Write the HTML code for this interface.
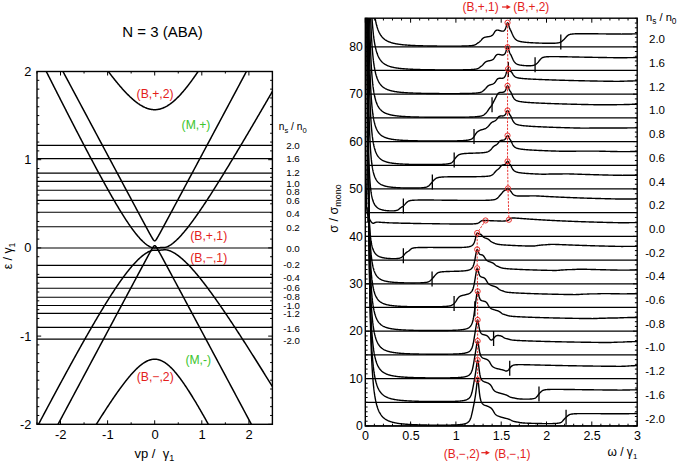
<!DOCTYPE html><html><head><meta charset="utf-8"><style>html,body{margin:0;padding:0;background:#fff;}svg{display:block;}text{font-family:"Liberation Sans", sans-serif;}</style></head><body>
<svg width="679" height="463" viewBox="0 0 679 463">
<rect width="679" height="463" fill="#fff"/>
<defs><clipPath id="cl"><rect x="37" y="71.5" width="235.4" height="352.8"/></clipPath>
<clipPath id="cr"><rect x="365.3" y="18.2" width="271.9" height="407.8"/></clipPath></defs>
<text x="162.5" y="37.2" font-size="15" text-anchor="middle">N = 3 (ABA)</text>
<line x1="37" y1="145.4" x2="272.4" y2="145.4" stroke="#000" stroke-width="1.15"/>
<line x1="37" y1="158.6" x2="272.4" y2="158.6" stroke="#000" stroke-width="1.15"/>
<line x1="37" y1="173.1" x2="272.4" y2="173.1" stroke="#000" stroke-width="1.15"/>
<line x1="37" y1="181.4" x2="272.4" y2="181.4" stroke="#000" stroke-width="1.15"/>
<line x1="37" y1="190.2" x2="272.4" y2="190.2" stroke="#000" stroke-width="1.15"/>
<line x1="37" y1="200.3" x2="272.4" y2="200.3" stroke="#000" stroke-width="1.15"/>
<line x1="37" y1="212.2" x2="272.4" y2="212.2" stroke="#000" stroke-width="1.15"/>
<line x1="37" y1="226.7" x2="272.4" y2="226.7" stroke="#000" stroke-width="1.15"/>
<line x1="37" y1="248" x2="272.4" y2="248" stroke="#000" stroke-width="1.15"/>
<line x1="37" y1="265.4" x2="272.4" y2="265.4" stroke="#000" stroke-width="1.15"/>
<line x1="37" y1="277.4" x2="272.4" y2="277.4" stroke="#000" stroke-width="1.15"/>
<line x1="37" y1="288.2" x2="272.4" y2="288.2" stroke="#000" stroke-width="1.15"/>
<line x1="37" y1="297.2" x2="272.4" y2="297.2" stroke="#000" stroke-width="1.15"/>
<line x1="37" y1="305.5" x2="272.4" y2="305.5" stroke="#000" stroke-width="1.15"/>
<line x1="37" y1="313.4" x2="272.4" y2="313.4" stroke="#000" stroke-width="1.15"/>
<line x1="37" y1="327.4" x2="272.4" y2="327.4" stroke="#000" stroke-width="1.15"/>
<line x1="37" y1="339.1" x2="272.4" y2="339.1" stroke="#000" stroke-width="1.15"/>
<g clip-path="url(#cl)" fill="none" stroke="#000" stroke-width="1.5" stroke-linejoin="round">
<polyline points="27.53,540.56 28,539.75 28.47,538.93 28.94,538.11 29.41,537.29 29.88,536.48 30.36,535.66 30.83,534.84 31.3,534.03 31.77,533.21 32.24,532.39 32.71,531.58 33.18,530.76 33.65,529.95 34.12,529.13 34.59,528.31 35.07,527.5 35.54,526.68 36.01,525.87 36.48,525.05 36.95,524.24 37.42,523.43 37.89,522.61 38.36,521.8 38.83,520.98 39.3,520.17 39.78,519.36 40.25,518.54 40.72,517.73 41.19,516.92 41.66,516.1 42.13,515.29 42.6,514.48 43.07,513.67 43.54,512.86 44.01,512.04 44.49,511.23 44.96,510.42 45.43,509.61 45.9,508.8 46.37,507.99 46.84,507.18 47.31,506.37 47.78,505.56 48.25,504.75 48.72,503.94 49.2,503.13 49.67,502.32 50.14,501.52 50.61,500.71 51.08,499.9 51.55,499.09 52.02,498.29 52.49,497.48 52.96,496.67 53.43,495.86 53.91,495.06 54.38,494.25 54.85,493.45 55.32,492.64 55.79,491.84 56.26,491.03 56.73,490.23 57.2,489.42 57.67,488.62 58.14,487.82 58.62,487.01 59.09,486.21 59.56,485.41 60.03,484.6 60.5,483.8 60.97,483 61.44,482.2 61.91,481.4 62.38,480.6 62.85,479.8 63.33,479 63.8,478.2 64.27,477.4 64.74,476.6 65.21,475.8 65.68,475.01 66.15,474.21 66.62,473.41 67.09,472.62 67.56,471.82 68.04,471.02 68.51,470.23 68.98,469.43 69.45,468.64 69.92,467.85 70.39,467.05 70.86,466.26 71.33,465.47 71.8,464.67 72.27,463.88 72.75,463.09 73.22,462.3 73.69,461.51 74.16,460.72 74.63,459.93 75.1,459.14 75.57,458.36 76.04,457.57 76.51,456.78 76.98,456 77.46,455.21 77.93,454.43 78.4,453.64 78.87,452.86 79.34,452.07 79.81,451.29 80.28,450.51 80.75,449.73 81.22,448.95 81.69,448.17 82.17,447.39 82.64,446.61 83.11,445.83 83.58,445.05 84.05,444.28 84.52,443.5 84.99,442.73 85.46,441.95 85.93,441.18 86.4,440.4 86.88,439.63 87.35,438.86 87.82,438.09 88.29,437.32 88.76,436.55 89.23,435.79 89.7,435.02 90.17,434.25 90.64,433.49 91.11,432.72 91.59,431.96 92.06,431.2 92.53,430.44 93,429.68 93.47,428.92 93.94,428.16 94.41,427.4 94.88,426.65 95.35,425.89 95.82,425.14 96.3,424.39 96.77,423.63 97.24,422.88 97.71,422.13 98.18,421.39 98.65,420.64 99.12,419.9 99.59,419.15 100.06,418.41 100.53,417.67 101.01,416.93 101.48,416.19 101.95,415.45 102.42,414.72 102.89,413.98 103.36,413.25 103.83,412.52 104.3,411.79 104.77,411.06 105.24,410.34 105.72,409.61 106.19,408.89 106.66,408.17 107.13,407.45 107.6,406.73 108.07,406.02 108.54,405.31 109.01,404.6 109.48,403.89 109.95,403.18 110.43,402.47 110.9,401.77 111.37,401.07 111.84,400.37 112.31,399.68 112.78,398.98 113.25,398.29 113.72,397.6 114.19,396.92 114.66,396.23 115.14,395.55 115.61,394.88 116.08,394.2 116.55,393.53 117.02,392.86 117.49,392.19 117.96,391.53 118.43,390.87 118.9,390.21 119.37,389.56 119.85,388.91 120.32,388.26 120.79,387.62 121.26,386.98 121.73,386.34 122.2,385.71 122.67,385.08 123.14,384.45 123.61,383.83 124.08,383.22 124.56,382.6 125.03,382 125.5,381.39 125.97,380.79 126.44,380.2 126.91,379.61 127.38,379.03 127.85,378.45 128.32,377.87 128.79,377.3 129.27,376.74 129.74,376.18 130.21,375.63 130.68,375.09 131.15,374.55 131.62,374.01 132.09,373.48 132.56,372.96 133.03,372.45 133.5,371.94 133.98,371.44 134.45,370.95 134.92,370.46 135.39,369.98 135.86,369.51 136.33,369.05 136.8,368.59 137.27,368.15 137.74,367.71 138.21,367.28 138.69,366.86 139.16,366.44 139.63,366.04 140.1,365.65 140.57,365.26 141.04,364.89 141.51,364.53 141.98,364.17 142.45,363.83 142.92,363.5 143.4,363.17 143.87,362.86 144.34,362.56 144.81,362.27 145.28,362 145.75,361.73 146.22,361.48 146.69,361.24 147.16,361.01 147.63,360.8 148.11,360.6 148.58,360.41 149.05,360.23 149.52,360.07 149.99,359.92 150.46,359.78 150.93,359.66 151.4,359.55 151.87,359.46 152.34,359.38 152.82,359.31 153.29,359.26 153.76,359.23 154.23,359.2 154.7,359.2 155.17,359.2 155.64,359.23 156.11,359.26 156.58,359.31 157.05,359.38 157.53,359.46 158,359.56 158.47,359.67 158.94,359.79 159.41,359.93 159.88,360.09 160.35,360.26 160.82,360.44 161.29,360.64 161.76,360.85 162.24,361.08 162.71,361.32 163.18,361.57 163.65,361.84 164.12,362.12 164.59,362.42 165.06,362.72 165.53,363.05 166,363.38 166.47,363.73 166.95,364.09 167.42,364.46 167.89,364.84 168.36,365.24 168.83,365.64 169.3,366.06 169.77,366.49 170.24,366.94 170.71,367.39 171.19,367.85 171.66,368.33 172.13,368.81 172.6,369.3 173.07,369.81 173.54,370.32 174.01,370.84 174.48,371.38 174.95,371.92 175.42,372.47 175.89,373.03 176.37,373.6 176.84,374.17 177.31,374.76 177.78,375.35 178.25,375.95 178.72,376.56 179.19,377.17 179.66,377.79 180.13,378.42 180.6,379.06 181.08,379.7 181.55,380.35 182.02,381 182.49,381.67 182.96,382.33 183.43,383.01 183.9,383.69 184.37,384.37 184.84,385.06 185.31,385.76 185.79,386.46 186.26,387.17 186.73,387.88 187.2,388.59 187.67,389.32 188.14,390.04 188.61,390.77 189.08,391.51 189.55,392.25 190.02,392.99 190.5,393.74 190.97,394.49 191.44,395.24 191.91,396 192.38,396.76 192.85,397.53 193.32,398.3 193.79,399.07 194.26,399.85 194.73,400.63 195.21,401.41 195.68,402.2 196.15,402.99 196.62,403.78 197.09,404.58 197.56,405.38 198.03,406.18 198.5,406.98 198.97,407.79 199.44,408.6 199.92,409.41 200.39,410.22 200.86,411.04 201.33,411.86 201.8,412.68 202.27,413.51 202.74,414.33 203.21,415.16 203.68,415.99 204.15,416.82 204.63,417.66 205.1,418.49 205.57,419.33 206.04,420.17 206.51,421.02 206.98,421.86 207.45,422.71 207.92,423.55 208.39,424.4 208.86,425.25 209.34,426.11 209.81,426.96 210.28,427.82 210.75,428.68 211.22,429.53 211.69,430.4 212.16,431.26 212.63,432.12 213.1,432.99 213.57,433.85 214.05,434.72 214.52,435.59 214.99,436.46 215.46,437.33 215.93,438.2 216.4,439.08 216.87,439.95 217.34,440.83 217.81,441.71 218.28,442.59 218.76,443.47 219.23,444.35 219.7,445.23 220.17,446.11 220.64,447 221.11,447.88 221.58,448.77 222.05,449.65 222.52,450.54 223,451.43 223.47,452.32 223.94,453.21 224.41,454.1 224.88,455 225.35,455.89 225.82,456.78 226.29,457.68 226.76,458.57 227.23,459.47 227.7,460.37 228.18,461.27 228.65,462.17 229.12,463.07 229.59,463.97 230.06,464.87 230.53,465.77 231,466.67 231.47,467.58 231.94,468.48 232.42,469.39 232.89,470.29 233.36,471.2 233.83,472.1 234.3,473.01 234.77,473.92 235.24,474.83 235.71,475.74 236.18,476.65 236.65,477.56 237.12,478.47 237.6,479.38 238.07,480.29 238.54,481.2 239.01,482.12 239.48,483.03 239.95,483.95 240.42,484.86 240.89,485.78 241.36,486.69 241.83,487.61 242.31,488.52 242.78,489.44 243.25,490.36 243.72,491.28 244.19,492.19 244.66,493.11 245.13,494.03 245.6,494.95 246.07,495.87 246.55,496.79 247.02,497.72 247.49,498.64 247.96,499.56 248.43,500.48 248.9,501.4 249.37,502.33 249.84,503.25 250.31,504.17 250.78,505.1 251.25,506.02 251.73,506.95 252.2,507.87 252.67,508.8 253.14,509.73 253.61,510.65 254.08,511.58 254.55,512.51 255.02,513.43 255.49,514.36 255.97,515.29 256.44,516.22 256.91,517.15 257.38,518.07 257.85,519 258.32,519.93 258.79,520.86 259.26,521.79 259.73,522.72 260.2,523.65 260.68,524.59 261.15,525.52 261.62,526.45 262.09,527.38 262.56,528.31 263.03,529.24 263.5,530.18 263.97,531.11 264.44,532.04 264.91,532.98 265.38,533.91 265.86,534.84 266.33,535.78 266.8,536.71 267.27,537.65 267.74,538.58 268.21,539.52 268.68,540.45 269.15,541.39 269.62,542.32 270.1,543.26 270.57,544.2 271.04,545.13 271.51,546.07 271.98,547.01 272.45,547.94 272.92,548.88 273.39,549.82 273.86,550.76 274.33,551.69 274.8,552.63 275.28,553.57 275.75,554.51 276.22,555.45 276.69,556.39 277.16,557.32 277.63,558.26 278.1,559.2 278.57,560.14 279.04,561.08 279.51,562.02 279.99,562.96 280.46,563.9 280.93,564.84 281.4,565.78 281.87,566.73"/>
<polyline points="27.53,445.1 28,444.21 28.47,443.31 28.94,442.42 29.41,441.53 29.88,440.63 30.36,439.74 30.83,438.85 31.3,437.95 31.77,437.06 32.24,436.17 32.71,435.28 33.18,434.38 33.65,433.49 34.12,432.6 34.59,431.71 35.07,430.82 35.54,429.93 36.01,429.04 36.48,428.15 36.95,427.26 37.42,426.37 37.89,425.48 38.36,424.59 38.83,423.71 39.3,422.82 39.78,421.93 40.25,421.04 40.72,420.16 41.19,419.27 41.66,418.38 42.13,417.5 42.6,416.61 43.07,415.73 43.54,414.84 44.01,413.96 44.49,413.07 44.96,412.19 45.43,411.3 45.9,410.42 46.37,409.54 46.84,408.65 47.31,407.77 47.78,406.89 48.25,406.01 48.72,405.13 49.2,404.25 49.67,403.37 50.14,402.49 50.61,401.61 51.08,400.73 51.55,399.85 52.02,398.97 52.49,398.09 52.96,397.21 53.43,396.34 53.91,395.46 54.38,394.58 54.85,393.71 55.32,392.83 55.79,391.96 56.26,391.08 56.73,390.21 57.2,389.34 57.67,388.46 58.14,387.59 58.62,386.72 59.09,385.85 59.56,384.97 60.03,384.1 60.5,383.23 60.97,382.36 61.44,381.5 61.91,380.63 62.38,379.76 62.85,378.89 63.33,378.02 63.8,377.16 64.27,376.29 64.74,375.43 65.21,374.56 65.68,373.7 66.15,372.83 66.62,371.97 67.09,371.11 67.56,370.25 68.04,369.39 68.51,368.53 68.98,367.67 69.45,366.81 69.92,365.95 70.39,365.09 70.86,364.23 71.33,363.38 71.8,362.52 72.27,361.67 72.75,360.81 73.22,359.96 73.69,359.11 74.16,358.26 74.63,357.4 75.1,356.55 75.57,355.7 76.04,354.86 76.51,354.01 76.98,353.16 77.46,352.31 77.93,351.47 78.4,350.62 78.87,349.78 79.34,348.94 79.81,348.09 80.28,347.25 80.75,346.41 81.22,345.57 81.69,344.74 82.17,343.9 82.64,343.06 83.11,342.23 83.58,341.39 84.05,340.56 84.52,339.73 84.99,338.89 85.46,338.06 85.93,337.23 86.4,336.41 86.88,335.58 87.35,334.75 87.82,333.93 88.29,333.11 88.76,332.28 89.23,331.46 89.7,330.64 90.17,329.82 90.64,329.01 91.11,328.19 91.59,327.38 92.06,326.56 92.53,325.75 93,324.94 93.47,324.13 93.94,323.32 94.41,322.52 94.88,321.71 95.35,320.91 95.82,320.11 96.3,319.31 96.77,318.51 97.24,317.71 97.71,316.91 98.18,316.12 98.65,315.33 99.12,314.54 99.59,313.75 100.06,312.96 100.53,312.18 101.01,311.39 101.48,310.61 101.95,309.83 102.42,309.05 102.89,308.28 103.36,307.51 103.83,306.73 104.3,305.96 104.77,305.2 105.24,304.43 105.72,303.67 106.19,302.91 106.66,302.15 107.13,301.39 107.6,300.64 108.07,299.89 108.54,299.14 109.01,298.39 109.48,297.65 109.95,296.9 110.43,296.17 110.9,295.43 111.37,294.7 111.84,293.96 112.31,293.24 112.78,292.51 113.25,291.79 113.72,291.07 114.19,290.35 114.66,289.64 115.14,288.93 115.61,288.22 116.08,287.52 116.55,286.82 117.02,286.12 117.49,285.43 117.96,284.74 118.43,284.05 118.9,283.37 119.37,282.69 119.85,282.02 120.32,281.34 120.79,280.68 121.26,280.01 121.73,279.35 122.2,278.7 122.67,278.05 123.14,277.4 123.61,276.76 124.08,276.12 124.56,275.49 125.03,274.86 125.5,274.24 125.97,273.62 126.44,273 126.91,272.4 127.38,271.79 127.85,271.19 128.32,270.6 128.79,270.01 129.27,269.43 129.74,268.85 130.21,268.28 130.68,267.72 131.15,267.16 131.62,266.6 132.09,266.06 132.56,265.52 133.03,264.98 133.5,264.45 133.98,263.93 134.45,263.42 134.92,262.91 135.39,262.41 135.86,261.92 136.33,261.43 136.8,260.95 137.27,260.48 137.74,260.01 138.21,259.56 138.69,259.11 139.16,258.67 139.63,258.23 140.1,257.81 140.57,257.39 141.04,256.99 141.51,256.59 141.98,256.2 142.45,255.82 142.92,255.44 143.4,255.08 143.87,254.73 144.34,254.39 144.81,254.05 145.28,253.73 145.75,253.41 146.22,253.11 146.69,252.82 147.16,252.54 147.63,252.27 148.11,252.01 148.58,251.77 149.05,251.54 149.52,251.32 149.99,251.12 150.46,250.94 150.93,250.77 151.4,250.62 151.87,250.49 152.34,250.38 152.82,250.3 153.29,250.23 153.76,250.19 154.23,250.17 154.7,250.16 155.17,250.17 155.64,250.18 156.11,250.2 156.58,250.21 157.05,250.23 157.53,250.24 158,250.25 158.47,250.24 158.94,250.23 159.41,250.22 159.88,250.19 160.35,250.16 160.82,250.12 161.29,250.08 161.76,250.03 162.24,249.98 162.71,249.93 163.18,249.88 163.65,249.83 164.12,249.8 164.59,249.77 165.06,249.77 165.53,249.78 166,249.81 166.47,249.87 166.95,249.94 167.42,250.04 167.89,250.15 168.36,250.28 168.83,250.43 169.3,250.59 169.77,250.76 170.24,250.95 170.71,251.15 171.19,251.37 171.66,251.59 172.13,251.82 172.6,252.07 173.07,252.32 173.54,252.59 174.01,252.86 174.48,253.14 174.95,253.43 175.42,253.73 175.89,254.04 176.37,254.36 176.84,254.69 177.31,255.02 177.78,255.36 178.25,255.71 178.72,256.07 179.19,256.43 179.66,256.8 180.13,257.18 180.6,257.57 181.08,257.96 181.55,258.36 182.02,258.76 182.49,259.18 182.96,259.59 183.43,260.02 183.9,260.45 184.37,260.89 184.84,261.33 185.31,261.78 185.79,262.23 186.26,262.69 186.73,263.16 187.2,263.63 187.67,264.1 188.14,264.59 188.61,265.07 189.08,265.56 189.55,266.06 190.02,266.56 190.5,267.07 190.97,267.58 191.44,268.09 191.91,268.61 192.38,269.14 192.85,269.67 193.32,270.2 193.79,270.73 194.26,271.28 194.73,271.82 195.21,272.37 195.68,272.92 196.15,273.48 196.62,274.04 197.09,274.6 197.56,275.17 198.03,275.74 198.5,276.31 198.97,276.89 199.44,277.47 199.92,278.05 200.39,278.64 200.86,279.23 201.33,279.82 201.8,280.42 202.27,281.02 202.74,281.62 203.21,282.23 203.68,282.83 204.15,283.45 204.63,284.06 205.1,284.67 205.57,285.29 206.04,285.91 206.51,286.54 206.98,287.16 207.45,287.79 207.92,288.42 208.39,289.06 208.86,289.69 209.34,290.33 209.81,290.97 210.28,291.61 210.75,292.25 211.22,292.9 211.69,293.55 212.16,294.2 212.63,294.85 213.1,295.51 213.57,296.16 214.05,296.82 214.52,297.48 214.99,298.14 215.46,298.8 215.93,299.47 216.4,300.14 216.87,300.81 217.34,301.48 217.81,302.15 218.28,302.82 218.76,303.5 219.23,304.17 219.7,304.85 220.17,305.53 220.64,306.21 221.11,306.89 221.58,307.58 222.05,308.26 222.52,308.95 223,309.64 223.47,310.33 223.94,311.02 224.41,311.71 224.88,312.41 225.35,313.1 225.82,313.8 226.29,314.49 226.76,315.19 227.23,315.89 227.7,316.59 228.18,317.3 228.65,318 229.12,318.7 229.59,319.41 230.06,320.11 230.53,320.82 231,321.53 231.47,322.24 231.94,322.95 232.42,323.66 232.89,324.37 233.36,325.09 233.83,325.8 234.3,326.52 234.77,327.23 235.24,327.95 235.71,328.67 236.18,329.39 236.65,330.11 237.12,330.83 237.6,331.55 238.07,332.27 238.54,333 239.01,333.72 239.48,334.45 239.95,335.17 240.42,335.9 240.89,336.62 241.36,337.35 241.83,338.08 242.31,338.81 242.78,339.54 243.25,340.27 243.72,341 244.19,341.74 244.66,342.47 245.13,343.2 245.6,343.94 246.07,344.67 246.55,345.41 247.02,346.14 247.49,346.88 247.96,347.62 248.43,348.36 248.9,349.1 249.37,349.83 249.84,350.57 250.31,351.32 250.78,352.06 251.25,352.8 251.73,353.54 252.2,354.28 252.67,355.03 253.14,355.77 253.61,356.51 254.08,357.26 254.55,358.01 255.02,358.75 255.49,359.5 255.97,360.24 256.44,360.99 256.91,361.74 257.38,362.49 257.85,363.24 258.32,363.99 258.79,364.74 259.26,365.49 259.73,366.24 260.2,366.99 260.68,367.74 261.15,368.49 261.62,369.25 262.09,370 262.56,370.75 263.03,371.51 263.5,372.26 263.97,373.02 264.44,373.77 264.91,374.53 265.38,375.28 265.86,376.04 266.33,376.79 266.8,377.55 267.27,378.31 267.74,379.07 268.21,379.83 268.68,380.58 269.15,381.34 269.62,382.1 270.1,382.86 270.57,383.62 271.04,384.38 271.51,385.14 271.98,385.9 272.45,386.66 272.92,387.43 273.39,388.19 273.86,388.95 274.33,389.71 274.8,390.48 275.28,391.24 275.75,392 276.22,392.77 276.69,393.53 277.16,394.29 277.63,395.06 278.1,395.82 278.57,396.59 279.04,397.36 279.51,398.12 279.99,398.89 280.46,399.65 280.93,400.42 281.4,401.19 281.87,401.95"/>
<polyline points="27.53,34.08 28,35.02 28.47,35.96 28.94,36.9 29.41,37.85 29.88,38.79 30.36,39.73 30.83,40.67 31.3,41.61 31.77,42.55 32.24,43.49 32.71,44.43 33.18,45.37 33.65,46.31 34.12,47.25 34.59,48.19 35.07,49.13 35.54,50.07 36.01,51.01 36.48,51.95 36.95,52.89 37.42,53.83 37.89,54.77 38.36,55.7 38.83,56.64 39.3,57.58 39.78,58.52 40.25,59.46 40.72,60.39 41.19,61.33 41.66,62.27 42.13,63.2 42.6,64.14 43.07,65.08 43.54,66.01 44.01,66.95 44.49,67.88 44.96,68.82 45.43,69.75 45.9,70.69 46.37,71.62 46.84,72.56 47.31,73.49 47.78,74.43 48.25,75.36 48.72,76.29 49.2,77.23 49.67,78.16 50.14,79.09 50.61,80.03 51.08,80.96 51.55,81.89 52.02,82.82 52.49,83.75 52.96,84.68 53.43,85.62 53.91,86.55 54.38,87.48 54.85,88.41 55.32,89.34 55.79,90.27 56.26,91.19 56.73,92.12 57.2,93.05 57.67,93.98 58.14,94.91 58.62,95.83 59.09,96.76 59.56,97.69 60.03,98.62 60.5,99.54 60.97,100.47 61.44,101.39 61.91,102.32 62.38,103.24 62.85,104.17 63.33,105.09 63.8,106.01 64.27,106.94 64.74,107.86 65.21,108.78 65.68,109.71 66.15,110.63 66.62,111.55 67.09,112.47 67.56,113.39 68.04,114.31 68.51,115.23 68.98,116.15 69.45,117.07 69.92,117.99 70.39,118.9 70.86,119.82 71.33,120.74 71.8,121.65 72.27,122.57 72.75,123.48 73.22,124.4 73.69,125.31 74.16,126.23 74.63,127.14 75.1,128.05 75.57,128.97 76.04,129.88 76.51,130.79 76.98,131.7 77.46,132.61 77.93,133.52 78.4,134.43 78.87,135.34 79.34,136.24 79.81,137.15 80.28,138.06 80.75,138.96 81.22,139.87 81.69,140.77 82.17,141.68 82.64,142.58 83.11,143.48 83.58,144.38 84.05,145.28 84.52,146.18 84.99,147.08 85.46,147.98 85.93,148.88 86.4,149.78 86.88,150.67 87.35,151.57 87.82,152.46 88.29,153.36 88.76,154.25 89.23,155.14 89.7,156.03 90.17,156.92 90.64,157.81 91.11,158.7 91.59,159.59 92.06,160.47 92.53,161.36 93,162.24 93.47,163.13 93.94,164.01 94.41,164.89 94.88,165.77 95.35,166.65 95.82,167.53 96.3,168.41 96.77,169.28 97.24,170.16 97.71,171.03 98.18,171.9 98.65,172.77 99.12,173.64 99.59,174.51 100.06,175.38 100.53,176.24 101.01,177.11 101.48,177.97 101.95,178.83 102.42,179.69 102.89,180.55 103.36,181.4 103.83,182.26 104.3,183.11 104.77,183.96 105.24,184.81 105.72,185.66 106.19,186.51 106.66,187.35 107.13,188.2 107.6,189.04 108.07,189.88 108.54,190.71 109.01,191.55 109.48,192.38 109.95,193.21 110.43,194.04 110.9,194.87 111.37,195.69 111.84,196.52 112.31,197.34 112.78,198.16 113.25,198.97 113.72,199.78 114.19,200.59 114.66,201.4 115.14,202.21 115.61,203.01 116.08,203.81 116.55,204.6 117.02,205.4 117.49,206.19 117.96,206.98 118.43,207.76 118.9,208.54 119.37,209.32 119.85,210.09 120.32,210.87 120.79,211.63 121.26,212.4 121.73,213.16 122.2,213.91 122.67,214.67 123.14,215.42 123.61,216.16 124.08,216.9 124.56,217.64 125.03,218.37 125.5,219.09 125.97,219.82 126.44,220.54 126.91,221.25 127.38,221.96 127.85,222.66 128.32,223.36 128.79,224.05 129.27,224.74 129.74,225.42 130.21,226.09 130.68,226.76 131.15,227.43 131.62,228.08 132.09,228.73 132.56,229.38 133.03,230.02 133.5,230.65 133.98,231.27 134.45,231.89 134.92,232.5 135.39,233.1 135.86,233.69 136.33,234.28 136.8,234.85 137.27,235.42 137.74,235.98 138.21,236.54 138.69,237.08 139.16,237.61 139.63,238.14 140.1,238.65 140.57,239.16 141.04,239.65 141.51,240.14 141.98,240.61 142.45,241.07 142.92,241.53 143.4,241.97 143.87,242.39 144.34,242.81 144.81,243.22 145.28,243.61 145.75,243.99 146.22,244.35 146.69,244.71 147.16,245.05 147.63,245.37 148.11,245.68 148.58,245.97 149.05,246.25 149.52,246.51 149.99,246.75 150.46,246.97 150.93,247.17 151.4,247.35 151.87,247.5 152.34,247.63 152.82,247.74 153.29,247.81 153.76,247.86 154.23,247.89 154.7,247.9 155.17,247.89 155.64,247.87 156.11,247.85 156.58,247.82 157.05,247.78 157.53,247.75 158,247.72 158.47,247.69 158.94,247.67 159.41,247.64 159.88,247.63 160.35,247.61 160.82,247.6 161.29,247.6 161.76,247.59 162.24,247.58 162.71,247.57 163.18,247.55 163.65,247.53 164.12,247.49 164.59,247.44 165.06,247.37 165.53,247.27 166,247.15 166.47,247.01 166.95,246.85 167.42,246.66 167.89,246.45 168.36,246.22 168.83,245.98 169.3,245.71 169.77,245.44 170.24,245.14 170.71,244.84 171.19,244.51 171.66,244.18 172.13,243.83 172.6,243.48 173.07,243.11 173.54,242.73 174.01,242.34 174.48,241.94 174.95,241.53 175.42,241.11 175.89,240.68 176.37,240.24 176.84,239.8 177.31,239.34 177.78,238.88 178.25,238.41 178.72,237.93 179.19,237.44 179.66,236.94 180.13,236.44 180.6,235.93 181.08,235.42 181.55,234.9 182.02,234.37 182.49,233.83 182.96,233.29 183.43,232.74 183.9,232.19 184.37,231.63 184.84,231.07 185.31,230.49 185.79,229.92 186.26,229.34 186.73,228.75 187.2,228.16 187.67,227.57 188.14,226.97 188.61,226.36 189.08,225.75 189.55,225.14 190.02,224.52 190.5,223.9 190.97,223.27 191.44,222.64 191.91,222.01 192.38,221.37 192.85,220.73 193.32,220.08 193.79,219.43 194.26,218.78 194.73,218.13 195.21,217.47 195.68,216.81 196.15,216.14 196.62,215.47 197.09,214.8 197.56,214.13 198.03,213.45 198.5,212.77 198.97,212.09 199.44,211.41 199.92,210.72 200.39,210.03 200.86,209.34 201.33,208.64 201.8,207.95 202.27,207.25 202.74,206.55 203.21,205.84 203.68,205.14 204.15,204.43 204.63,203.72 205.1,203.01 205.57,202.29 206.04,201.58 206.51,200.86 206.98,200.14 207.45,199.42 207.92,198.7 208.39,197.97 208.86,197.24 209.34,196.52 209.81,195.79 210.28,195.05 210.75,194.32 211.22,193.59 211.69,192.85 212.16,192.11 212.63,191.37 213.1,190.63 213.57,189.89 214.05,189.15 214.52,188.4 214.99,187.66 215.46,186.91 215.93,186.16 216.4,185.41 216.87,184.66 217.34,183.91 217.81,183.16 218.28,182.4 218.76,181.65 219.23,180.89 219.7,180.13 220.17,179.38 220.64,178.62 221.11,177.85 221.58,177.09 222.05,176.33 222.52,175.57 223,174.8 223.47,174.04 223.94,173.27 224.41,172.5 224.88,171.74 225.35,170.97 225.82,170.2 226.29,169.43 226.76,168.65 227.23,167.88 227.7,167.11 228.18,166.33 228.65,165.56 229.12,164.78 229.59,164.01 230.06,163.23 230.53,162.45 231,161.68 231.47,160.9 231.94,160.12 232.42,159.34 232.89,158.55 233.36,157.77 233.83,156.99 234.3,156.21 234.77,155.42 235.24,154.64 235.71,153.86 236.18,153.07 236.65,152.28 237.12,151.5 237.6,150.71 238.07,149.92 238.54,149.13 239.01,148.35 239.48,147.56 239.95,146.77 240.42,145.98 240.89,145.19 241.36,144.39 241.83,143.6 242.31,142.81 242.78,142.02 243.25,141.22 243.72,140.43 244.19,139.64 244.66,138.84 245.13,138.05 245.6,137.25 246.07,136.46 246.55,135.66 247.02,134.86 247.49,134.07 247.96,133.27 248.43,132.47 248.9,131.67 249.37,130.87 249.84,130.07 250.31,129.27 250.78,128.47 251.25,127.67 251.73,126.87 252.2,126.07 252.67,125.27 253.14,124.47 253.61,123.67 254.08,122.87 254.55,122.06 255.02,121.26 255.49,120.46 255.97,119.65 256.44,118.85 256.91,118.04 257.38,117.24 257.85,116.43 258.32,115.63 258.79,114.82 259.26,114.02 259.73,113.21 260.2,112.41 260.68,111.6 261.15,110.79 261.62,109.98 262.09,109.18 262.56,108.37 263.03,107.56 263.5,106.75 263.97,105.94 264.44,105.14 264.91,104.33 265.38,103.52 265.86,102.71 266.33,101.9 266.8,101.09 267.27,100.28 267.74,99.47 268.21,98.66 268.68,97.85 269.15,97.03 269.62,96.22 270.1,95.41 270.57,94.6 271.04,93.79 271.51,92.98 271.98,92.16 272.45,91.35 272.92,90.54 273.39,89.72 273.86,88.91 274.33,88.1 274.8,87.28 275.28,86.47 275.75,85.66 276.22,84.84 276.69,84.03 277.16,83.21 277.63,82.4 278.1,81.58 278.57,80.77 279.04,79.95 279.51,79.14 279.99,78.32 280.46,77.5 280.93,76.69 281.4,75.87 281.87,75.06"/>
<polyline points="27.53,-52.79 28,-52.02 28.47,-51.25 28.94,-50.48 29.41,-49.72 29.88,-48.95 30.36,-48.18 30.83,-47.41 31.3,-46.64 31.77,-45.87 32.24,-45.1 32.71,-44.34 33.18,-43.57 33.65,-42.8 34.12,-42.04 34.59,-41.27 35.07,-40.5 35.54,-39.74 36.01,-38.97 36.48,-38.21 36.95,-37.44 37.42,-36.68 37.89,-35.91 38.36,-35.15 38.83,-34.38 39.3,-33.62 39.78,-32.86 40.25,-32.09 40.72,-31.33 41.19,-30.57 41.66,-29.81 42.13,-29.04 42.6,-28.28 43.07,-27.52 43.54,-26.76 44.01,-26 44.49,-25.24 44.96,-24.48 45.43,-23.72 45.9,-22.96 46.37,-22.2 46.84,-21.44 47.31,-20.69 47.78,-19.93 48.25,-19.17 48.72,-18.41 49.2,-17.66 49.67,-16.9 50.14,-16.15 50.61,-15.39 51.08,-14.64 51.55,-13.88 52.02,-13.13 52.49,-12.37 52.96,-11.62 53.43,-10.87 53.91,-10.11 54.38,-9.36 54.85,-8.61 55.32,-7.86 55.79,-7.11 56.26,-6.36 56.73,-5.61 57.2,-4.86 57.67,-4.11 58.14,-3.36 58.62,-2.62 59.09,-1.87 59.56,-1.12 60.03,-0.37 60.5,0.37 60.97,1.12 61.44,1.86 61.91,2.61 62.38,3.35 62.85,4.09 63.33,4.83 63.8,5.58 64.27,6.32 64.74,7.06 65.21,7.8 65.68,8.54 66.15,9.28 66.62,10.02 67.09,10.75 67.56,11.49 68.04,12.23 68.51,12.96 68.98,13.7 69.45,14.43 69.92,15.17 70.39,15.9 70.86,16.64 71.33,17.37 71.8,18.1 72.27,18.83 72.75,19.56 73.22,20.29 73.69,21.02 74.16,21.74 74.63,22.47 75.1,23.2 75.57,23.92 76.04,24.65 76.51,25.37 76.98,26.09 77.46,26.82 77.93,27.54 78.4,28.26 78.87,28.98 79.34,29.7 79.81,30.41 80.28,31.13 80.75,31.85 81.22,32.56 81.69,33.28 82.17,33.99 82.64,34.7 83.11,35.41 83.58,36.12 84.05,36.83 84.52,37.54 84.99,38.25 85.46,38.95 85.93,39.66 86.4,40.36 86.88,41.06 87.35,41.77 87.82,42.47 88.29,43.16 88.76,43.86 89.23,44.56 89.7,45.25 90.17,45.95 90.64,46.64 91.11,47.33 91.59,48.02 92.06,48.71 92.53,49.4 93,50.09 93.47,50.77 93.94,51.46 94.41,52.14 94.88,52.82 95.35,53.5 95.82,54.18 96.3,54.85 96.77,55.53 97.24,56.2 97.71,56.87 98.18,57.54 98.65,58.21 99.12,58.87 99.59,59.54 100.06,60.2 100.53,60.86 101.01,61.52 101.48,62.18 101.95,62.83 102.42,63.49 102.89,64.14 103.36,64.79 103.83,65.44 104.3,66.08 104.77,66.72 105.24,67.37 105.72,68 106.19,68.64 106.66,69.28 107.13,69.91 107.6,70.54 108.07,71.17 108.54,71.79 109.01,72.41 109.48,73.03 109.95,73.65 110.43,74.27 110.9,74.88 111.37,75.49 111.84,76.09 112.31,76.7 112.78,77.3 113.25,77.9 113.72,78.49 114.19,79.08 114.66,79.67 115.14,80.26 115.61,80.84 116.08,81.42 116.55,82 117.02,82.57 117.49,83.14 117.96,83.71 118.43,84.27 118.9,84.83 119.37,85.38 119.85,85.93 120.32,86.48 120.79,87.02 121.26,87.56 121.73,88.1 122.2,88.63 122.67,89.16 123.14,89.68 123.61,90.2 124.08,90.71 124.56,91.22 125.03,91.73 125.5,92.22 125.97,92.72 126.44,93.21 126.91,93.7 127.38,94.18 127.85,94.65 128.32,95.12 128.79,95.58 129.27,96.04 129.74,96.5 130.21,96.94 130.68,97.38 131.15,97.82 131.62,98.25 132.09,98.67 132.56,99.09 133.03,99.5 133.5,99.91 133.98,100.31 134.45,100.7 134.92,101.08 135.39,101.46 135.86,101.83 136.33,102.2 136.8,102.55 137.27,102.9 137.74,103.24 138.21,103.58 138.69,103.91 139.16,104.22 139.63,104.54 140.1,104.84 140.57,105.13 141.04,105.42 141.51,105.7 141.98,105.97 142.45,106.23 142.92,106.48 143.4,106.73 143.87,106.96 144.34,107.19 144.81,107.41 145.28,107.61 145.75,107.81 146.22,108 146.69,108.18 147.16,108.35 147.63,108.51 148.11,108.66 148.58,108.8 149.05,108.93 149.52,109.05 149.99,109.16 150.46,109.26 150.93,109.35 151.4,109.43 151.87,109.5 152.34,109.56 152.82,109.61 153.29,109.64 153.76,109.67 154.23,109.69 154.7,109.69 155.17,109.69 155.64,109.67 156.11,109.64 156.58,109.61 157.05,109.56 157.53,109.5 158,109.43 158.47,109.35 158.94,109.26 159.41,109.15 159.88,109.04 160.35,108.92 160.82,108.78 161.29,108.64 161.76,108.48 162.24,108.31 162.71,108.14 163.18,107.95 163.65,107.75 164.12,107.54 164.59,107.32 165.06,107.09 165.53,106.85 166,106.6 166.47,106.34 166.95,106.08 167.42,105.8 167.89,105.51 168.36,105.21 168.83,104.9 169.3,104.58 169.77,104.25 170.24,103.92 170.71,103.57 171.19,103.22 171.66,102.85 172.13,102.48 172.6,102.1 173.07,101.71 173.54,101.31 174.01,100.91 174.48,100.49 174.95,100.07 175.42,99.64 175.89,99.2 176.37,98.75 176.84,98.29 177.31,97.83 177.78,97.36 178.25,96.89 178.72,96.4 179.19,95.91 179.66,95.41 180.13,94.9 180.6,94.39 181.08,93.87 181.55,93.35 182.02,92.81 182.49,92.28 182.96,91.73 183.43,91.18 183.9,90.62 184.37,90.06 184.84,89.49 185.31,88.92 185.79,88.34 186.26,87.75 186.73,87.16 187.2,86.56 187.67,85.96 188.14,85.36 188.61,84.74 189.08,84.13 189.55,83.51 190.02,82.88 190.5,82.25 190.97,81.61 191.44,80.97 191.91,80.33 192.38,79.68 192.85,79.03 193.32,78.37 193.79,77.71 194.26,77.04 194.73,76.37 195.21,75.7 195.68,75.02 196.15,74.34 196.62,73.65 197.09,72.97 197.56,72.27 198.03,71.58 198.5,70.88 198.97,70.18 199.44,69.47 199.92,68.76 200.39,68.05 200.86,67.34 201.33,66.62 201.8,65.9 202.27,65.17 202.74,64.45 203.21,63.72 203.68,62.99 204.15,62.25 204.63,61.51 205.1,60.77 205.57,60.03 206.04,59.28 206.51,58.54 206.98,57.79 207.45,57.03 207.92,56.28 208.39,55.52 208.86,54.76 209.34,54 209.81,53.23 210.28,52.47 210.75,51.7 211.22,50.93 211.69,50.15 212.16,49.38 212.63,48.6 213.1,47.82 213.57,47.04 214.05,46.26 214.52,45.48 214.99,44.69 215.46,43.9 215.93,43.11 216.4,42.32 216.87,41.53 217.34,40.73 217.81,39.94 218.28,39.14 218.76,38.34 219.23,37.54 219.7,36.74 220.17,35.93 220.64,35.13 221.11,34.32 221.58,33.51 222.05,32.7 222.52,31.89 223,31.08 223.47,30.26 223.94,29.45 224.41,28.63 224.88,27.81 225.35,26.99 225.82,26.17 226.29,25.35 226.76,24.53 227.23,23.7 227.7,22.88 228.18,22.05 228.65,21.22 229.12,20.4 229.59,19.57 230.06,18.74 230.53,17.9 231,17.07 231.47,16.24 231.94,15.4 232.42,14.57 232.89,13.73 233.36,12.89 233.83,12.05 234.3,11.21 234.77,10.37 235.24,9.53 235.71,8.69 236.18,7.84 236.65,7 237.12,6.15 237.6,5.31 238.07,4.46 238.54,3.61 239.01,2.77 239.48,1.92 239.95,1.07 240.42,0.22 240.89,-0.64 241.36,-1.49 241.83,-2.34 242.31,-3.2 242.78,-4.05 243.25,-4.91 243.72,-5.76 244.19,-6.62 244.66,-7.48 245.13,-8.33 245.6,-9.19 246.07,-10.05 246.55,-10.91 247.02,-11.77 247.49,-12.63 247.96,-13.5 248.43,-14.36 248.9,-15.22 249.37,-16.08 249.84,-16.95 250.31,-17.81 250.78,-18.68 251.25,-19.55 251.73,-20.41 252.2,-21.28 252.67,-22.15 253.14,-23.02 253.61,-23.88 254.08,-24.75 254.55,-25.62 255.02,-26.49 255.49,-27.36 255.97,-28.24 256.44,-29.11 256.91,-29.98 257.38,-30.85 257.85,-31.73 258.32,-32.6 258.79,-33.47 259.26,-34.35 259.73,-35.22 260.2,-36.1 260.68,-36.98 261.15,-37.85 261.62,-38.73 262.09,-39.61 262.56,-40.49 263.03,-41.36 263.5,-42.24 263.97,-43.12 264.44,-44 264.91,-44.88 265.38,-45.76 265.86,-46.64 266.33,-47.52 266.8,-48.4 267.27,-49.29 267.74,-50.17 268.21,-51.05 268.68,-51.93 269.15,-52.82 269.62,-53.7 270.1,-54.58 270.57,-55.47 271.04,-56.35 271.51,-57.24 271.98,-58.12 272.45,-59.01 272.92,-59.89 273.39,-60.78 273.86,-61.67 274.33,-62.55 274.8,-63.44 275.28,-64.33 275.75,-65.22 276.22,-66.11 276.69,-66.99 277.16,-67.88 277.63,-68.77 278.1,-69.66 278.57,-70.55 279.04,-71.44 279.51,-72.33 279.99,-73.22 280.46,-74.11 280.93,-75 281.4,-75.89 281.87,-76.79"/>
<polyline points="27.53,481.42 28,480.53 28.47,479.65 28.94,478.77 29.41,477.89 29.88,477.01 30.36,476.12 30.83,475.24 31.3,474.36 31.77,473.48 32.24,472.6 32.71,471.71 33.18,470.83 33.65,469.95 34.12,469.07 34.59,468.19 35.07,467.3 35.54,466.42 36.01,465.54 36.48,464.66 36.95,463.78 37.42,462.89 37.89,462.01 38.36,461.13 38.83,460.25 39.3,459.37 39.78,458.48 40.25,457.6 40.72,456.72 41.19,455.84 41.66,454.96 42.13,454.08 42.6,453.19 43.07,452.31 43.54,451.43 44.01,450.55 44.49,449.67 44.96,448.78 45.43,447.9 45.9,447.02 46.37,446.14 46.84,445.26 47.31,444.37 47.78,443.49 48.25,442.61 48.72,441.73 49.2,440.85 49.67,439.96 50.14,439.08 50.61,438.2 51.08,437.32 51.55,436.44 52.02,435.55 52.49,434.67 52.96,433.79 53.43,432.91 53.91,432.03 54.38,431.14 54.85,430.26 55.32,429.38 55.79,428.5 56.26,427.62 56.73,426.74 57.2,425.85 57.67,424.97 58.14,424.09 58.62,423.21 59.09,422.33 59.56,421.44 60.03,420.56 60.5,419.68 60.97,418.8 61.44,417.92 61.91,417.03 62.38,416.15 62.85,415.27 63.33,414.39 63.8,413.51 64.27,412.62 64.74,411.74 65.21,410.86 65.68,409.98 66.15,409.1 66.62,408.21 67.09,407.33 67.56,406.45 68.04,405.57 68.51,404.69 68.98,403.81 69.45,402.92 69.92,402.04 70.39,401.16 70.86,400.28 71.33,399.4 71.8,398.51 72.27,397.63 72.75,396.75 73.22,395.87 73.69,394.99 74.16,394.1 74.63,393.22 75.1,392.34 75.57,391.46 76.04,390.58 76.51,389.7 76.98,388.81 77.46,387.93 77.93,387.05 78.4,386.17 78.87,385.29 79.34,384.4 79.81,383.52 80.28,382.64 80.75,381.76 81.22,380.88 81.69,379.99 82.17,379.11 82.64,378.23 83.11,377.35 83.58,376.47 84.05,375.59 84.52,374.7 84.99,373.82 85.46,372.94 85.93,372.06 86.4,371.18 86.88,370.29 87.35,369.41 87.82,368.53 88.29,367.65 88.76,366.77 89.23,365.88 89.7,365 90.17,364.12 90.64,363.24 91.11,362.36 91.59,361.48 92.06,360.59 92.53,359.71 93,358.83 93.47,357.95 93.94,357.07 94.41,356.18 94.88,355.3 95.35,354.42 95.82,353.54 96.3,352.66 96.77,351.78 97.24,350.89 97.71,350.01 98.18,349.13 98.65,348.25 99.12,347.37 99.59,346.49 100.06,345.6 100.53,344.72 101.01,343.84 101.48,342.96 101.95,342.08 102.42,341.19 102.89,340.31 103.36,339.43 103.83,338.55 104.3,337.67 104.77,336.79 105.24,335.9 105.72,335.02 106.19,334.14 106.66,333.26 107.13,332.38 107.6,331.5 108.07,330.61 108.54,329.73 109.01,328.85 109.48,327.97 109.95,327.09 110.43,326.21 110.9,325.32 111.37,324.44 111.84,323.56 112.31,322.68 112.78,321.8 113.25,320.92 113.72,320.03 114.19,319.15 114.66,318.27 115.14,317.39 115.61,316.51 116.08,315.63 116.55,314.75 117.02,313.86 117.49,312.98 117.96,312.1 118.43,311.22 118.9,310.34 119.37,309.46 119.85,308.58 120.32,307.69 120.79,306.81 121.26,305.93 121.73,305.05 122.2,304.17 122.67,303.29 123.14,302.41 123.61,301.52 124.08,300.64 124.56,299.76 125.03,298.88 125.5,298 125.97,297.12 126.44,296.24 126.91,295.36 127.38,294.47 127.85,293.59 128.32,292.71 128.79,291.83 129.27,290.95 129.74,290.07 130.21,289.19 130.68,288.31 131.15,287.43 131.62,286.55 132.09,285.67 132.56,284.79 133.03,283.91 133.5,283.02 133.98,282.14 134.45,281.26 134.92,280.38 135.39,279.5 135.86,278.62 136.33,277.74 136.8,276.86 137.27,275.98 137.74,275.1 138.21,274.23 138.69,273.35 139.16,272.47 139.63,271.59 140.1,270.71 140.57,269.83 141.04,268.95 141.51,268.07 141.98,267.2 142.45,266.32 142.92,265.44 143.4,264.56 143.87,263.69 144.34,262.81 144.81,261.94 145.28,261.06 145.75,260.19 146.22,259.32 146.69,258.44 147.16,257.57 147.63,256.71 148.11,255.84 148.58,254.97 149.05,254.11 149.52,253.25 149.99,252.4 150.46,251.55 150.93,250.71 151.4,249.88 151.87,249.06 152.34,248.27 152.82,247.52 153.29,246.82 153.76,246.22 154.23,245.8 154.7,245.64 155.17,245.8 155.64,246.22 156.11,246.82 156.58,247.52 157.05,248.27 157.53,249.06 158,249.88 158.47,250.71 158.94,251.55 159.41,252.4 159.88,253.25 160.35,254.11 160.82,254.97 161.29,255.84 161.76,256.71 162.24,257.57 162.71,258.44 163.18,259.32 163.65,260.19 164.12,261.06 164.59,261.94 165.06,262.81 165.53,263.69 166,264.56 166.47,265.44 166.95,266.32 167.42,267.2 167.89,268.07 168.36,268.95 168.83,269.83 169.3,270.71 169.77,271.59 170.24,272.47 170.71,273.35 171.19,274.23 171.66,275.1 172.13,275.98 172.6,276.86 173.07,277.74 173.54,278.62 174.01,279.5 174.48,280.38 174.95,281.26 175.42,282.14 175.89,283.02 176.37,283.91 176.84,284.79 177.31,285.67 177.78,286.55 178.25,287.43 178.72,288.31 179.19,289.19 179.66,290.07 180.13,290.95 180.6,291.83 181.08,292.71 181.55,293.59 182.02,294.47 182.49,295.36 182.96,296.24 183.43,297.12 183.9,298 184.37,298.88 184.84,299.76 185.31,300.64 185.79,301.52 186.26,302.41 186.73,303.29 187.2,304.17 187.67,305.05 188.14,305.93 188.61,306.81 189.08,307.69 189.55,308.58 190.02,309.46 190.5,310.34 190.97,311.22 191.44,312.1 191.91,312.98 192.38,313.86 192.85,314.75 193.32,315.63 193.79,316.51 194.26,317.39 194.73,318.27 195.21,319.15 195.68,320.03 196.15,320.92 196.62,321.8 197.09,322.68 197.56,323.56 198.03,324.44 198.5,325.32 198.97,326.21 199.44,327.09 199.92,327.97 200.39,328.85 200.86,329.73 201.33,330.61 201.8,331.5 202.27,332.38 202.74,333.26 203.21,334.14 203.68,335.02 204.15,335.9 204.63,336.79 205.1,337.67 205.57,338.55 206.04,339.43 206.51,340.31 206.98,341.19 207.45,342.08 207.92,342.96 208.39,343.84 208.86,344.72 209.34,345.6 209.81,346.49 210.28,347.37 210.75,348.25 211.22,349.13 211.69,350.01 212.16,350.89 212.63,351.78 213.1,352.66 213.57,353.54 214.05,354.42 214.52,355.3 214.99,356.18 215.46,357.07 215.93,357.95 216.4,358.83 216.87,359.71 217.34,360.59 217.81,361.48 218.28,362.36 218.76,363.24 219.23,364.12 219.7,365 220.17,365.88 220.64,366.77 221.11,367.65 221.58,368.53 222.05,369.41 222.52,370.29 223,371.18 223.47,372.06 223.94,372.94 224.41,373.82 224.88,374.7 225.35,375.59 225.82,376.47 226.29,377.35 226.76,378.23 227.23,379.11 227.7,379.99 228.18,380.88 228.65,381.76 229.12,382.64 229.59,383.52 230.06,384.4 230.53,385.29 231,386.17 231.47,387.05 231.94,387.93 232.42,388.81 232.89,389.7 233.36,390.58 233.83,391.46 234.3,392.34 234.77,393.22 235.24,394.1 235.71,394.99 236.18,395.87 236.65,396.75 237.12,397.63 237.6,398.51 238.07,399.4 238.54,400.28 239.01,401.16 239.48,402.04 239.95,402.92 240.42,403.81 240.89,404.69 241.36,405.57 241.83,406.45 242.31,407.33 242.78,408.21 243.25,409.1 243.72,409.98 244.19,410.86 244.66,411.74 245.13,412.62 245.6,413.51 246.07,414.39 246.55,415.27 247.02,416.15 247.49,417.03 247.96,417.92 248.43,418.8 248.9,419.68 249.37,420.56 249.84,421.44 250.31,422.33 250.78,423.21 251.25,424.09 251.73,424.97 252.2,425.85 252.67,426.74 253.14,427.62 253.61,428.5 254.08,429.38 254.55,430.26 255.02,431.14 255.49,432.03 255.97,432.91 256.44,433.79 256.91,434.67 257.38,435.55 257.85,436.44 258.32,437.32 258.79,438.2 259.26,439.08 259.73,439.96 260.2,440.85 260.68,441.73 261.15,442.61 261.62,443.49 262.09,444.37 262.56,445.26 263.03,446.14 263.5,447.02 263.97,447.9 264.44,448.78 264.91,449.67 265.38,450.55 265.86,451.43 266.33,452.31 266.8,453.19 267.27,454.08 267.74,454.96 268.21,455.84 268.68,456.72 269.15,457.6 269.62,458.48 270.1,459.37 270.57,460.25 271.04,461.13 271.51,462.01 271.98,462.89 272.45,463.78 272.92,464.66 273.39,465.54 273.86,466.42 274.33,467.3 274.8,468.19 275.28,469.07 275.75,469.95 276.22,470.83 276.69,471.71 277.16,472.6 277.63,473.48 278.1,474.36 278.57,475.24 279.04,476.12 279.51,477.01 279.99,477.89 280.46,478.77 280.93,479.65 281.4,480.53 281.87,481.42"/>
<polyline points="27.53,5.11 28,5.99 28.47,6.88 28.94,7.76 29.41,8.64 29.88,9.52 30.36,10.4 30.83,11.29 31.3,12.17 31.77,13.05 32.24,13.93 32.71,14.81 33.18,15.7 33.65,16.58 34.12,17.46 34.59,18.34 35.07,19.22 35.54,20.11 36.01,20.99 36.48,21.87 36.95,22.75 37.42,23.63 37.89,24.51 38.36,25.4 38.83,26.28 39.3,27.16 39.78,28.04 40.25,28.92 40.72,29.81 41.19,30.69 41.66,31.57 42.13,32.45 42.6,33.33 43.07,34.22 43.54,35.1 44.01,35.98 44.49,36.86 44.96,37.74 45.43,38.63 45.9,39.51 46.37,40.39 46.84,41.27 47.31,42.15 47.78,43.04 48.25,43.92 48.72,44.8 49.2,45.68 49.67,46.56 50.14,47.45 50.61,48.33 51.08,49.21 51.55,50.09 52.02,50.97 52.49,51.86 52.96,52.74 53.43,53.62 53.91,54.5 54.38,55.38 54.85,56.26 55.32,57.15 55.79,58.03 56.26,58.91 56.73,59.79 57.2,60.67 57.67,61.56 58.14,62.44 58.62,63.32 59.09,64.2 59.56,65.08 60.03,65.97 60.5,66.85 60.97,67.73 61.44,68.61 61.91,69.49 62.38,70.38 62.85,71.26 63.33,72.14 63.8,73.02 64.27,73.9 64.74,74.79 65.21,75.67 65.68,76.55 66.15,77.43 66.62,78.31 67.09,79.19 67.56,80.08 68.04,80.96 68.51,81.84 68.98,82.72 69.45,83.6 69.92,84.49 70.39,85.37 70.86,86.25 71.33,87.13 71.8,88.01 72.27,88.9 72.75,89.78 73.22,90.66 73.69,91.54 74.16,92.42 74.63,93.31 75.1,94.19 75.57,95.07 76.04,95.95 76.51,96.83 76.98,97.71 77.46,98.6 77.93,99.48 78.4,100.36 78.87,101.24 79.34,102.12 79.81,103.01 80.28,103.89 80.75,104.77 81.22,105.65 81.69,106.53 82.17,107.42 82.64,108.3 83.11,109.18 83.58,110.06 84.05,110.94 84.52,111.82 84.99,112.71 85.46,113.59 85.93,114.47 86.4,115.35 86.88,116.23 87.35,117.12 87.82,118 88.29,118.88 88.76,119.76 89.23,120.64 89.7,121.52 90.17,122.41 90.64,123.29 91.11,124.17 91.59,125.05 92.06,125.93 92.53,126.82 93,127.7 93.47,128.58 93.94,129.46 94.41,130.34 94.88,131.22 95.35,132.11 95.82,132.99 96.3,133.87 96.77,134.75 97.24,135.63 97.71,136.52 98.18,137.4 98.65,138.28 99.12,139.16 99.59,140.04 100.06,140.92 100.53,141.81 101.01,142.69 101.48,143.57 101.95,144.45 102.42,145.33 102.89,146.21 103.36,147.1 103.83,147.98 104.3,148.86 104.77,149.74 105.24,150.62 105.72,151.51 106.19,152.39 106.66,153.27 107.13,154.15 107.6,155.03 108.07,155.91 108.54,156.8 109.01,157.68 109.48,158.56 109.95,159.44 110.43,160.32 110.9,161.2 111.37,162.09 111.84,162.97 112.31,163.85 112.78,164.73 113.25,165.61 113.72,166.49 114.19,167.37 114.66,168.26 115.14,169.14 115.61,170.02 116.08,170.9 116.55,171.78 117.02,172.66 117.49,173.55 117.96,174.43 118.43,175.31 118.9,176.19 119.37,177.07 119.85,177.95 120.32,178.83 120.79,179.72 121.26,180.6 121.73,181.48 122.2,182.36 122.67,183.24 123.14,184.12 123.61,185 124.08,185.88 124.56,186.77 125.03,187.65 125.5,188.53 125.97,189.41 126.44,190.29 126.91,191.17 127.38,192.05 127.85,192.93 128.32,193.81 128.79,194.7 129.27,195.58 129.74,196.46 130.21,197.34 130.68,198.22 131.15,199.1 131.62,199.98 132.09,200.86 132.56,201.74 133.03,202.62 133.5,203.5 133.98,204.38 134.45,205.26 134.92,206.14 135.39,207.02 135.86,207.9 136.33,208.78 136.8,209.66 137.27,210.54 137.74,211.42 138.21,212.3 138.69,213.18 139.16,214.06 139.63,214.94 140.1,215.82 140.57,216.7 141.04,217.58 141.51,218.45 141.98,219.33 142.45,220.21 142.92,221.09 143.4,221.96 143.87,222.84 144.34,223.72 144.81,224.59 145.28,225.46 145.75,226.34 146.22,227.21 146.69,228.08 147.16,228.95 147.63,229.82 148.11,230.69 148.58,231.55 149.05,232.42 149.52,233.28 149.99,234.13 150.46,234.98 150.93,235.82 151.4,236.65 151.87,237.46 152.34,238.26 152.82,239.01 153.29,239.71 153.76,240.31 154.23,240.73 154.7,240.89 155.17,240.73 155.64,240.31 156.11,239.71 156.58,239.01 157.05,238.26 157.53,237.46 158,236.65 158.47,235.82 158.94,234.98 159.41,234.13 159.88,233.28 160.35,232.42 160.82,231.55 161.29,230.69 161.76,229.82 162.24,228.95 162.71,228.08 163.18,227.21 163.65,226.34 164.12,225.46 164.59,224.59 165.06,223.72 165.53,222.84 166,221.96 166.47,221.09 166.95,220.21 167.42,219.33 167.89,218.45 168.36,217.58 168.83,216.7 169.3,215.82 169.77,214.94 170.24,214.06 170.71,213.18 171.19,212.3 171.66,211.42 172.13,210.54 172.6,209.66 173.07,208.78 173.54,207.9 174.01,207.02 174.48,206.14 174.95,205.26 175.42,204.38 175.89,203.5 176.37,202.62 176.84,201.74 177.31,200.86 177.78,199.98 178.25,199.1 178.72,198.22 179.19,197.34 179.66,196.46 180.13,195.58 180.6,194.7 181.08,193.81 181.55,192.93 182.02,192.05 182.49,191.17 182.96,190.29 183.43,189.41 183.9,188.53 184.37,187.65 184.84,186.77 185.31,185.88 185.79,185 186.26,184.12 186.73,183.24 187.2,182.36 187.67,181.48 188.14,180.6 188.61,179.72 189.08,178.83 189.55,177.95 190.02,177.07 190.5,176.19 190.97,175.31 191.44,174.43 191.91,173.55 192.38,172.66 192.85,171.78 193.32,170.9 193.79,170.02 194.26,169.14 194.73,168.26 195.21,167.37 195.68,166.49 196.15,165.61 196.62,164.73 197.09,163.85 197.56,162.97 198.03,162.09 198.5,161.2 198.97,160.32 199.44,159.44 199.92,158.56 200.39,157.68 200.86,156.8 201.33,155.91 201.8,155.03 202.27,154.15 202.74,153.27 203.21,152.39 203.68,151.51 204.15,150.62 204.63,149.74 205.1,148.86 205.57,147.98 206.04,147.1 206.51,146.21 206.98,145.33 207.45,144.45 207.92,143.57 208.39,142.69 208.86,141.81 209.34,140.92 209.81,140.04 210.28,139.16 210.75,138.28 211.22,137.4 211.69,136.52 212.16,135.63 212.63,134.75 213.1,133.87 213.57,132.99 214.05,132.11 214.52,131.22 214.99,130.34 215.46,129.46 215.93,128.58 216.4,127.7 216.87,126.82 217.34,125.93 217.81,125.05 218.28,124.17 218.76,123.29 219.23,122.41 219.7,121.52 220.17,120.64 220.64,119.76 221.11,118.88 221.58,118 222.05,117.12 222.52,116.23 223,115.35 223.47,114.47 223.94,113.59 224.41,112.71 224.88,111.82 225.35,110.94 225.82,110.06 226.29,109.18 226.76,108.3 227.23,107.42 227.7,106.53 228.18,105.65 228.65,104.77 229.12,103.89 229.59,103.01 230.06,102.12 230.53,101.24 231,100.36 231.47,99.48 231.94,98.6 232.42,97.71 232.89,96.83 233.36,95.95 233.83,95.07 234.3,94.19 234.77,93.31 235.24,92.42 235.71,91.54 236.18,90.66 236.65,89.78 237.12,88.9 237.6,88.01 238.07,87.13 238.54,86.25 239.01,85.37 239.48,84.49 239.95,83.6 240.42,82.72 240.89,81.84 241.36,80.96 241.83,80.08 242.31,79.19 242.78,78.31 243.25,77.43 243.72,76.55 244.19,75.67 244.66,74.79 245.13,73.9 245.6,73.02 246.07,72.14 246.55,71.26 247.02,70.38 247.49,69.49 247.96,68.61 248.43,67.73 248.9,66.85 249.37,65.97 249.84,65.08 250.31,64.2 250.78,63.32 251.25,62.44 251.73,61.56 252.2,60.67 252.67,59.79 253.14,58.91 253.61,58.03 254.08,57.15 254.55,56.26 255.02,55.38 255.49,54.5 255.97,53.62 256.44,52.74 256.91,51.86 257.38,50.97 257.85,50.09 258.32,49.21 258.79,48.33 259.26,47.45 259.73,46.56 260.2,45.68 260.68,44.8 261.15,43.92 261.62,43.04 262.09,42.15 262.56,41.27 263.03,40.39 263.5,39.51 263.97,38.63 264.44,37.74 264.91,36.86 265.38,35.98 265.86,35.1 266.33,34.22 266.8,33.33 267.27,32.45 267.74,31.57 268.21,30.69 268.68,29.81 269.15,28.92 269.62,28.04 270.1,27.16 270.57,26.28 271.04,25.4 271.51,24.51 271.98,23.63 272.45,22.75 272.92,21.87 273.39,20.99 273.86,20.11 274.33,19.22 274.8,18.34 275.28,17.46 275.75,16.58 276.22,15.7 276.69,14.81 277.16,13.93 277.63,13.05 278.1,12.17 278.57,11.29 279.04,10.4 279.51,9.52 279.99,8.64 280.46,7.76 280.93,6.88 281.4,5.99 281.87,5.11"/>
</g>
<rect x="37" y="71.5" width="235.4" height="352.8" fill="none" stroke="#000" stroke-width="1.4"/>
<path d="M37 424.3h4.2M272.4 424.3h-4.2M37 415.48h2.3M272.4 415.48h-2.3M37 406.66h2.3M272.4 406.66h-2.3M37 397.84h2.3M272.4 397.84h-2.3M37 389.02h2.3M272.4 389.02h-2.3M37 380.2h2.3M272.4 380.2h-2.3M37 371.38h2.3M272.4 371.38h-2.3M37 362.56h2.3M272.4 362.56h-2.3M37 353.74h2.3M272.4 353.74h-2.3M37 344.92h2.3M272.4 344.92h-2.3M37 336.1h4.2M272.4 336.1h-4.2M37 327.28h2.3M272.4 327.28h-2.3M37 318.46h2.3M272.4 318.46h-2.3M37 309.64h2.3M272.4 309.64h-2.3M37 300.82h2.3M272.4 300.82h-2.3M37 292h2.3M272.4 292h-2.3M37 283.18h2.3M272.4 283.18h-2.3M37 274.36h2.3M272.4 274.36h-2.3M37 265.54h2.3M272.4 265.54h-2.3M37 256.72h2.3M272.4 256.72h-2.3M37 247.9h4.2M272.4 247.9h-4.2M37 239.08h2.3M272.4 239.08h-2.3M37 230.26h2.3M272.4 230.26h-2.3M37 221.44h2.3M272.4 221.44h-2.3M37 212.62h2.3M272.4 212.62h-2.3M37 203.8h2.3M272.4 203.8h-2.3M37 194.98h2.3M272.4 194.98h-2.3M37 186.16h2.3M272.4 186.16h-2.3M37 177.34h2.3M272.4 177.34h-2.3M37 168.52h2.3M272.4 168.52h-2.3M37 159.7h4.2M272.4 159.7h-4.2M37 150.88h2.3M272.4 150.88h-2.3M37 142.06h2.3M272.4 142.06h-2.3M37 133.24h2.3M272.4 133.24h-2.3M37 124.42h2.3M272.4 124.42h-2.3M37 115.6h2.3M272.4 115.6h-2.3M37 106.78h2.3M272.4 106.78h-2.3M37 97.96h2.3M272.4 97.96h-2.3M37 89.14h2.3M272.4 89.14h-2.3M37 80.32h2.3M272.4 80.32h-2.3M37 71.5h4.2M272.4 71.5h-4.2M36.95 424.3v-2M36.95 71.5v2M60.5 424.3v-4M60.5 71.5v4M84.05 424.3v-2M84.05 71.5v2M107.6 424.3v-4M107.6 71.5v4M131.15 424.3v-2M131.15 71.5v2M154.7 424.3v-4M154.7 71.5v4M178.25 424.3v-2M178.25 71.5v2M201.8 424.3v-4M201.8 71.5v4M225.35 424.3v-2M225.35 71.5v2M248.9 424.3v-4M248.9 71.5v4M272.45 424.3v-2M272.45 71.5v2" stroke="#000" stroke-width="1" fill="none"/>
<text x="31.3" y="75.9" font-size="12.8" text-anchor="end">2</text>
<text x="31.3" y="164.1" font-size="12.8" text-anchor="end">1</text>
<text x="31.3" y="252.3" font-size="12.8" text-anchor="end">0</text>
<text x="31.3" y="340.5" font-size="12.8" text-anchor="end">-1</text>
<text x="31.3" y="428.7" font-size="12.8" text-anchor="end">-2</text>
<text x="60.8" y="439.4" font-size="13" text-anchor="middle">-2</text>
<text x="107.9" y="439.4" font-size="13" text-anchor="middle">-1</text>
<text x="155" y="439.4" font-size="13" text-anchor="middle">0</text>
<text x="202.1" y="439.4" font-size="13" text-anchor="middle">1</text>
<text x="249.2" y="439.4" font-size="13" text-anchor="middle">2</text>
<text x="134.5" y="457.5" font-size="13" xml:space="preserve">vp /  &#947;<tspan font-size="9" dy="3">1</tspan></text>
<text transform="translate(12.2,256) rotate(-90)" font-size="12.3" text-anchor="middle">&#949; / &#947;<tspan font-size="8.6" dy="3">1</tspan></text>
<text x="278.8" y="129.8" font-size="10.2">n<tspan font-size="7.6" dy="3">s</tspan><tspan dy="-3"> / n</tspan><tspan font-size="7.6" dy="3">0</tspan></text>
<text x="299.8" y="148.95" font-size="9.6" text-anchor="end" textLength="13.6" lengthAdjust="spacingAndGlyphs">2.0</text>
<text x="299.8" y="161.65" font-size="9.6" text-anchor="end" textLength="13.6" lengthAdjust="spacingAndGlyphs">1.6</text>
<text x="299.8" y="175.95" font-size="9.6" text-anchor="end" textLength="13.6" lengthAdjust="spacingAndGlyphs">1.2</text>
<text x="299.8" y="186.55" font-size="9.6" text-anchor="end" textLength="13.6" lengthAdjust="spacingAndGlyphs">1.0</text>
<text x="299.8" y="194.95" font-size="9.6" text-anchor="end" textLength="13.6" lengthAdjust="spacingAndGlyphs">0.8</text>
<text x="299.8" y="204.05" font-size="9.6" text-anchor="end" textLength="13.6" lengthAdjust="spacingAndGlyphs">0.6</text>
<text x="299.8" y="217.05" font-size="9.6" text-anchor="end" textLength="13.6" lengthAdjust="spacingAndGlyphs">0.4</text>
<text x="299.8" y="230.85" font-size="9.6" text-anchor="end" textLength="13.6" lengthAdjust="spacingAndGlyphs">0.2</text>
<text x="299.8" y="251.95" font-size="9.6" text-anchor="end" textLength="13.6" lengthAdjust="spacingAndGlyphs">0.0</text>
<text x="299.8" y="268.45" font-size="9.6" text-anchor="end" textLength="16.6" lengthAdjust="spacingAndGlyphs">-0.2</text>
<text x="299.8" y="280.75" font-size="9.6" text-anchor="end" textLength="16.6" lengthAdjust="spacingAndGlyphs">-0.4</text>
<text x="299.8" y="290.95" font-size="9.6" text-anchor="end" textLength="16.6" lengthAdjust="spacingAndGlyphs">-0.6</text>
<text x="299.8" y="300.25" font-size="9.6" text-anchor="end" textLength="16.6" lengthAdjust="spacingAndGlyphs">-0.8</text>
<text x="299.8" y="309.25" font-size="9.6" text-anchor="end" textLength="16.6" lengthAdjust="spacingAndGlyphs">-1.0</text>
<text x="299.8" y="317.45" font-size="9.6" text-anchor="end" textLength="16.6" lengthAdjust="spacingAndGlyphs">-1.2</text>
<text x="299.8" y="331.55" font-size="9.6" text-anchor="end" textLength="16.6" lengthAdjust="spacingAndGlyphs">-1.6</text>
<text x="299.8" y="343.75" font-size="9.6" text-anchor="end" textLength="16.6" lengthAdjust="spacingAndGlyphs">-2.0</text>
<g font-size="12.2" fill="#e3201b">
<text x="136.6" y="97.6">(B,+,2)</text>
<text x="190.3" y="239.6">(B,+,1)</text>
<text x="190.3" y="261.6">(B,&#8722;,1)</text>
<text x="136.8" y="380.8">(B,&#8722;,2)</text>
</g><g font-size="12.2" fill="#3dc52e">
<text x="181.6" y="129.4">(M,+)</text>
<text x="185.4" y="364">(M,-)</text>
</g>
<line x1="365.3" y1="425.97" x2="637.2" y2="425.97" stroke="#000" stroke-width="1.25"/>
<line x1="365.3" y1="402.27" x2="637.2" y2="402.27" stroke="#000" stroke-width="1.25"/>
<line x1="365.3" y1="378.57" x2="637.2" y2="378.57" stroke="#000" stroke-width="1.25"/>
<line x1="365.3" y1="354.87" x2="637.2" y2="354.87" stroke="#000" stroke-width="1.25"/>
<line x1="365.3" y1="331.17" x2="637.2" y2="331.17" stroke="#000" stroke-width="1.25"/>
<line x1="365.3" y1="307.47" x2="637.2" y2="307.47" stroke="#000" stroke-width="1.25"/>
<line x1="365.3" y1="283.77" x2="637.2" y2="283.77" stroke="#000" stroke-width="1.25"/>
<line x1="365.3" y1="260.07" x2="637.2" y2="260.07" stroke="#000" stroke-width="1.25"/>
<line x1="365.3" y1="236.37" x2="637.2" y2="236.37" stroke="#000" stroke-width="1.25"/>
<line x1="365.3" y1="212.67" x2="637.2" y2="212.67" stroke="#000" stroke-width="1.25"/>
<line x1="365.3" y1="188.97" x2="637.2" y2="188.97" stroke="#000" stroke-width="1.25"/>
<line x1="365.3" y1="165.27" x2="637.2" y2="165.27" stroke="#000" stroke-width="1.25"/>
<line x1="365.3" y1="141.57" x2="637.2" y2="141.57" stroke="#000" stroke-width="1.25"/>
<line x1="365.3" y1="117.87" x2="637.2" y2="117.87" stroke="#000" stroke-width="1.25"/>
<line x1="365.3" y1="94.17" x2="637.2" y2="94.17" stroke="#000" stroke-width="1.25"/>
<line x1="365.3" y1="70.47" x2="637.2" y2="70.47" stroke="#000" stroke-width="1.25"/>
<line x1="365.3" y1="46.77" x2="637.2" y2="46.77" stroke="#000" stroke-width="1.25"/>
<g clip-path="url(#cr)" fill="none" stroke="#000" stroke-width="1.4" stroke-linejoin="round">
<polyline points="365.3,-48.03 365.35,-48.03 365.39,-48.03 365.44,-48.03 365.48,-48.03 365.53,-48.03 365.57,-48.03 365.62,-48.03 365.66,-48.03 365.71,-48.03 365.75,-48.03 365.8,-48.03 365.84,-48.03 365.89,-48.03 365.93,-48.03 365.98,-48.03 366.02,-48.03 366.07,-48.03 366.12,-48.03 366.16,-48.03 366.21,-48.03 366.25,-48.03 366.3,-48.03 366.34,-48.03 366.39,-48.03 366.43,-48.03 366.48,-48.03 366.52,-48.03 366.57,-48.03 366.61,-48.03 366.66,-48.03 366.7,-48.03 366.75,-48.03 366.79,-48.03 366.84,-48.03 366.89,-48.03 366.93,-48.03 366.98,-48.03 367.02,-48.03 367.07,-48.03 367.11,-48.03 367.16,-48.03 367.2,-48.03 367.25,-48.03 367.29,-48.03 367.34,-48.03 367.38,-48.03 367.43,-48.03 367.47,-48.03 367.52,-48.03 367.56,-48.03 367.61,-48.03 367.66,-46.75 367.7,-29.69 367.75,-13.53 367.79,1.8 367.84,16.35 367.88,30.17 367.93,43.31 367.97,55.81 368.02,67.71 368.06,79.05 368.11,89.87 368.15,100.19 368.2,110.05 368.24,119.47 368.29,128.48 368.34,137.1 368.38,145.35 368.43,153.26 368.47,160.84 368.52,168.11 368.56,175.09 368.61,181.79 368.65,188.22 368.7,194.41 368.74,200.36 368.79,206.08 368.83,211.59 368.88,216.9 368.92,222.01 368.97,226.94 369.01,231.69 369.06,236.28 369.11,240.7 369.15,244.97 369.2,249.1 369.24,253.09 369.29,256.95 369.33,260.67 369.38,264.28 369.42,267.77 369.47,271.15 369.51,274.42 369.56,277.59 369.6,280.66 369.65,283.64 369.69,286.53 369.74,289.33 369.78,292.05 369.83,294.69 369.88,297.25 369.92,299.73 369.97,302.15 370.01,304.49 370.06,306.78 370.1,308.99 370.15,311.15 370.19,313.25 370.24,315.29 370.28,317.27 370.33,319.21 370.37,321.09 370.42,322.92 370.46,324.7 370.51,326.44 370.55,328.14 370.6,329.79 370.65,331.4 370.69,332.97 370.74,334.5 370.78,336 370.83,337.46 370.87,338.88 370.92,340.27 370.96,341.62 371.01,342.95 371.05,344.24 371.1,345.5 371.14,346.74 371.19,347.94 371.23,349.12 371.28,350.28 371.32,351.4 371.37,352.5 371.42,353.58 371.46,354.64 371.51,355.67 371.55,356.68 371.6,357.66 371.64,358.63 371.69,359.58 371.73,360.5 371.78,361.41 371.82,362.3 371.87,363.17 371.91,364.02 371.96,364.85 372,365.67 372.05,366.48 372.1,367.26 372.14,368.03 372.19,368.79 372.23,369.53 372.28,370.26 372.32,370.97 372.37,371.67 372.41,372.35 372.46,373.03 372.5,373.69 372.55,374.33 372.59,374.97 372.64,375.6 372.68,376.21 372.73,376.81 372.77,377.4 372.82,377.98 372.87,378.55 372.91,379.11 372.96,379.66 373,380.2 373.05,380.73 373.09,381.26 373.14,381.77 373.18,382.27 373.23,382.77 373.27,383.26 373.32,383.73 373.36,384.21 373.41,384.67 373.45,385.12 373.5,385.57 373.54,386.01 373.59,386.45 373.64,386.87 373.68,387.29 373.73,387.7 373.77,388.11 373.82,388.51 373.86,388.9 373.91,389.29 373.95,389.67 374,390.05 374.04,390.42 374.09,390.78 374.13,391.14 374.18,391.49 374.22,391.84 374.27,392.18 374.31,392.52 374.36,392.85 374.81,395.92 375.27,398.58 375.72,400.9 376.17,402.93 376.62,404.73 377.08,406.32 377.53,407.74 377.98,409.02 378.44,410.16 378.89,411.19 379.34,412.12 379.8,412.97 380.25,413.74 380.7,414.44 381.16,415.09 381.61,415.68 382.06,416.22 382.51,416.72 382.97,417.19 383.42,417.62 383.87,418.01 384.33,418.38 384.78,418.73 385.23,419.05 385.69,419.35 386.14,419.63 386.59,419.89 387.04,420.14 387.5,420.37 387.95,420.59 388.4,420.79 388.86,420.99 389.31,421.17 389.76,421.34 390.22,421.51 390.67,421.66 391.12,421.81 391.57,421.94 392.03,422.08 392.48,422.2 392.93,422.32 393.39,422.43 393.84,422.54 394.29,422.64 394.75,422.74 395.2,422.84 395.65,422.93 396.1,423.01 396.56,423.09 397.01,423.17 397.46,423.25 397.92,423.32 398.37,423.39 398.82,423.45 399.27,423.52 399.73,423.58 400.18,423.63 400.63,423.69 401.09,423.74 401.54,423.8 401.99,423.85 402.45,423.89 402.9,423.94 403.35,423.99 403.81,424.03 404.26,424.07 404.71,424.11 405.16,424.15 405.62,424.19 406.07,424.22 406.52,424.26 406.98,424.29 407.43,424.32 407.88,424.35 408.34,424.38 408.79,424.41 409.24,424.44 409.69,424.47 410.15,424.5 410.6,424.52 411.05,424.55 411.51,424.57 411.96,424.59 412.41,424.62 412.87,424.64 413.32,424.66 413.77,424.68 414.22,424.7 414.68,424.72 415.13,424.74 415.58,424.76 416.04,424.77 416.49,424.79 416.94,424.81 417.4,424.82 417.85,424.84 418.3,424.85 418.75,424.87 419.21,424.88 419.66,424.9 420.11,424.91 420.57,424.92 421.02,424.94 421.47,424.95 421.93,424.96 422.38,424.97 422.83,424.98 423.28,424.99 423.74,425 424.19,425.01 424.64,425.02 425.1,425.03 425.55,425.04 426,425.05 426.46,425.06 426.91,425.07 427.36,425.08 427.81,425.08 428.27,425.09 428.72,425.1 429.17,425.1 429.63,425.11 430.08,425.12 430.53,425.12 430.99,425.13 431.44,425.13 431.89,425.14 432.34,425.14 432.8,425.15 433.25,425.15 433.7,425.16 434.16,425.16 434.61,425.17 435.06,425.17 435.51,425.17 435.97,425.17 436.42,425.18 436.87,425.18 437.33,425.18 437.78,425.18 438.23,425.18 438.69,425.19 439.14,425.19 439.59,425.19 440.05,425.19 440.5,425.19 440.95,425.19 441.4,425.19 441.86,425.19 442.31,425.19 442.76,425.18 443.22,425.18 443.67,425.18 444.12,425.18 444.57,425.18 445.03,425.17 445.48,425.17 445.93,425.16 446.39,425.16 446.84,425.15 447.29,425.15 447.75,425.14 448.2,425.14 448.65,425.13 449.11,425.12 449.56,425.11 450.01,425.11 450.46,425.1 450.92,425.09 451.37,425.07 451.82,425.06 452.28,425.05 452.73,425.04 453.18,425.02 453.63,425.01 454.09,424.99 454.54,424.97 454.99,424.95 455.45,424.93 455.9,424.91 456.35,424.89 456.81,424.86 457.26,424.83 457.71,424.8 458.17,424.77 458.62,424.74 459.07,424.7 459.52,424.66 459.98,424.62 460.43,424.57 460.88,424.52 461.34,424.46 461.79,424.4 462.24,424.33 462.69,424.25 463.15,424.17 463.6,424.08 464.05,423.98 464.51,423.87 464.96,423.74 465.41,423.59 465.87,423.43 466.32,423.24 466.77,423.03 467.23,422.78 467.68,422.49 468.13,422.15 468.58,421.73 469.04,421.24 469.49,420.62 469.94,419.86 470.4,418.9 470.85,417.69 471.3,416.18 471.75,414.4 472.21,412.4 472.66,410.29 473.11,408.15 473.57,405.95 474.02,403.67 474.47,401.26 474.93,398.7 475.38,395.9 475.83,392.72 476.29,388.99 476.74,384.94 477.19,381.44 477.64,379.78 478.1,380.86 478.55,384.38 479,388.9 479.46,393.08 479.91,396.37 480.36,398.78 480.81,400.52 481.27,401.77 481.72,402.68 482.17,403.36 482.63,403.88 483.08,404.28 483.53,404.6 483.99,404.87 484.44,405.09 484.89,405.28 485.35,405.46 485.8,405.62 486.25,405.78 486.7,405.94 487.16,406.1 487.61,406.27 488.06,406.45 488.52,406.64 488.97,406.84 489.42,407.07 489.88,407.32 490.33,407.6 490.78,407.91 491.23,408.28 491.69,408.7 492.14,409.21 492.59,409.81 493.05,410.52 493.5,411.33 493.95,412.16 494.4,412.93 494.86,413.6 495.31,414.15 495.76,414.6 496.22,414.97 496.67,415.27 497.12,415.54 497.58,415.77 498.03,415.98 498.48,416.17 498.94,416.35 499.39,416.52 499.84,416.67 500.29,416.82 500.75,416.96 501.2,417.09 501.65,417.23 502.11,417.35 502.56,417.48 503.01,417.6 503.47,417.72 503.92,417.84 504.37,417.96 504.82,418.08 505.28,418.2 505.73,418.32 506.18,418.44 506.64,418.56 507.09,418.68 507.54,418.8 508,418.94 508.45,419.07 508.9,419.22 509.35,419.38 509.81,419.56 510.26,419.77 510.71,420 511.17,420.25 511.62,420.51 512.07,420.75 512.53,420.96 512.98,421.14 513.43,421.29 513.88,421.41 514.34,421.52 514.79,421.62 515.24,421.71 515.7,421.79 516.15,421.87 516.6,421.94 517.06,422.02 517.51,422.1 517.96,422.18 518.41,422.27 518.87,422.36 519.32,422.45 519.77,422.55 520.23,422.63 520.68,422.7 521.13,422.76 521.59,422.81 522.04,422.86 522.49,422.9 522.94,422.93 523.4,422.97 523.85,423 524.3,423.02 524.76,423.05 525.21,423.08 525.66,423.1 526.12,423.12 526.57,423.14 527.02,423.16 527.47,423.18 527.93,423.2 528.38,423.22 528.83,423.24 529.29,423.26 529.74,423.27 530.19,423.29 530.64,423.3 531.1,423.32 531.55,423.33 532,423.35 532.46,423.36 532.91,423.37 533.36,423.39 533.82,423.4 534.27,423.41 534.72,423.42 535.17,423.44 535.63,423.45 536.08,423.46 536.53,423.47 536.99,423.48 537.44,423.49 537.89,423.5 538.35,423.51 538.8,423.52 539.25,423.53 539.71,423.54 540.16,423.54 540.61,423.55 541.06,423.56 541.52,423.56 541.97,423.57 542.42,423.58 542.88,423.58 543.33,423.59 543.78,423.59 544.24,423.6 544.69,423.6 545.14,423.61 545.59,423.61 546.05,423.61 546.5,423.62 546.95,423.62 547.41,423.62 547.86,423.62 548.31,423.62 548.76,423.62 549.22,423.62 549.67,423.61 550.12,423.61 550.58,423.61 551.03,423.6 551.48,423.59 551.94,423.58 552.39,423.58 552.84,423.56 553.3,423.55 553.75,423.54 554.2,423.52 554.65,423.5 555.11,423.47 555.56,423.45 556.01,423.42 556.47,423.38 556.92,423.34 557.37,423.29 557.83,423.24 558.28,423.17 558.73,423.1 559.18,423 559.64,422.89 560.09,422.75 560.54,422.58 561,422.36 561.45,422.08 561.9,421.73 562.36,421.3 562.81,420.8 563.26,420.27 563.71,419.73 564.17,419.22 564.62,418.75 565.07,418.29 565.53,417.86 565.98,417.42 566.43,417 566.88,416.57 567.34,416.15 567.79,415.74 568.24,415.38 568.7,415.06 569.15,414.81 569.6,414.6 570.06,414.44 570.51,414.31 570.96,414.2 571.41,414.11 571.87,414.04 572.32,413.98 572.77,413.93 573.23,413.89 573.68,413.85 574.13,413.82 574.59,413.78 575.04,413.76 575.49,413.73 575.95,413.71 576.4,413.7 576.85,413.68 577.3,413.67 577.76,413.65 578.21,413.64 578.66,413.63 579.12,413.63 579.57,413.62 580.02,413.62 580.48,413.61 580.93,413.61 581.38,413.6 581.83,413.6 582.29,413.6 582.74,413.6 583.19,413.59 583.65,413.59 584.1,413.59 584.55,413.59 585,413.59 585.46,413.59 585.91,413.59 586.36,413.59 586.82,413.59 587.27,413.59 587.72,413.59 588.18,413.59 588.63,413.59 589.08,413.6 589.53,413.6 589.99,413.6 590.44,413.6 590.89,413.6 591.35,413.61 591.8,413.61 592.25,413.62 592.71,413.62 593.16,413.62 593.61,413.62 594.07,413.63 594.52,413.63 594.97,413.63 595.42,413.64 595.88,413.64 596.33,413.64 596.78,413.65 597.24,413.65 597.69,413.65 598.14,413.66 598.6,413.66 599.05,413.67 599.5,413.67 599.95,413.67 600.41,413.67 600.86,413.68 601.31,413.68 601.77,413.69 602.22,413.69 602.67,413.69 603.12,413.7 603.58,413.7 604.03,413.7 604.48,413.71 604.94,413.71 605.39,413.72 605.84,413.72 606.3,413.73 606.75,413.73 607.2,413.73 607.65,413.73 608.11,413.74 608.56,413.75 609.01,413.75 609.47,413.75 609.92,413.76 610.37,413.76 610.83,413.76 611.28,413.77 611.73,413.77 612.18,413.78 612.64,413.78 613.09,413.79 613.54,413.8 614,413.8 614.45,413.8 614.9,413.8 615.36,413.8 615.81,413.8 616.26,413.8 616.72,413.81 617.17,413.81 617.62,413.81 618.07,413.81 618.53,413.81 618.98,413.81 619.43,413.81 619.89,413.81 620.34,413.81 620.79,413.82 621.25,413.82 621.7,413.81 622.15,413.81 622.6,413.8 623.06,413.8 623.51,413.79 623.96,413.78 624.42,413.77 624.87,413.76 625.32,413.75 625.77,413.75 626.23,413.74 626.68,413.74 627.13,413.73 627.59,413.72 628.04,413.7 628.49,413.69 628.95,413.68 629.4,413.67 629.85,413.66 630.31,413.65 630.76,413.64 631.21,413.64 631.66,413.63 632.12,413.62 632.57,413.61 633.02,413.6 633.48,413.59 633.93,413.58 634.38,413.57 634.84,413.56 635.29,413.56 635.74,413.55 636.19,413.54 636.65,413.53 637.1,413.52"/>
<polyline points="365.3,-48.03 365.35,-48.03 365.39,-48.03 365.44,-48.03 365.48,-48.03 365.53,-48.03 365.57,-48.03 365.62,-48.03 365.66,-48.03 365.71,-48.03 365.75,-48.03 365.8,-48.03 365.84,-48.03 365.89,-48.03 365.93,-48.03 365.98,-48.03 366.02,-48.03 366.07,-48.03 366.12,-48.03 366.16,-48.03 366.21,-48.03 366.25,-48.03 366.3,-48.03 366.34,-48.03 366.39,-48.03 366.43,-48.03 366.48,-48.03 366.52,-48.03 366.57,-48.03 366.61,-48.03 366.66,-48.03 366.7,-48.03 366.75,-48.03 366.79,-48.03 366.84,-48.03 366.89,-48.03 366.93,-48.03 366.98,-48.03 367.02,-48.03 367.07,-48.03 367.11,-48.03 367.16,-48.03 367.2,-48.03 367.25,-48.03 367.29,-48.03 367.34,-48.03 367.38,-48.03 367.43,-48.03 367.47,-48.03 367.52,-45.5 367.56,-28.45 367.61,-12.35 367.66,2.88 367.7,17.29 367.75,30.95 367.79,43.9 367.84,56.19 367.88,67.86 367.93,78.96 367.97,89.52 368.02,99.58 368.06,109.16 368.11,118.3 368.15,127.02 368.2,135.35 368.24,143.31 368.29,150.92 368.34,158.2 368.38,165.18 368.43,171.86 368.47,178.26 368.52,184.4 368.56,190.3 368.61,195.96 368.65,201.39 368.7,206.62 368.74,211.65 368.79,216.48 368.83,221.14 368.88,225.62 368.92,229.94 368.97,234.1 369.01,238.12 369.06,241.99 369.11,245.73 369.15,249.34 369.2,252.83 369.24,256.2 369.29,259.46 369.33,262.61 369.38,265.65 369.42,268.6 369.47,271.46 369.51,274.22 369.56,276.9 369.6,279.5 369.65,282.01 369.69,284.45 369.74,286.82 369.78,289.11 369.83,291.34 369.88,293.5 369.92,295.6 369.97,297.65 370.01,299.63 370.06,301.55 370.1,303.43 370.15,305.25 370.19,307.02 370.24,308.75 370.28,310.42 370.33,312.06 370.37,313.65 370.42,315.19 370.46,316.7 370.51,318.17 370.55,319.6 370.6,321 370.65,322.36 370.69,323.69 370.74,324.98 370.78,326.24 370.83,327.48 370.87,328.68 370.92,329.85 370.96,331 371.01,332.12 371.05,333.21 371.1,334.28 371.14,335.32 371.19,336.34 371.23,337.33 371.28,338.31 371.32,339.26 371.37,340.19 371.42,341.1 371.46,341.99 371.51,342.86 371.55,343.71 371.6,344.55 371.64,345.36 371.69,346.16 371.73,346.95 371.78,347.71 371.82,348.46 371.87,349.2 371.91,349.92 371.96,350.62 372,351.31 372.05,351.99 372.1,352.66 372.14,353.31 372.19,353.95 372.23,354.57 372.28,355.19 372.32,355.79 372.37,356.38 372.41,356.96 372.46,357.53 372.5,358.09 372.55,358.63 372.59,359.17 372.64,359.7 372.68,360.22 372.73,360.72 372.77,361.22 372.82,361.71 372.87,362.2 372.91,362.67 372.96,363.13 373,363.59 373.05,364.04 373.09,364.48 373.14,364.91 373.18,365.34 373.23,365.76 373.27,366.17 373.32,366.57 373.36,366.97 373.41,367.36 373.45,367.75 373.5,368.13 373.54,368.5 373.59,368.86 373.64,369.22 373.68,369.58 373.73,369.93 373.77,370.27 373.82,370.61 373.86,370.94 373.91,371.27 373.95,371.59 374,371.91 374.04,372.22 374.09,372.53 374.13,372.83 374.18,373.13 374.22,373.42 374.27,373.71 374.31,374 374.36,374.28 374.81,376.87 375.27,379.11 375.72,381.07 376.17,382.79 376.62,384.31 377.08,385.66 377.53,386.86 377.98,387.93 378.44,388.9 378.89,389.77 379.34,390.56 379.8,391.27 380.25,391.92 380.7,392.52 381.16,393.06 381.61,393.56 382.06,394.02 382.51,394.44 382.97,394.83 383.42,395.2 383.87,395.53 384.33,395.85 384.78,396.14 385.23,396.41 385.69,396.66 386.14,396.9 386.59,397.12 387.04,397.33 387.5,397.52 387.95,397.71 388.4,397.88 388.86,398.04 389.31,398.2 389.76,398.34 390.22,398.48 390.67,398.61 391.12,398.74 391.57,398.85 392.03,398.96 392.48,399.07 392.93,399.17 393.39,399.27 393.84,399.36 394.29,399.44 394.75,399.53 395.2,399.61 395.65,399.68 396.1,399.75 396.56,399.82 397.01,399.89 397.46,399.95 397.92,400.01 398.37,400.07 398.82,400.12 399.27,400.18 399.73,400.23 400.18,400.28 400.63,400.33 401.09,400.37 401.54,400.42 401.99,400.46 402.45,400.5 402.9,400.54 403.35,400.57 403.81,400.61 404.26,400.65 404.71,400.68 405.16,400.71 405.62,400.74 406.07,400.77 406.52,400.8 406.98,400.83 407.43,400.86 407.88,400.88 408.34,400.91 408.79,400.93 409.24,400.96 409.69,400.98 410.15,401 410.6,401.02 411.05,401.05 411.51,401.07 411.96,401.09 412.41,401.1 412.87,401.12 413.32,401.14 413.77,401.16 414.22,401.17 414.68,401.19 415.13,401.21 415.58,401.22 416.04,401.24 416.49,401.25 416.94,401.26 417.4,401.28 417.85,401.29 418.3,401.3 418.75,401.32 419.21,401.33 419.66,401.34 420.11,401.35 420.57,401.36 421.02,401.37 421.47,401.38 421.93,401.39 422.38,401.4 422.83,401.41 423.28,401.42 423.74,401.43 424.19,401.43 424.64,401.44 425.1,401.45 425.55,401.46 426,401.46 426.46,401.47 426.91,401.48 427.36,401.48 427.81,401.49 428.27,401.5 428.72,401.5 429.17,401.51 429.63,401.51 430.08,401.52 430.53,401.52 430.99,401.53 431.44,401.53 431.89,401.54 432.34,401.54 432.8,401.54 433.25,401.55 433.7,401.55 434.16,401.55 434.61,401.56 435.06,401.56 435.51,401.56 435.97,401.56 436.42,401.56 436.87,401.57 437.33,401.57 437.78,401.57 438.23,401.57 438.69,401.57 439.14,401.57 439.59,401.57 440.05,401.57 440.5,401.57 440.95,401.57 441.4,401.57 441.86,401.57 442.31,401.56 442.76,401.56 443.22,401.56 443.67,401.56 444.12,401.56 444.57,401.55 445.03,401.55 445.48,401.55 445.93,401.54 446.39,401.54 446.84,401.53 447.29,401.53 447.75,401.52 448.2,401.51 448.65,401.51 449.11,401.5 449.56,401.49 450.01,401.48 450.46,401.47 450.92,401.46 451.37,401.45 451.82,401.44 452.28,401.43 452.73,401.42 453.18,401.41 453.63,401.39 454.09,401.38 454.54,401.36 454.99,401.34 455.45,401.32 455.9,401.3 456.35,401.28 456.81,401.26 457.26,401.23 457.71,401.21 458.17,401.18 458.62,401.15 459.07,401.11 459.52,401.08 459.98,401.04 460.43,400.99 460.88,400.95 461.34,400.9 461.79,400.84 462.24,400.78 462.69,400.72 463.15,400.65 463.6,400.57 464.05,400.48 464.51,400.38 464.96,400.27 465.41,400.15 465.87,400.01 466.32,399.86 466.77,399.68 467.23,399.47 467.68,399.24 468.13,398.96 468.58,398.64 469.04,398.25 469.49,397.78 469.94,397.21 470.4,396.51 470.85,395.62 471.3,394.5 471.75,393.08 472.21,391.31 472.66,389.21 473.11,386.87 473.57,384.41 474.02,381.9 474.47,379.37 474.93,376.78 475.38,374.09 475.83,371.13 476.29,367.76 476.74,364.2 477.19,361.27 477.64,360.05 478.1,361.21 478.55,364.38 479,368.3 479.46,371.87 479.91,374.64 480.36,376.65 480.81,378.08 481.27,379.11 481.72,379.85 482.17,380.41 482.63,380.83 483.08,381.15 483.53,381.41 483.99,381.63 484.44,381.82 484.89,381.98 485.35,382.14 485.8,382.3 486.25,382.45 486.7,382.62 487.16,382.79 487.61,382.97 488.06,383.18 488.52,383.42 488.97,383.68 489.42,383.99 489.88,384.35 490.33,384.78 490.78,385.3 491.23,385.94 491.69,386.69 492.14,387.52 492.59,388.36 493.05,389.13 493.5,389.78 493.95,390.31 494.4,390.74 494.86,391.1 495.31,391.4 495.76,391.65 496.22,391.88 496.67,392.08 497.12,392.26 497.58,392.43 498.03,392.59 498.48,392.74 498.94,392.89 499.39,393.03 499.84,393.16 500.29,393.29 500.75,393.42 501.2,393.54 501.65,393.67 502.11,393.79 502.56,393.92 503.01,394.04 503.47,394.16 503.92,394.29 504.37,394.42 504.82,394.56 505.28,394.7 505.73,394.85 506.18,395.01 506.64,395.19 507.09,395.39 507.54,395.62 508,395.88 508.45,396.16 508.9,396.44 509.35,396.7 509.81,396.92 510.26,397.11 510.71,397.26 511.17,397.4 511.62,397.51 512.07,397.61 512.53,397.71 512.98,397.8 513.43,397.88 513.88,397.97 514.34,398.05 514.79,398.15 515.24,398.25 515.7,398.35 516.15,398.46 516.6,398.55 517.06,398.64 517.51,398.71 517.96,398.77 518.41,398.82 518.87,398.86 519.32,398.9 519.77,398.93 520.23,398.96 520.68,398.99 521.13,399.01 521.59,399.03 522.04,399.05 522.49,399.07 522.94,399.08 523.4,399.09 523.85,399.1 524.3,399.11 524.76,399.12 525.21,399.13 525.66,399.13 526.12,399.13 526.57,399.13 527.02,399.13 527.47,399.13 527.93,399.12 528.38,399.11 528.83,399.1 529.29,399.09 529.74,399.07 530.19,399.04 530.64,399.02 531.1,398.98 531.55,398.94 532,398.89 532.46,398.83 532.91,398.76 533.36,398.68 533.82,398.58 534.27,398.45 534.72,398.29 535.17,398.09 535.63,397.83 536.08,397.51 536.53,397.09 536.99,396.59 537.44,396 537.89,395.38 538.35,394.77 538.8,394.19 539.25,393.65 539.71,393.14 540.16,392.65 540.61,392.18 541.06,391.73 541.52,391.32 541.97,390.96 542.42,390.66 542.88,390.43 543.33,390.24 543.78,390.09 544.24,389.97 544.69,389.87 545.14,389.79 545.59,389.73 546.05,389.67 546.5,389.62 546.95,389.58 547.41,389.55 547.86,389.52 548.31,389.5 548.76,389.48 549.22,389.46 549.67,389.44 550.12,389.43 550.58,389.42 551.03,389.41 551.48,389.4 551.94,389.39 552.39,389.39 552.84,389.38 553.3,389.38 553.75,389.37 554.2,389.37 554.65,389.37 555.11,389.37 555.56,389.37 556.01,389.37 556.47,389.37 556.92,389.37 557.37,389.37 557.83,389.37 558.28,389.38 558.73,389.38 559.18,389.39 559.64,389.39 560.09,389.39 560.54,389.4 561,389.4 561.45,389.4 561.9,389.41 562.36,389.41 562.81,389.42 563.26,389.42 563.71,389.43 564.17,389.43 564.62,389.44 565.07,389.44 565.53,389.45 565.98,389.45 566.43,389.46 566.88,389.46 567.34,389.47 567.79,389.48 568.24,389.48 568.7,389.49 569.15,389.5 569.6,389.5 570.06,389.51 570.51,389.51 570.96,389.52 571.41,389.52 571.87,389.53 572.32,389.54 572.77,389.55 573.23,389.56 573.68,389.56 574.13,389.57 574.59,389.57 575.04,389.58 575.49,389.58 575.95,389.59 576.4,389.59 576.85,389.6 577.3,389.6 577.76,389.61 578.21,389.61 578.66,389.62 579.12,389.63 579.57,389.64 580.02,389.64 580.48,389.65 580.93,389.66 581.38,389.66 581.83,389.67 582.29,389.68 582.74,389.68 583.19,389.69 583.65,389.69 584.1,389.7 584.55,389.7 585,389.71 585.46,389.72 585.91,389.72 586.36,389.73 586.82,389.74 587.27,389.74 587.72,389.74 588.18,389.75 588.63,389.75 589.08,389.76 589.53,389.77 589.99,389.77 590.44,389.78 590.89,389.78 591.35,389.79 591.8,389.8 592.25,389.8 592.71,389.81 593.16,389.82 593.61,389.82 594.07,389.83 594.52,389.83 594.97,389.84 595.42,389.85 595.88,389.85 596.33,389.86 596.78,389.86 597.24,389.87 597.69,389.87 598.14,389.88 598.6,389.89 599.05,389.89 599.5,389.9 599.95,389.9 600.41,389.9 600.86,389.91 601.31,389.91 601.77,389.92 602.22,389.92 602.67,389.93 603.12,389.93 603.58,389.94 604.03,389.94 604.48,389.95 604.94,389.95 605.39,389.96 605.84,389.97 606.3,389.97 606.75,389.97 607.2,389.98 607.65,389.98 608.11,389.99 608.56,389.99 609.01,390 609.47,390.01 609.92,390.01 610.37,390.01 610.83,390.02 611.28,390.02 611.73,390.03 612.18,390.03 612.64,390.04 613.09,390.05 613.54,390.05 614,390.06 614.45,390.06 614.9,390.06 615.36,390.06 615.81,390.06 616.26,390.06 616.72,390.07 617.17,390.07 617.62,390.08 618.07,390.08 618.53,390.08 618.98,390.08 619.43,390.08 619.89,390.08 620.34,390.08 620.79,390.08 621.25,390.08 621.7,390.08 622.15,390.08 622.6,390.07 623.06,390.06 623.51,390.05 623.96,390.05 624.42,390.04 624.87,390.03 625.32,390.02 625.77,390.02 626.23,390.01 626.68,390.01 627.13,390 627.59,389.99 628.04,389.97 628.49,389.96 628.95,389.95 629.4,389.94 629.85,389.93 630.31,389.92 630.76,389.92 631.21,389.91 631.66,389.9 632.12,389.89 632.57,389.88 633.02,389.87 633.48,389.87 633.93,389.86 634.38,389.85 634.84,389.84 635.29,389.83 635.74,389.82 636.19,389.81 636.65,389.8 637.1,389.79"/>
<polyline points="365.3,-48.03 365.35,-48.03 365.39,-48.03 365.44,-48.03 365.48,-48.03 365.53,-48.03 365.57,-48.03 365.62,-48.03 365.66,-48.03 365.71,-48.03 365.75,-48.03 365.8,-48.03 365.84,-48.03 365.89,-48.03 365.93,-48.03 365.98,-48.03 366.02,-48.03 366.07,-48.03 366.12,-48.03 366.16,-48.03 366.21,-48.03 366.25,-48.03 366.3,-48.03 366.34,-48.03 366.39,-48.03 366.43,-48.03 366.48,-48.03 366.52,-48.03 366.57,-48.03 366.61,-48.03 366.66,-48.03 366.7,-48.03 366.75,-48.03 366.79,-48.03 366.84,-48.03 366.89,-48.03 366.93,-48.03 366.98,-48.03 367.02,-48.03 367.07,-48.03 367.11,-48.03 367.16,-48.03 367.2,-48.03 367.25,-48.03 367.29,-48.03 367.34,-48.03 367.38,-48.03 367.43,-44.08 367.47,-27.38 367.52,-11.64 367.56,3.21 367.61,17.25 367.66,30.52 367.7,43.08 367.75,54.98 367.79,66.26 367.84,76.97 367.88,87.15 367.93,96.82 367.97,106.02 368.02,114.79 368.06,123.14 368.11,131.1 368.15,138.7 368.2,145.96 368.24,152.89 368.29,159.53 368.34,165.87 368.38,171.95 368.43,177.77 368.47,183.35 368.52,188.7 368.56,193.84 368.61,198.77 368.65,203.51 368.7,208.06 368.74,212.44 368.79,216.66 368.83,220.71 368.88,224.62 368.92,228.38 368.97,232.01 369.01,235.51 369.06,238.89 369.11,242.15 369.15,245.29 369.2,248.33 369.24,251.27 369.29,254.11 369.33,256.85 369.38,259.51 369.42,262.08 369.47,264.56 369.51,266.97 369.56,269.31 369.6,271.57 369.65,273.76 369.69,275.89 369.74,277.95 369.78,279.95 369.83,281.89 369.88,283.78 369.92,285.61 369.97,287.38 370.01,289.11 370.06,290.79 370.1,292.42 370.15,294.01 370.19,295.55 370.24,297.06 370.28,298.52 370.33,299.94 370.37,301.33 370.42,302.68 370.46,303.99 370.51,305.27 370.55,306.52 370.6,307.74 370.65,308.92 370.69,310.08 370.74,311.2 370.78,312.3 370.83,313.38 370.87,314.43 370.92,315.45 370.96,316.45 371.01,317.42 371.05,318.37 371.1,319.3 371.14,320.21 371.19,321.1 371.23,321.97 371.28,322.82 371.32,323.65 371.37,324.46 371.42,325.25 371.46,326.03 371.51,326.79 371.55,327.53 371.6,328.26 371.64,328.97 371.69,329.66 371.73,330.34 371.78,331.01 371.82,331.67 371.87,332.31 371.91,332.93 371.96,333.55 372,334.15 372.05,334.74 372.1,335.32 372.14,335.89 372.19,336.45 372.23,336.99 372.28,337.53 372.32,338.05 372.37,338.57 372.41,339.07 372.46,339.57 372.5,340.05 372.55,340.53 372.59,341 372.64,341.46 372.68,341.91 372.73,342.35 372.77,342.79 372.82,343.21 372.87,343.63 372.91,344.05 372.96,344.45 373,344.85 373.05,345.24 373.09,345.62 373.14,346 373.18,346.37 373.23,346.74 373.27,347.1 373.32,347.45 373.36,347.8 373.41,348.14 373.45,348.47 373.5,348.8 373.54,349.13 373.59,349.45 373.64,349.76 373.68,350.07 373.73,350.37 373.77,350.67 373.82,350.97 373.86,351.26 373.91,351.54 373.95,351.82 374,352.1 374.04,352.37 374.09,352.64 374.13,352.9 374.18,353.16 374.22,353.42 374.27,353.67 374.31,353.92 374.36,354.16 374.81,356.42 375.27,358.37 375.72,360.08 376.17,361.58 376.62,362.9 377.08,364.08 377.53,365.12 377.98,366.06 378.44,366.9 378.89,367.66 379.34,368.35 379.8,368.97 380.25,369.54 380.7,370.05 381.16,370.53 381.61,370.96 382.06,371.36 382.51,371.73 382.97,372.07 383.42,372.39 383.87,372.68 384.33,372.96 384.78,373.21 385.23,373.44 385.69,373.67 386.14,373.87 386.59,374.07 387.04,374.25 387.5,374.42 387.95,374.58 388.4,374.73 388.86,374.87 389.31,375 389.76,375.13 390.22,375.25 390.67,375.36 391.12,375.47 391.57,375.57 392.03,375.67 392.48,375.76 392.93,375.85 393.39,375.93 393.84,376.01 394.29,376.09 394.75,376.16 395.2,376.23 395.65,376.29 396.1,376.36 396.56,376.42 397.01,376.47 397.46,376.53 397.92,376.58 398.37,376.63 398.82,376.68 399.27,376.73 399.73,376.77 400.18,376.81 400.63,376.86 401.09,376.89 401.54,376.93 401.99,376.97 402.45,377 402.9,377.04 403.35,377.07 403.81,377.1 404.26,377.13 404.71,377.16 405.16,377.19 405.62,377.22 406.07,377.24 406.52,377.27 406.98,377.29 407.43,377.32 407.88,377.34 408.34,377.36 408.79,377.38 409.24,377.4 409.69,377.42 410.15,377.44 410.6,377.46 411.05,377.48 411.51,377.5 411.96,377.51 412.41,377.53 412.87,377.55 413.32,377.56 413.77,377.58 414.22,377.59 414.68,377.6 415.13,377.62 415.58,377.63 416.04,377.64 416.49,377.65 416.94,377.67 417.4,377.68 417.85,377.69 418.3,377.7 418.75,377.71 419.21,377.72 419.66,377.73 420.11,377.74 420.57,377.75 421.02,377.76 421.47,377.77 421.93,377.77 422.38,377.78 422.83,377.79 423.28,377.8 423.74,377.8 424.19,377.81 424.64,377.82 425.1,377.82 425.55,377.83 426,377.84 426.46,377.84 426.91,377.85 427.36,377.85 427.81,377.86 428.27,377.86 428.72,377.87 429.17,377.87 429.63,377.88 430.08,377.88 430.53,377.88 430.99,377.89 431.44,377.89 431.89,377.89 432.34,377.9 432.8,377.9 433.25,377.9 433.7,377.9 434.16,377.91 434.61,377.91 435.06,377.91 435.51,377.91 435.97,377.91 436.42,377.91 436.87,377.92 437.33,377.92 437.78,377.92 438.23,377.92 438.69,377.92 439.14,377.92 439.59,377.92 440.05,377.92 440.5,377.92 440.95,377.91 441.4,377.91 441.86,377.91 442.31,377.91 442.76,377.91 443.22,377.91 443.67,377.9 444.12,377.9 444.57,377.9 445.03,377.89 445.48,377.89 445.93,377.89 446.39,377.88 446.84,377.88 447.29,377.87 447.75,377.86 448.2,377.86 448.65,377.85 449.11,377.85 449.56,377.84 450.01,377.83 450.46,377.82 450.92,377.81 451.37,377.8 451.82,377.79 452.28,377.78 452.73,377.77 453.18,377.76 453.63,377.74 454.09,377.73 454.54,377.71 454.99,377.7 455.45,377.68 455.9,377.66 456.35,377.64 456.81,377.62 457.26,377.6 457.71,377.58 458.17,377.55 458.62,377.52 459.07,377.49 459.52,377.46 459.98,377.43 460.43,377.39 460.88,377.35 461.34,377.3 461.79,377.26 462.24,377.2 462.69,377.15 463.15,377.08 463.6,377.02 464.05,376.94 464.51,376.86 464.96,376.77 465.41,376.66 465.87,376.55 466.32,376.42 466.77,376.27 467.23,376.1 467.68,375.91 468.13,375.69 468.58,375.43 469.04,375.13 469.49,374.77 469.94,374.33 470.4,373.81 470.85,373.16 471.3,372.34 471.75,371.31 472.21,369.99 472.66,368.32 473.11,366.23 473.57,363.77 474.02,361.07 474.47,358.3 474.93,355.56 475.38,352.85 475.83,350.05 476.29,347.03 476.74,343.99 477.19,341.69 477.64,341.01 478.1,342.33 478.55,345.14 479,348.37 479.46,351.19 479.91,353.32 480.36,354.83 480.81,355.88 481.27,356.63 481.72,357.17 482.17,357.56 482.63,357.86 483.08,358.1 483.53,358.29 483.99,358.45 484.44,358.6 484.89,358.75 485.35,358.9 485.8,359.06 486.25,359.23 486.7,359.43 487.16,359.66 487.61,359.92 488.06,360.25 488.52,360.64 488.97,361.13 489.42,361.74 489.88,362.47 490.33,363.29 490.78,364.14 491.23,364.92 491.69,365.58 492.14,366.13 492.59,366.56 493.05,366.92 493.5,367.21 493.95,367.46 494.4,367.68 494.86,367.87 495.31,368.04 495.76,368.19 496.22,368.33 496.67,368.47 497.12,368.59 497.58,368.71 498.03,368.83 498.48,368.94 498.94,369.05 499.39,369.16 499.84,369.26 500.29,369.36 500.75,369.46 501.2,369.57 501.65,369.67 502.11,369.77 502.56,369.89 503.01,370.01 503.47,370.14 503.92,370.29 504.37,370.47 504.82,370.66 505.28,370.84 505.73,370.98 506.18,371.05 506.64,371.03 507.09,370.9 507.54,370.67 508,370.32 508.45,369.88 508.9,369.35 509.35,368.75 509.81,368.14 510.26,367.55 510.71,367.02 511.17,366.54 511.62,366.13 512.07,365.8 512.53,365.54 512.98,365.33 513.43,365.18 513.88,365.06 514.34,364.97 514.79,364.9 515.24,364.84 515.7,364.79 516.15,364.76 516.6,364.73 517.06,364.7 517.51,364.69 517.96,364.67 518.41,364.66 518.87,364.66 519.32,364.65 519.77,364.65 520.23,364.64 520.68,364.64 521.13,364.64 521.59,364.65 522.04,364.65 522.49,364.66 522.94,364.67 523.4,364.67 523.85,364.68 524.3,364.69 524.76,364.7 525.21,364.7 525.66,364.71 526.12,364.72 526.57,364.73 527.02,364.74 527.47,364.75 527.93,364.76 528.38,364.77 528.83,364.78 529.29,364.79 529.74,364.8 530.19,364.82 530.64,364.83 531.1,364.84 531.55,364.85 532,364.86 532.46,364.87 532.91,364.89 533.36,364.9 533.82,364.91 534.27,364.92 534.72,364.93 535.17,364.94 535.63,364.95 536.08,364.97 536.53,364.98 536.99,364.99 537.44,365 537.89,365.01 538.35,365.02 538.8,365.03 539.25,365.05 539.71,365.06 540.16,365.07 540.61,365.08 541.06,365.09 541.52,365.1 541.97,365.11 542.42,365.12 542.88,365.13 543.33,365.14 543.78,365.15 544.24,365.16 544.69,365.17 545.14,365.19 545.59,365.2 546.05,365.21 546.5,365.22 546.95,365.23 547.41,365.24 547.86,365.25 548.31,365.27 548.76,365.28 549.22,365.29 549.67,365.3 550.12,365.31 550.58,365.32 551.03,365.33 551.48,365.34 551.94,365.35 552.39,365.36 552.84,365.37 553.3,365.38 553.75,365.39 554.2,365.4 554.65,365.41 555.11,365.42 555.56,365.43 556.01,365.44 556.47,365.45 556.92,365.45 557.37,365.46 557.83,365.47 558.28,365.48 558.73,365.49 559.18,365.5 559.64,365.51 560.09,365.52 560.54,365.53 561,365.54 561.45,365.55 561.9,365.56 562.36,365.57 562.81,365.58 563.26,365.58 563.71,365.59 564.17,365.6 564.62,365.61 565.07,365.62 565.53,365.63 565.98,365.63 566.43,365.64 566.88,365.65 567.34,365.66 567.79,365.67 568.24,365.68 568.7,365.69 569.15,365.7 569.6,365.71 570.06,365.72 570.51,365.72 570.96,365.73 571.41,365.74 571.87,365.75 572.32,365.75 572.77,365.76 573.23,365.77 573.68,365.78 574.13,365.79 574.59,365.8 575.04,365.8 575.49,365.81 575.95,365.81 576.4,365.82 576.85,365.83 577.3,365.84 577.76,365.84 578.21,365.85 578.66,365.86 579.12,365.87 579.57,365.88 580.02,365.88 580.48,365.89 580.93,365.9 581.38,365.91 581.83,365.91 582.29,365.92 582.74,365.93 583.19,365.93 583.65,365.94 584.1,365.95 584.55,365.95 585,365.96 585.46,365.97 585.91,365.97 586.36,365.98 586.82,365.99 587.27,365.99 587.72,366 588.18,366 588.63,366.01 589.08,366.02 589.53,366.03 589.99,366.03 590.44,366.03 590.89,366.04 591.35,366.05 591.8,366.06 592.25,366.06 592.71,366.07 593.16,366.08 593.61,366.08 594.07,366.09 594.52,366.09 594.97,366.1 595.42,366.11 595.88,366.11 596.33,366.12 596.78,366.12 597.24,366.13 597.69,366.14 598.14,366.14 598.6,366.15 599.05,366.16 599.5,366.16 599.95,366.16 600.41,366.17 600.86,366.17 601.31,366.18 601.77,366.18 602.22,366.19 602.67,366.2 603.12,366.2 603.58,366.2 604.03,366.21 604.48,366.21 604.94,366.22 605.39,366.23 605.84,366.23 606.3,366.24 606.75,366.24 607.2,366.24 607.65,366.25 608.11,366.25 608.56,366.26 609.01,366.27 609.47,366.27 609.92,366.28 610.37,366.28 610.83,366.28 611.28,366.29 611.73,366.29 612.18,366.3 612.64,366.3 613.09,366.31 613.54,366.32 614,366.32 614.45,366.32 614.9,366.32 615.36,366.32 615.81,366.32 616.26,366.33 616.72,366.33 617.17,366.33 617.62,366.33 618.07,366.33 618.53,366.33 618.98,366.33 619.43,366.33 619.89,366.33 620.34,366.33 620.79,366.33 621.25,366.33 621.7,366.32 622.15,366.31 622.6,366.3 623.06,366.29 623.51,366.27 623.96,366.26 624.42,366.24 624.87,366.22 625.32,366.19 625.77,366.17 626.23,366.15 626.68,366.12 627.13,366.1 627.59,366.07 628.04,366.03 628.49,366 628.95,365.96 629.4,365.92 629.85,365.88 630.31,365.85 630.76,365.83 631.21,365.8 631.66,365.78 632.12,365.76 632.57,365.75 633.02,365.73 633.48,365.72 633.93,365.7 634.38,365.69 634.84,365.67 635.29,365.66 635.74,365.65 636.19,365.63 636.65,365.62 637.1,365.61"/>
<polyline points="365.3,-48.03 365.35,-48.03 365.39,-48.03 365.44,-48.03 365.48,-48.03 365.53,-48.03 365.57,-48.03 365.62,-48.03 365.66,-48.03 365.71,-48.03 365.75,-48.03 365.8,-48.03 365.84,-48.03 365.89,-48.03 365.93,-48.03 365.98,-48.03 366.02,-48.03 366.07,-48.03 366.12,-48.03 366.16,-48.03 366.21,-48.03 366.25,-48.03 366.3,-48.03 366.34,-48.03 366.39,-48.03 366.43,-48.03 366.48,-48.03 366.52,-48.03 366.57,-48.03 366.61,-48.03 366.66,-48.03 366.7,-48.03 366.75,-48.03 366.79,-48.03 366.84,-48.03 366.89,-48.03 366.93,-48.03 366.98,-48.03 367.02,-48.03 367.07,-48.03 367.11,-48.03 367.16,-48.03 367.2,-48.03 367.25,-48.03 367.29,-48.03 367.34,-48.03 367.38,-41.74 367.43,-25.77 367.47,-10.73 367.52,3.44 367.56,16.82 367.61,29.46 367.66,41.41 367.7,52.72 367.75,63.44 367.79,73.6 367.84,83.25 367.88,92.41 367.93,101.12 367.97,109.41 368.02,117.3 368.06,124.82 368.11,131.99 368.15,138.84 368.2,145.37 368.24,151.62 368.29,157.59 368.34,163.31 368.38,168.78 368.43,174.02 368.47,179.05 368.52,183.87 368.56,188.49 368.61,192.94 368.65,197.2 368.7,201.3 368.74,205.25 368.79,209.04 368.83,212.7 368.88,216.22 368.92,219.6 368.97,222.87 369.01,226.02 369.06,229.06 369.11,232 369.15,234.83 369.2,237.57 369.24,240.21 369.29,242.77 369.33,245.24 369.38,247.63 369.42,249.95 369.47,252.19 369.51,254.36 369.56,256.46 369.6,258.49 369.65,260.47 369.69,262.38 369.74,264.24 369.78,266.04 369.83,267.79 369.88,269.49 369.92,271.14 369.97,272.74 370.01,274.29 370.06,275.81 370.1,277.28 370.15,278.71 370.19,280.1 370.24,281.45 370.28,282.77 370.33,284.05 370.37,285.3 370.42,286.51 370.46,287.69 370.51,288.85 370.55,289.97 370.6,291.07 370.65,292.13 370.69,293.17 370.74,294.19 370.78,295.18 370.83,296.15 370.87,297.09 370.92,298.01 370.96,298.91 371.01,299.79 371.05,300.65 371.1,301.48 371.14,302.3 371.19,303.1 371.23,303.88 371.28,304.65 371.32,305.39 371.37,306.13 371.42,306.84 371.46,307.54 371.51,308.22 371.55,308.89 371.6,309.55 371.64,310.19 371.69,310.81 371.73,311.43 371.78,312.03 371.82,312.62 371.87,313.19 371.91,313.76 371.96,314.31 372,314.86 372.05,315.39 372.1,315.91 372.14,316.42 372.19,316.92 372.23,317.41 372.28,317.89 372.32,318.37 372.37,318.83 372.41,319.29 372.46,319.73 372.5,320.17 372.55,320.6 372.59,321.02 372.64,321.43 372.68,321.84 372.73,322.24 372.77,322.63 372.82,323.02 372.87,323.39 372.91,323.77 372.96,324.13 373,324.49 373.05,324.84 373.09,325.19 373.14,325.53 373.18,325.86 373.23,326.19 373.27,326.51 373.32,326.83 373.36,327.14 373.41,327.45 373.45,327.75 373.5,328.05 373.54,328.34 373.59,328.63 373.64,328.91 373.68,329.19 373.73,329.46 373.77,329.73 373.82,330 373.86,330.26 373.91,330.52 373.95,330.77 374,331.02 374.04,331.26 374.09,331.5 374.13,331.74 374.18,331.97 374.22,332.2 374.27,332.43 374.31,332.66 374.36,332.88 374.81,334.91 375.27,336.67 375.72,338.21 376.17,339.56 376.62,340.75 377.08,341.81 377.53,342.75 377.98,343.59 378.44,344.35 378.89,345.03 379.34,345.65 379.8,346.21 380.25,346.72 380.7,347.19 381.16,347.61 381.61,348.01 382.06,348.37 382.51,348.7 382.97,349.01 383.42,349.29 383.87,349.55 384.33,349.8 384.78,350.03 385.23,350.24 385.69,350.44 386.14,350.62 386.59,350.8 387.04,350.96 387.5,351.11 387.95,351.26 388.4,351.39 388.86,351.52 389.31,351.64 389.76,351.76 390.22,351.87 390.67,351.97 391.12,352.06 391.57,352.16 392.03,352.24 392.48,352.33 392.93,352.4 393.39,352.48 393.84,352.55 394.29,352.62 394.75,352.68 395.2,352.74 395.65,352.8 396.1,352.86 396.56,352.91 397.01,352.96 397.46,353.01 397.92,353.06 398.37,353.11 398.82,353.15 399.27,353.19 399.73,353.23 400.18,353.27 400.63,353.31 401.09,353.34 401.54,353.38 401.99,353.41 402.45,353.44 402.9,353.47 403.35,353.5 403.81,353.53 404.26,353.56 404.71,353.58 405.16,353.61 405.62,353.63 406.07,353.65 406.52,353.68 406.98,353.7 407.43,353.72 407.88,353.74 408.34,353.76 408.79,353.78 409.24,353.8 409.69,353.81 410.15,353.83 410.6,353.85 411.05,353.86 411.51,353.88 411.96,353.89 412.41,353.91 412.87,353.92 413.32,353.94 413.77,353.95 414.22,353.96 414.68,353.98 415.13,353.99 415.58,354 416.04,354.01 416.49,354.02 416.94,354.03 417.4,354.04 417.85,354.05 418.3,354.06 418.75,354.07 419.21,354.08 419.66,354.09 420.11,354.09 420.57,354.1 421.02,354.11 421.47,354.12 421.93,354.12 422.38,354.13 422.83,354.14 423.28,354.14 423.74,354.15 424.19,354.16 424.64,354.16 425.1,354.17 425.55,354.17 426,354.18 426.46,354.18 426.91,354.19 427.36,354.19 427.81,354.2 428.27,354.2 428.72,354.2 429.17,354.21 429.63,354.21 430.08,354.21 430.53,354.22 430.99,354.22 431.44,354.22 431.89,354.23 432.34,354.23 432.8,354.23 433.25,354.23 433.7,354.23 434.16,354.23 434.61,354.24 435.06,354.24 435.51,354.24 435.97,354.24 436.42,354.24 436.87,354.24 437.33,354.24 437.78,354.24 438.23,354.24 438.69,354.24 439.14,354.24 439.59,354.24 440.05,354.24 440.5,354.23 440.95,354.23 441.4,354.23 441.86,354.23 442.31,354.23 442.76,354.22 443.22,354.22 443.67,354.22 444.12,354.21 444.57,354.21 445.03,354.21 445.48,354.2 445.93,354.2 446.39,354.19 446.84,354.19 447.29,354.18 447.75,354.18 448.2,354.17 448.65,354.16 449.11,354.16 449.56,354.15 450.01,354.14 450.46,354.13 450.92,354.12 451.37,354.11 451.82,354.1 452.28,354.09 452.73,354.08 453.18,354.07 453.63,354.05 454.09,354.04 454.54,354.02 454.99,354.01 455.45,353.99 455.9,353.97 456.35,353.95 456.81,353.93 457.26,353.91 457.71,353.89 458.17,353.86 458.62,353.83 459.07,353.81 459.52,353.77 459.98,353.74 460.43,353.7 460.88,353.67 461.34,353.62 461.79,353.58 462.24,353.53 462.69,353.48 463.15,353.42 463.6,353.35 464.05,353.28 464.51,353.21 464.96,353.12 465.41,353.02 465.87,352.92 466.32,352.8 466.77,352.67 467.23,352.51 467.68,352.34 468.13,352.14 468.58,351.91 469.04,351.64 469.49,351.33 469.94,350.95 470.4,350.49 470.85,349.93 471.3,349.24 471.75,348.38 472.21,347.27 472.66,345.85 473.11,344.04 473.57,341.8 474.02,339.17 474.47,336.33 474.93,333.49 475.38,330.71 475.83,327.94 476.29,325.06 476.74,322.29 477.19,320.33 477.64,319.94 478.1,321.34 478.55,323.92 479,326.73 479.46,329.09 479.91,330.83 480.36,332.04 480.81,332.86 481.27,333.43 481.72,333.83 482.17,334.12 482.63,334.33 483.08,334.5 483.53,334.63 483.99,334.75 484.44,334.86 484.89,334.98 485.35,335.11 485.8,335.25 486.25,335.42 486.7,335.63 487.16,335.89 487.61,336.22 488.06,336.65 488.52,337.17 488.97,337.8 489.42,338.48 489.88,339.11 490.33,339.61 490.78,339.92 491.23,340.05 491.69,340.02 492.14,339.84 492.59,339.52 493.05,339.09 493.5,338.56 493.95,337.99 494.4,337.43 494.86,336.91 495.31,336.47 495.76,336.12 496.22,335.85 496.67,335.67 497.12,335.56 497.58,335.5 498.03,335.49 498.48,335.5 498.94,335.55 499.39,335.61 499.84,335.69 500.29,335.79 500.75,335.91 501.2,336.06 501.65,336.25 502.11,336.47 502.56,336.73 503.01,337.03 503.47,337.35 503.92,337.64 504.37,337.9 504.82,338.11 505.28,338.29 505.73,338.44 506.18,338.57 506.64,338.69 507.09,338.8 507.54,338.91 508,339.03 508.45,339.14 508.9,339.26 509.35,339.39 509.81,339.52 510.26,339.64 510.71,339.75 511.17,339.85 511.62,339.93 512.07,340.01 512.53,340.07 512.98,340.12 513.43,340.16 513.88,340.2 514.34,340.24 514.79,340.28 515.24,340.31 515.7,340.35 516.15,340.38 516.6,340.4 517.06,340.43 517.51,340.46 517.96,340.48 518.41,340.51 518.87,340.53 519.32,340.55 519.77,340.57 520.23,340.59 520.68,340.61 521.13,340.63 521.59,340.65 522.04,340.68 522.49,340.7 522.94,340.72 523.4,340.73 523.85,340.75 524.3,340.77 524.76,340.79 525.21,340.81 525.66,340.82 526.12,340.84 526.57,340.86 527.02,340.88 527.47,340.89 527.93,340.91 528.38,340.93 528.83,340.94 529.29,340.96 529.74,340.97 530.19,340.99 530.64,341.01 531.1,341.02 531.55,341.04 532,341.05 532.46,341.07 532.91,341.08 533.36,341.1 533.82,341.11 534.27,341.13 534.72,341.14 535.17,341.15 535.63,341.17 536.08,341.18 536.53,341.2 536.99,341.21 537.44,341.22 537.89,341.24 538.35,341.25 538.8,341.27 539.25,341.28 539.71,341.29 540.16,341.31 540.61,341.32 541.06,341.33 541.52,341.34 541.97,341.36 542.42,341.37 542.88,341.38 543.33,341.39 543.78,341.4 544.24,341.41 544.69,341.43 545.14,341.44 545.59,341.45 546.05,341.46 546.5,341.48 546.95,341.49 547.41,341.5 547.86,341.51 548.31,341.52 548.76,341.54 549.22,341.55 549.67,341.56 550.12,341.57 550.58,341.58 551.03,341.59 551.48,341.6 551.94,341.61 552.39,341.62 552.84,341.64 553.3,341.65 553.75,341.66 554.2,341.67 554.65,341.67 555.11,341.68 555.56,341.7 556.01,341.71 556.47,341.72 556.92,341.73 557.37,341.74 557.83,341.75 558.28,341.76 558.73,341.77 559.18,341.78 559.64,341.79 560.09,341.8 560.54,341.81 561,341.81 561.45,341.82 561.9,341.83 562.36,341.84 562.81,341.85 563.26,341.86 563.71,341.87 564.17,341.88 564.62,341.89 565.07,341.9 565.53,341.9 565.98,341.91 566.43,341.92 566.88,341.93 567.34,341.94 567.79,341.95 568.24,341.96 568.7,341.97 569.15,341.98 569.6,341.99 570.06,342 570.51,342 570.96,342.01 571.41,342.02 571.87,342.03 572.32,342.04 572.77,342.05 573.23,342.06 573.68,342.07 574.13,342.07 574.59,342.08 575.04,342.08 575.49,342.09 575.95,342.1 576.4,342.11 576.85,342.11 577.3,342.12 577.76,342.12 578.21,342.13 578.66,342.14 579.12,342.15 579.57,342.16 580.02,342.17 580.48,342.17 580.93,342.18 581.38,342.19 581.83,342.2 582.29,342.21 582.74,342.21 583.19,342.22 583.65,342.23 584.1,342.23 584.55,342.24 585,342.24 585.46,342.25 585.91,342.26 586.36,342.27 586.82,342.27 587.27,342.28 587.72,342.28 588.18,342.29 588.63,342.29 589.08,342.3 589.53,342.31 589.99,342.31 590.44,342.32 590.89,342.32 591.35,342.33 591.8,342.34 592.25,342.35 592.71,342.35 593.16,342.36 593.61,342.37 594.07,342.37 594.52,342.38 594.97,342.38 595.42,342.39 595.88,342.4 596.33,342.4 596.78,342.4 597.24,342.41 597.69,342.42 598.14,342.42 598.6,342.43 599.05,342.43 599.5,342.44 599.95,342.44 600.41,342.44 600.86,342.45 601.31,342.45 601.77,342.46 602.22,342.46 602.67,342.47 603.12,342.47 603.58,342.47 604.03,342.48 604.48,342.48 604.94,342.48 605.39,342.49 605.84,342.49 606.3,342.49 606.75,342.49 607.2,342.49 607.65,342.49 608.11,342.49 608.56,342.49 609.01,342.49 609.47,342.49 609.92,342.48 610.37,342.47 610.83,342.45 611.28,342.43 611.73,342.42 612.18,342.4 612.64,342.39 613.09,342.37 613.54,342.35 614,342.32 614.45,342.29 614.9,342.26 615.36,342.23 615.81,342.21 616.26,342.2 616.72,342.18 617.17,342.18 617.62,342.17 618.07,342.16 618.53,342.16 618.98,342.15 619.43,342.14 619.89,342.14 620.34,342.13 620.79,342.13 621.25,342.12 621.7,342.11 622.15,342.1 622.6,342.08 623.06,342.06 623.51,342.03 623.96,341.99 624.42,341.96 624.87,341.92 625.32,341.89 625.77,341.87 626.23,341.85 626.68,341.83 627.13,341.81 627.59,341.8 628.04,341.78 628.49,341.76 628.95,341.75 629.4,341.73 629.85,341.72 630.31,341.71 630.76,341.7 631.21,341.69 631.66,341.68 632.12,341.67 632.57,341.66 633.02,341.65 633.48,341.64 633.93,341.62 634.38,341.6 634.84,341.58 635.29,341.56 635.74,341.53 636.19,341.5 636.65,341.47 637.1,341.44"/>
<polyline points="365.3,-48.03 365.35,-48.03 365.39,-48.03 365.44,-48.03 365.48,-48.03 365.53,-48.03 365.57,-48.03 365.62,-48.03 365.66,-48.03 365.71,-48.03 365.75,-48.03 365.8,-48.03 365.84,-48.03 365.89,-48.03 365.93,-48.03 365.98,-48.03 366.02,-48.03 366.07,-48.03 366.12,-48.03 366.16,-48.03 366.21,-48.03 366.25,-48.03 366.3,-48.03 366.34,-48.03 366.39,-48.03 366.43,-48.03 366.48,-48.03 366.52,-48.03 366.57,-48.03 366.61,-48.03 366.66,-48.03 366.7,-48.03 366.75,-48.03 366.79,-48.03 366.84,-48.03 366.89,-48.03 366.93,-48.03 366.98,-48.03 367.02,-48.03 367.07,-48.03 367.11,-48.03 367.16,-48.03 367.2,-48.03 367.25,-48.03 367.29,-44.94 367.34,-29.19 367.38,-14.4 367.43,-0.48 367.47,12.62 367.52,24.97 367.56,36.63 367.61,47.64 367.66,58.05 367.7,67.91 367.75,77.24 367.79,86.1 367.84,94.5 367.88,102.48 367.93,110.07 367.97,117.29 368.02,124.17 368.06,130.72 368.11,136.97 368.15,142.93 368.2,148.63 368.24,154.07 368.29,159.28 368.34,164.25 368.38,169.02 368.43,173.59 368.47,177.97 368.52,182.17 368.56,186.2 368.61,190.07 368.65,193.79 368.7,197.36 368.74,200.8 368.79,204.1 368.83,207.28 368.88,210.35 368.92,213.3 368.97,216.15 369.01,218.9 369.06,221.54 369.11,224.1 369.15,226.57 369.2,228.95 369.24,231.26 369.29,233.48 369.33,235.64 369.38,237.72 369.42,239.74 369.47,241.69 369.51,243.58 369.56,245.41 369.6,247.19 369.65,248.91 369.69,250.57 369.74,252.19 369.78,253.76 369.83,255.28 369.88,256.76 369.92,258.2 369.97,259.59 370.01,260.95 370.06,262.27 370.1,263.55 370.15,264.79 370.19,266.01 370.24,267.18 370.28,268.33 370.33,269.45 370.37,270.54 370.42,271.59 370.46,272.63 370.51,273.63 370.55,274.61 370.6,275.56 370.65,276.49 370.69,277.4 370.74,278.29 370.78,279.15 370.83,279.99 370.87,280.81 370.92,281.61 370.96,282.4 371.01,283.16 371.05,283.91 371.1,284.64 371.14,285.35 371.19,286.05 371.23,286.73 371.28,287.4 371.32,288.05 371.37,288.68 371.42,289.31 371.46,289.91 371.51,290.51 371.55,291.09 371.6,291.66 371.64,292.22 371.69,292.77 371.73,293.3 371.78,293.83 371.82,294.34 371.87,294.84 371.91,295.34 371.96,295.82 372,296.29 372.05,296.75 372.1,297.21 372.14,297.65 372.19,298.09 372.23,298.52 372.28,298.94 372.32,299.35 372.37,299.75 372.41,300.15 372.46,300.54 372.5,300.92 372.55,301.29 372.59,301.66 372.64,302.02 372.68,302.38 372.73,302.72 372.77,303.06 372.82,303.4 372.87,303.73 372.91,304.05 372.96,304.37 373,304.68 373.05,304.99 373.09,305.29 373.14,305.59 373.18,305.88 373.23,306.16 373.27,306.45 373.32,306.72 373.36,306.99 373.41,307.26 373.45,307.53 373.5,307.78 373.54,308.04 373.59,308.29 373.64,308.54 373.68,308.78 373.73,309.02 373.77,309.25 373.82,309.48 373.86,309.71 373.91,309.93 373.95,310.15 374,310.37 374.04,310.58 374.09,310.79 374.13,311 374.18,311.2 374.22,311.4 374.27,311.6 374.31,311.8 374.36,311.99 374.81,313.76 375.27,315.29 375.72,316.63 376.17,317.81 376.62,318.85 377.08,319.77 377.53,320.59 377.98,321.32 378.44,321.98 378.89,322.58 379.34,323.12 379.8,323.61 380.25,324.05 380.7,324.46 381.16,324.83 381.61,325.17 382.06,325.48 382.51,325.77 382.97,326.04 383.42,326.29 383.87,326.52 384.33,326.73 384.78,326.93 385.23,327.11 385.69,327.29 386.14,327.45 386.59,327.6 387.04,327.74 387.5,327.88 387.95,328 388.4,328.12 388.86,328.23 389.31,328.34 389.76,328.43 390.22,328.53 390.67,328.62 391.12,328.7 391.57,328.78 392.03,328.86 392.48,328.93 392.93,329 393.39,329.06 393.84,329.12 394.29,329.18 394.75,329.24 395.2,329.29 395.65,329.34 396.1,329.39 396.56,329.44 397.01,329.48 397.46,329.53 397.92,329.57 398.37,329.61 398.82,329.64 399.27,329.68 399.73,329.71 400.18,329.75 400.63,329.78 401.09,329.81 401.54,329.84 401.99,329.87 402.45,329.89 402.9,329.92 403.35,329.95 403.81,329.97 404.26,329.99 404.71,330.02 405.16,330.04 405.62,330.06 406.07,330.08 406.52,330.1 406.98,330.12 407.43,330.13 407.88,330.15 408.34,330.17 408.79,330.18 409.24,330.2 409.69,330.22 410.15,330.23 410.6,330.24 411.05,330.26 411.51,330.27 411.96,330.28 412.41,330.3 412.87,330.31 413.32,330.32 413.77,330.33 414.22,330.34 414.68,330.35 415.13,330.36 415.58,330.37 416.04,330.38 416.49,330.39 416.94,330.4 417.4,330.41 417.85,330.41 418.3,330.42 418.75,330.43 419.21,330.44 419.66,330.44 420.11,330.45 420.57,330.46 421.02,330.46 421.47,330.47 421.93,330.47 422.38,330.48 422.83,330.48 423.28,330.49 423.74,330.49 424.19,330.5 424.64,330.5 425.1,330.51 425.55,330.51 426,330.51 426.46,330.52 426.91,330.52 427.36,330.52 427.81,330.53 428.27,330.53 428.72,330.53 429.17,330.53 429.63,330.54 430.08,330.54 430.53,330.54 430.99,330.54 431.44,330.54 431.89,330.54 432.34,330.54 432.8,330.54 433.25,330.55 433.7,330.55 434.16,330.55 434.61,330.55 435.06,330.55 435.51,330.54 435.97,330.54 436.42,330.54 436.87,330.54 437.33,330.54 437.78,330.54 438.23,330.54 438.69,330.54 439.14,330.53 439.59,330.53 440.05,330.53 440.5,330.53 440.95,330.52 441.4,330.52 441.86,330.52 442.31,330.51 442.76,330.51 443.22,330.5 443.67,330.5 444.12,330.49 444.57,330.49 445.03,330.48 445.48,330.48 445.93,330.47 446.39,330.46 446.84,330.45 447.29,330.45 447.75,330.44 448.2,330.43 448.65,330.42 449.11,330.41 449.56,330.4 450.01,330.39 450.46,330.38 450.92,330.37 451.37,330.35 451.82,330.34 452.28,330.33 452.73,330.31 453.18,330.3 453.63,330.28 454.09,330.26 454.54,330.24 454.99,330.22 455.45,330.2 455.9,330.18 456.35,330.16 456.81,330.13 457.26,330.11 457.71,330.08 458.17,330.05 458.62,330.01 459.07,329.98 459.52,329.94 459.98,329.9 460.43,329.86 460.88,329.81 461.34,329.77 461.79,329.71 462.24,329.65 462.69,329.59 463.15,329.52 463.6,329.45 464.05,329.37 464.51,329.28 464.96,329.18 465.41,329.07 465.87,328.95 466.32,328.82 466.77,328.67 467.23,328.49 467.68,328.3 468.13,328.08 468.58,327.83 469.04,327.54 469.49,327.19 469.94,326.79 470.4,326.3 470.85,325.72 471.3,325 471.75,324.1 472.21,322.98 472.66,321.55 473.11,319.73 473.57,317.45 474.02,314.66 474.47,311.46 474.93,308.04 475.38,304.59 475.83,301.13 476.29,297.63 476.74,294.35 477.19,292.02 477.64,291.32 478.1,292.28 478.55,294.2 479,296.23 479.46,297.86 479.91,298.99 480.36,299.72 480.81,300.18 481.27,300.48 481.72,300.68 482.17,300.82 482.63,300.92 483.08,301.01 483.53,301.1 483.99,301.2 484.44,301.33 484.89,301.48 485.35,301.68 485.8,301.94 486.25,302.28 486.7,302.72 487.16,303.29 487.61,303.99 488.06,304.79 488.52,305.62 488.97,306.38 489.42,307.02 489.88,307.54 490.33,307.96 490.78,308.3 491.23,308.58 491.69,308.82 492.14,309.03 492.59,309.22 493.05,309.38 493.5,309.54 493.95,309.68 494.4,309.82 494.86,309.95 495.31,310.08 495.76,310.21 496.22,310.33 496.67,310.46 497.12,310.61 497.58,310.77 498.03,310.95 498.48,311.15 498.94,311.36 499.39,311.61 499.84,311.89 500.29,312.2 500.75,312.56 501.2,312.93 501.65,313.27 502.11,313.57 502.56,313.83 503.01,314.04 503.47,314.22 503.92,314.38 504.37,314.52 504.82,314.66 505.28,314.8 505.73,314.93 506.18,315.07 506.64,315.23 507.09,315.39 507.54,315.54 508,315.68 508.45,315.8 508.9,315.9 509.35,315.99 509.81,316.06 510.26,316.12 510.71,316.17 511.17,316.22 511.62,316.27 512.07,316.32 512.53,316.36 512.98,316.4 513.43,316.43 513.88,316.47 514.34,316.5 514.79,316.53 515.24,316.56 515.7,316.59 516.15,316.62 516.6,316.65 517.06,316.67 517.51,316.7 517.96,316.73 518.41,316.75 518.87,316.78 519.32,316.8 519.77,316.82 520.23,316.84 520.68,316.86 521.13,316.88 521.59,316.9 522.04,316.92 522.49,316.95 522.94,316.97 523.4,316.99 523.85,317.01 524.3,317.03 524.76,317.05 525.21,317.06 525.66,317.08 526.12,317.1 526.57,317.12 527.02,317.14 527.47,317.15 527.93,317.17 528.38,317.19 528.83,317.2 529.29,317.22 529.74,317.24 530.19,317.26 530.64,317.27 531.1,317.29 531.55,317.3 532,317.32 532.46,317.34 532.91,317.35 533.36,317.37 533.82,317.38 534.27,317.4 534.72,317.41 535.17,317.43 535.63,317.44 536.08,317.45 536.53,317.47 536.99,317.48 537.44,317.5 537.89,317.51 538.35,317.53 538.8,317.54 539.25,317.55 539.71,317.57 540.16,317.58 540.61,317.59 541.06,317.61 541.52,317.62 541.97,317.63 542.42,317.65 542.88,317.66 543.33,317.67 543.78,317.68 544.24,317.69 544.69,317.7 545.14,317.72 545.59,317.73 546.05,317.74 546.5,317.76 546.95,317.77 547.41,317.78 547.86,317.79 548.31,317.81 548.76,317.82 549.22,317.83 549.67,317.84 550.12,317.85 550.58,317.86 551.03,317.87 551.48,317.89 551.94,317.9 552.39,317.91 552.84,317.92 553.3,317.93 553.75,317.94 554.2,317.95 554.65,317.96 555.11,317.97 555.56,317.98 556.01,317.99 556.47,318 556.92,318.01 557.37,318.02 557.83,318.03 558.28,318.04 558.73,318.05 559.18,318.06 559.64,318.07 560.09,318.08 560.54,318.09 561,318.1 561.45,318.11 561.9,318.12 562.36,318.13 562.81,318.14 563.26,318.15 563.71,318.15 564.17,318.16 564.62,318.17 565.07,318.18 565.53,318.19 565.98,318.2 566.43,318.21 566.88,318.22 567.34,318.23 567.79,318.24 568.24,318.25 568.7,318.25 569.15,318.26 569.6,318.27 570.06,318.28 570.51,318.29 570.96,318.29 571.41,318.3 571.87,318.31 572.32,318.32 572.77,318.33 573.23,318.34 573.68,318.35 574.13,318.36 574.59,318.36 575.04,318.37 575.49,318.37 575.95,318.38 576.4,318.39 576.85,318.39 577.3,318.4 577.76,318.41 578.21,318.41 578.66,318.42 579.12,318.43 579.57,318.44 580.02,318.45 580.48,318.45 580.93,318.46 581.38,318.47 581.83,318.48 582.29,318.48 582.74,318.49 583.19,318.49 583.65,318.5 584.1,318.51 584.55,318.51 585,318.52 585.46,318.52 585.91,318.53 586.36,318.53 586.82,318.54 587.27,318.54 587.72,318.55 588.18,318.55 588.63,318.55 589.08,318.56 589.53,318.56 589.99,318.57 590.44,318.57 590.89,318.57 591.35,318.57 591.8,318.58 592.25,318.58 592.71,318.58 593.16,318.57 593.61,318.57 594.07,318.56 594.52,318.55 594.97,318.53 595.42,318.52 595.88,318.5 596.33,318.47 596.78,318.45 597.24,318.43 597.69,318.4 598.14,318.37 598.6,318.34 599.05,318.31 599.5,318.28 599.95,318.26 600.41,318.24 600.86,318.23 601.31,318.22 601.77,318.22 602.22,318.21 602.67,318.21 603.12,318.21 603.58,318.2 604.03,318.2 604.48,318.19 604.94,318.19 605.39,318.18 605.84,318.16 606.3,318.14 606.75,318.12 607.2,318.09 607.65,318.07 608.11,318.04 608.56,318.03 609.01,318.02 609.47,318.01 609.92,318 610.37,318 610.83,317.99 611.28,317.99 611.73,317.99 612.18,318 612.64,318 613.09,318 613.54,318.01 614,318.01 614.45,318 614.9,318 615.36,317.99 615.81,317.99 616.26,317.98 616.72,317.97 617.17,317.96 617.62,317.94 618.07,317.92 618.53,317.89 618.98,317.86 619.43,317.84 619.89,317.82 620.34,317.8 620.79,317.79 621.25,317.78 621.7,317.77 622.15,317.76 622.6,317.74 623.06,317.72 623.51,317.7 623.96,317.67 624.42,317.65 624.87,317.63 625.32,317.62 625.77,317.61 626.23,317.6 626.68,317.59 627.13,317.58 627.59,317.57 628.04,317.56 628.49,317.55 628.95,317.54 629.4,317.53 629.85,317.52 630.31,317.52 630.76,317.51 631.21,317.51 631.66,317.5 632.12,317.5 632.57,317.49 633.02,317.49 633.48,317.48 633.93,317.48 634.38,317.47 634.84,317.46 635.29,317.46 635.74,317.45 636.19,317.45 636.65,317.44 637.1,317.44"/>
<polyline points="365.3,-48.03 365.35,-48.03 365.39,-48.03 365.44,-48.03 365.48,-48.03 365.53,-48.03 365.57,-48.03 365.62,-48.03 365.66,-48.03 365.71,-48.03 365.75,-48.03 365.8,-48.03 365.84,-48.03 365.89,-48.03 365.93,-48.03 365.98,-48.03 366.02,-48.03 366.07,-48.03 366.12,-48.03 366.16,-48.03 366.21,-48.03 366.25,-48.03 366.3,-48.03 366.34,-48.03 366.39,-48.03 366.43,-48.03 366.48,-48.03 366.52,-48.03 366.57,-48.03 366.61,-48.03 366.66,-48.03 366.7,-48.03 366.75,-48.03 366.79,-48.03 366.84,-48.03 366.89,-48.03 366.93,-48.03 366.98,-48.03 367.02,-48.03 367.07,-48.03 367.11,-47.62 367.16,-31.48 367.2,-16.39 367.25,-2.27 367.29,10.96 367.34,23.38 367.38,35.04 367.43,46.01 367.47,56.34 367.52,66.07 367.56,75.26 367.61,83.94 367.66,92.15 367.7,99.92 367.75,107.28 367.79,114.26 367.84,120.88 367.88,127.17 367.93,133.15 367.97,138.85 368.02,144.27 368.06,149.43 368.11,154.36 368.15,159.06 368.2,163.55 368.24,167.84 368.29,171.94 368.34,175.86 368.38,179.62 368.43,183.22 368.47,186.67 368.52,189.98 368.56,193.16 368.61,196.21 368.65,199.14 368.7,201.96 368.74,204.67 368.79,207.27 368.83,209.78 368.88,212.2 368.92,214.53 368.97,216.77 369.01,218.94 369.06,221.02 369.11,223.04 369.15,224.98 369.2,226.86 369.24,228.68 369.29,230.44 369.33,232.13 369.38,233.78 369.42,235.37 369.47,236.9 369.51,238.39 369.56,239.84 369.6,241.24 369.65,242.59 369.69,243.91 369.74,245.18 369.78,246.42 369.83,247.62 369.88,248.79 369.92,249.92 369.97,251.02 370.01,252.09 370.06,253.13 370.1,254.14 370.15,255.12 370.19,256.07 370.24,257 370.28,257.91 370.33,258.79 370.37,259.64 370.42,260.48 370.46,261.29 370.51,262.08 370.55,262.85 370.6,263.61 370.65,264.34 370.69,265.05 370.74,265.75 370.78,266.43 370.83,267.1 370.87,267.74 370.92,268.38 370.96,268.99 371.01,269.6 371.05,270.18 371.1,270.76 371.14,271.32 371.19,271.87 371.23,272.41 371.28,272.93 371.32,273.45 371.37,273.95 371.42,274.44 371.46,274.92 371.51,275.39 371.55,275.85 371.6,276.3 371.64,276.74 371.69,277.17 371.73,277.59 371.78,278 371.82,278.41 371.87,278.8 371.91,279.19 371.96,279.57 372,279.94 372.05,280.31 372.1,280.67 372.14,281.02 372.19,281.36 372.23,281.7 372.28,282.03 372.32,282.35 372.37,282.67 372.41,282.98 372.46,283.29 372.5,283.59 372.55,283.89 372.59,284.18 372.64,284.46 372.68,284.74 372.73,285.01 372.77,285.28 372.82,285.55 372.87,285.81 372.91,286.06 372.96,286.31 373,286.56 373.05,286.8 373.09,287.04 373.14,287.27 373.18,287.5 373.23,287.73 373.27,287.95 373.32,288.17 373.36,288.38 373.41,288.59 373.45,288.8 373.5,289 373.54,289.2 373.59,289.4 373.64,289.59 373.68,289.79 373.73,289.97 373.77,290.16 373.82,290.34 373.86,290.52 373.91,290.7 373.95,290.87 374,291.04 374.04,291.21 374.09,291.37 374.13,291.54 374.18,291.7 374.22,291.86 374.27,292.01 374.31,292.17 374.36,292.32 374.81,293.71 375.27,294.92 375.72,295.98 376.17,296.9 376.62,297.72 377.08,298.45 377.53,299.09 377.98,299.67 378.44,300.19 378.89,300.66 379.34,301.09 379.8,301.47 380.25,301.82 380.7,302.14 381.16,302.43 381.61,302.7 382.06,302.95 382.51,303.18 382.97,303.39 383.42,303.58 383.87,303.76 384.33,303.93 384.78,304.09 385.23,304.23 385.69,304.37 386.14,304.5 386.59,304.61 387.04,304.73 387.5,304.83 387.95,304.93 388.4,305.02 388.86,305.11 389.31,305.19 389.76,305.27 390.22,305.34 390.67,305.41 391.12,305.48 391.57,305.54 392.03,305.6 392.48,305.66 392.93,305.71 393.39,305.76 393.84,305.81 394.29,305.85 394.75,305.9 395.2,305.94 395.65,305.98 396.1,306.02 396.56,306.05 397.01,306.09 397.46,306.12 397.92,306.15 398.37,306.18 398.82,306.21 399.27,306.24 399.73,306.27 400.18,306.29 400.63,306.32 401.09,306.34 401.54,306.36 401.99,306.38 402.45,306.4 402.9,306.42 403.35,306.44 403.81,306.46 404.26,306.48 404.71,306.5 405.16,306.51 405.62,306.53 406.07,306.54 406.52,306.56 406.98,306.57 407.43,306.58 407.88,306.6 408.34,306.61 408.79,306.62 409.24,306.63 409.69,306.64 410.15,306.65 410.6,306.66 411.05,306.67 411.51,306.68 411.96,306.69 412.41,306.7 412.87,306.71 413.32,306.72 413.77,306.72 414.22,306.73 414.68,306.74 415.13,306.74 415.58,306.75 416.04,306.76 416.49,306.76 416.94,306.77 417.4,306.77 417.85,306.78 418.3,306.78 418.75,306.79 419.21,306.79 419.66,306.79 420.11,306.8 420.57,306.8 421.02,306.8 421.47,306.81 421.93,306.81 422.38,306.81 422.83,306.81 423.28,306.81 423.74,306.82 424.19,306.82 424.64,306.82 425.1,306.82 425.55,306.82 426,306.82 426.46,306.82 426.91,306.82 427.36,306.82 427.81,306.82 428.27,306.82 428.72,306.82 429.17,306.81 429.63,306.81 430.08,306.81 430.53,306.81 430.99,306.8 431.44,306.8 431.89,306.8 432.34,306.79 432.8,306.79 433.25,306.79 433.7,306.78 434.16,306.78 434.61,306.77 435.06,306.76 435.51,306.76 435.97,306.75 436.42,306.74 436.87,306.73 437.33,306.73 437.78,306.72 438.23,306.71 438.69,306.7 439.14,306.69 439.59,306.67 440.05,306.66 440.5,306.65 440.95,306.63 441.4,306.62 441.86,306.6 442.31,306.58 442.76,306.56 443.22,306.54 443.67,306.52 444.12,306.49 444.57,306.47 445.03,306.44 445.48,306.41 445.93,306.37 446.39,306.34 446.84,306.29 447.29,306.25 447.75,306.2 448.2,306.14 448.65,306.08 449.11,306 449.56,305.92 450.01,305.82 450.46,305.71 450.92,305.57 451.37,305.4 451.82,305.2 452.28,304.96 452.73,304.66 453.18,304.32 453.63,303.93 454.09,303.5 454.54,303.02 454.99,302.5 455.45,301.93 455.9,301.29 456.35,300.61 456.81,299.88 457.26,299.16 457.71,298.47 458.17,297.86 458.62,297.35 459.07,296.94 459.52,296.61 459.98,296.34 460.43,296.12 460.88,295.94 461.34,295.77 461.79,295.63 462.24,295.51 462.69,295.39 463.15,295.28 463.6,295.17 464.05,295.07 464.51,294.97 464.96,294.87 465.41,294.76 465.87,294.65 466.32,294.54 466.77,294.42 467.23,294.28 467.68,294.14 468.13,293.98 468.58,293.8 469.04,293.59 469.49,293.35 469.94,293.08 470.4,292.75 470.85,292.36 471.3,291.89 471.75,291.31 472.21,290.58 472.66,289.64 473.11,288.44 473.57,286.89 474.02,284.92 474.47,282.52 474.93,279.8 475.38,277 475.83,274.28 476.29,271.69 476.74,269.5 477.19,268.3 477.64,268.53 478.1,269.96 478.55,271.89 479,273.66 479.46,274.97 479.91,275.83 480.36,276.37 480.81,276.72 481.27,276.94 481.72,277.11 482.17,277.25 482.63,277.38 483.08,277.52 483.53,277.69 483.99,277.9 484.44,278.17 484.89,278.53 485.35,279 485.8,279.6 486.25,280.33 486.7,281.14 487.16,281.95 487.61,282.67 488.06,283.27 488.52,283.75 488.97,284.14 489.42,284.46 489.88,284.72 490.33,284.95 490.78,285.15 491.23,285.33 491.69,285.5 492.14,285.65 492.59,285.81 493.05,285.96 493.5,286.1 493.95,286.25 494.4,286.4 494.86,286.56 495.31,286.72 495.76,286.9 496.22,287.11 496.67,287.35 497.12,287.64 497.58,287.98 498.03,288.37 498.48,288.77 498.94,289.15 499.39,289.48 499.84,289.76 500.29,290 500.75,290.2 501.2,290.38 501.65,290.54 502.11,290.7 502.56,290.85 503.01,291.01 503.47,291.18 503.92,291.36 504.37,291.53 504.82,291.69 505.28,291.82 505.73,291.94 506.18,292.03 506.64,292.11 507.09,292.19 507.54,292.26 508,292.32 508.45,292.37 508.9,292.42 509.35,292.46 509.81,292.5 510.26,292.54 510.71,292.57 511.17,292.61 511.62,292.64 512.07,292.68 512.53,292.71 512.98,292.74 513.43,292.77 513.88,292.8 514.34,292.83 514.79,292.86 515.24,292.89 515.7,292.91 516.15,292.94 516.6,292.96 517.06,292.99 517.51,293.01 517.96,293.04 518.41,293.06 518.87,293.08 519.32,293.1 519.77,293.12 520.23,293.14 520.68,293.16 521.13,293.18 521.59,293.2 522.04,293.22 522.49,293.25 522.94,293.27 523.4,293.29 523.85,293.3 524.3,293.32 524.76,293.34 525.21,293.36 525.66,293.38 526.12,293.4 526.57,293.41 527.02,293.43 527.47,293.45 527.93,293.47 528.38,293.48 528.83,293.5 529.29,293.51 529.74,293.53 530.19,293.55 530.64,293.57 531.1,293.58 531.55,293.6 532,293.61 532.46,293.63 532.91,293.64 533.36,293.66 533.82,293.67 534.27,293.69 534.72,293.7 535.17,293.72 535.63,293.73 536.08,293.75 536.53,293.76 536.99,293.78 537.44,293.79 537.89,293.8 538.35,293.82 538.8,293.83 539.25,293.85 539.71,293.86 540.16,293.87 540.61,293.89 541.06,293.9 541.52,293.91 541.97,293.93 542.42,293.94 542.88,293.95 543.33,293.96 543.78,293.97 544.24,293.98 544.69,294 545.14,294.01 545.59,294.02 546.05,294.03 546.5,294.05 546.95,294.06 547.41,294.07 547.86,294.08 548.31,294.09 548.76,294.11 549.22,294.12 549.67,294.13 550.12,294.14 550.58,294.15 551.03,294.16 551.48,294.17 551.94,294.19 552.39,294.2 552.84,294.21 553.3,294.22 553.75,294.23 554.2,294.24 554.65,294.25 555.11,294.26 555.56,294.27 556.01,294.28 556.47,294.29 556.92,294.3 557.37,294.3 557.83,294.31 558.28,294.32 558.73,294.33 559.18,294.35 559.64,294.36 560.09,294.37 560.54,294.37 561,294.38 561.45,294.39 561.9,294.4 562.36,294.41 562.81,294.42 563.26,294.42 563.71,294.43 564.17,294.44 564.62,294.45 565.07,294.46 565.53,294.46 565.98,294.47 566.43,294.48 566.88,294.49 567.34,294.5 567.79,294.51 568.24,294.51 568.7,294.52 569.15,294.53 569.6,294.54 570.06,294.54 570.51,294.55 570.96,294.55 571.41,294.55 571.87,294.56 572.32,294.57 572.77,294.57 573.23,294.58 573.68,294.58 574.13,294.58 574.59,294.58 575.04,294.58 575.49,294.58 575.95,294.57 576.4,294.56 576.85,294.55 577.3,294.54 577.76,294.51 578.21,294.49 578.66,294.46 579.12,294.43 579.57,294.4 580.02,294.37 580.48,294.33 580.93,294.29 581.38,294.25 581.83,294.22 582.29,294.2 582.74,294.19 583.19,294.17 583.65,294.16 584.1,294.16 584.55,294.15 585,294.14 585.46,294.13 585.91,294.12 586.36,294.11 586.82,294.09 587.27,294.06 587.72,294.03 588.18,293.99 588.63,293.96 589.08,293.94 589.53,293.92 589.99,293.91 590.44,293.9 590.89,293.89 591.35,293.89 591.8,293.89 592.25,293.89 592.71,293.89 593.16,293.89 593.61,293.89 594.07,293.89 594.52,293.89 594.97,293.89 595.42,293.89 595.88,293.88 596.33,293.87 596.78,293.85 597.24,293.83 597.69,293.8 598.14,293.78 598.6,293.75 599.05,293.73 599.5,293.71 599.95,293.69 600.41,293.68 600.86,293.67 601.31,293.66 601.77,293.65 602.22,293.65 602.67,293.64 603.12,293.62 603.58,293.61 604.03,293.6 604.48,293.6 604.94,293.6 605.39,293.6 605.84,293.6 606.3,293.6 606.75,293.61 607.2,293.61 607.65,293.62 608.11,293.63 608.56,293.64 609.01,293.65 609.47,293.65 609.92,293.66 610.37,293.67 610.83,293.68 611.28,293.68 611.73,293.69 612.18,293.7 612.64,293.72 613.09,293.73 613.54,293.74 614,293.75 614.45,293.75 614.9,293.76 615.36,293.76 615.81,293.77 616.26,293.78 616.72,293.79 617.17,293.8 617.62,293.8 618.07,293.81 618.53,293.81 618.98,293.82 619.43,293.82 619.89,293.83 620.34,293.84 620.79,293.84 621.25,293.85 621.7,293.85 622.15,293.85 622.6,293.85 623.06,293.85 623.51,293.84 623.96,293.84 624.42,293.83 624.87,293.83 625.32,293.83 625.77,293.83 626.23,293.83 626.68,293.83 627.13,293.82 627.59,293.82 628.04,293.81 628.49,293.8 628.95,293.8 629.4,293.79 629.85,293.78 630.31,293.78 630.76,293.78 631.21,293.78 631.66,293.77 632.12,293.77 632.57,293.77 633.02,293.76 633.48,293.76 633.93,293.75 634.38,293.75 634.84,293.74 635.29,293.74 635.74,293.73 636.19,293.73 636.65,293.72 637.1,293.72"/>
<polyline points="365.3,-48.03 365.35,-48.03 365.39,-48.03 365.44,-48.03 365.48,-48.03 365.53,-48.03 365.57,-48.03 365.62,-48.03 365.66,-48.03 365.71,-48.03 365.75,-48.03 365.8,-48.03 365.84,-48.03 365.89,-48.03 365.93,-48.03 365.98,-48.03 366.02,-48.03 366.07,-48.03 366.12,-48.03 366.16,-48.03 366.21,-48.03 366.25,-48.03 366.3,-48.03 366.34,-48.03 366.39,-48.03 366.43,-48.03 366.48,-48.03 366.52,-48.03 366.57,-48.03 366.61,-48.03 366.66,-48.03 366.7,-48.03 366.75,-48.03 366.79,-48.03 366.84,-48.03 366.89,-48.03 366.93,-48.03 366.98,-48.03 367.02,-33.44 367.07,-18.37 367.11,-4.34 367.16,8.76 367.2,21 367.25,32.45 367.29,43.19 367.34,53.26 367.38,62.72 367.43,71.62 367.47,80 367.52,87.9 367.56,95.35 367.61,102.39 367.66,109.05 367.7,115.35 367.75,121.32 367.79,126.98 367.84,132.36 367.88,137.46 367.93,142.32 367.97,146.93 368.02,151.33 368.06,155.52 368.11,159.52 368.15,163.33 368.2,166.97 368.24,170.45 368.29,173.78 368.34,176.96 368.38,180.01 368.43,182.93 368.47,185.73 368.52,188.42 368.56,190.99 368.61,193.47 368.65,195.85 368.7,198.13 368.74,200.33 368.79,202.44 368.83,204.48 368.88,206.44 368.92,208.33 368.97,210.15 369.01,211.9 369.06,213.6 369.11,215.23 369.15,216.81 369.2,218.33 369.24,219.81 369.29,221.23 369.33,222.61 369.38,223.94 369.42,225.23 369.47,226.48 369.51,227.69 369.56,228.86 369.6,229.99 369.65,231.09 369.69,232.16 369.74,233.19 369.78,234.2 369.83,235.17 369.88,236.12 369.92,237.04 369.97,237.93 370.01,238.8 370.06,239.64 370.1,240.46 370.15,241.25 370.19,242.03 370.24,242.78 370.28,243.52 370.33,244.23 370.37,244.92 370.42,245.6 370.46,246.26 370.51,246.9 370.55,247.53 370.6,248.14 370.65,248.73 370.69,249.31 370.74,249.88 370.78,250.43 370.83,250.97 370.87,251.5 370.92,252.01 370.96,252.51 371.01,253 371.05,253.48 371.1,253.94 371.14,254.4 371.19,254.84 371.23,255.28 371.28,255.71 371.32,256.12 371.37,256.53 371.42,256.93 371.46,257.32 371.51,257.7 371.55,258.07 371.6,258.43 371.64,258.79 371.69,259.14 371.73,259.48 371.78,259.82 371.82,260.14 371.87,260.47 371.91,260.78 371.96,261.09 372,261.39 372.05,261.69 372.1,261.98 372.14,262.26 372.19,262.54 372.23,262.82 372.28,263.08 372.32,263.35 372.37,263.61 372.41,263.86 372.46,264.11 372.5,264.35 372.55,264.59 372.59,264.83 372.64,265.06 372.68,265.28 372.73,265.5 372.77,265.72 372.82,265.94 372.87,266.15 372.91,266.35 372.96,266.56 373,266.76 373.05,266.95 373.09,267.15 373.14,267.34 373.18,267.52 373.23,267.7 373.27,267.88 373.32,268.06 373.36,268.23 373.41,268.41 373.45,268.57 373.5,268.74 373.54,268.9 373.59,269.06 373.64,269.22 373.68,269.37 373.73,269.53 373.77,269.68 373.82,269.82 373.86,269.97 373.91,270.11 373.95,270.25 374,270.39 374.04,270.53 374.09,270.66 374.13,270.79 374.18,270.93 374.22,271.05 374.27,271.18 374.31,271.3 374.36,271.43 374.81,272.56 375.27,273.54 375.72,274.4 376.17,275.15 376.62,275.81 377.08,276.4 377.53,276.92 377.98,277.39 378.44,277.81 378.89,278.19 379.34,278.53 379.8,278.84 380.25,279.13 380.7,279.39 381.16,279.62 381.61,279.84 382.06,280.04 382.51,280.22 382.97,280.39 383.42,280.55 383.87,280.7 384.33,280.83 384.78,280.96 385.23,281.08 385.69,281.19 386.14,281.29 386.59,281.38 387.04,281.47 387.5,281.56 387.95,281.64 388.4,281.71 388.86,281.78 389.31,281.85 389.76,281.91 390.22,281.97 390.67,282.02 391.12,282.07 391.57,282.12 392.03,282.17 392.48,282.21 392.93,282.26 393.39,282.3 393.84,282.33 394.29,282.37 394.75,282.4 395.2,282.44 395.65,282.47 396.1,282.5 396.56,282.52 397.01,282.55 397.46,282.57 397.92,282.6 398.37,282.62 398.82,282.64 399.27,282.66 399.73,282.68 400.18,282.7 400.63,282.72 401.09,282.74 401.54,282.75 401.99,282.77 402.45,282.78 402.9,282.79 403.35,282.81 403.81,282.82 404.26,282.83 404.71,282.84 405.16,282.85 405.62,282.86 406.07,282.87 406.52,282.88 406.98,282.89 407.43,282.89 407.88,282.9 408.34,282.91 408.79,282.91 409.24,282.92 409.69,282.92 410.15,282.92 410.6,282.93 411.05,282.93 411.51,282.93 411.96,282.93 412.41,282.93 412.87,282.93 413.32,282.93 413.77,282.93 414.22,282.93 414.68,282.93 415.13,282.93 415.58,282.92 416.04,282.92 416.49,282.91 416.94,282.91 417.4,282.9 417.85,282.89 418.3,282.88 418.75,282.87 419.21,282.86 419.66,282.85 420.11,282.83 420.57,282.82 421.02,282.8 421.47,282.78 421.93,282.76 422.38,282.74 422.83,282.71 423.28,282.68 423.74,282.65 424.19,282.61 424.64,282.57 425.1,282.52 425.55,282.46 426,282.4 426.46,282.32 426.91,282.24 427.36,282.13 427.81,282 428.27,281.85 428.72,281.66 429.17,281.43 429.63,281.15 430.08,280.82 430.53,280.46 430.99,280.05 431.44,279.61 431.89,279.13 432.34,278.61 432.8,278.06 433.25,277.5 433.7,276.95 434.16,276.42 434.61,275.91 435.06,275.4 435.51,274.89 435.97,274.37 436.42,273.89 436.87,273.47 437.33,273.12 437.78,272.85 438.23,272.63 438.69,272.45 439.14,272.31 439.59,272.2 440.05,272.1 440.5,272.02 440.95,271.95 441.4,271.89 441.86,271.84 442.31,271.79 442.76,271.74 443.22,271.71 443.67,271.68 444.12,271.65 444.57,271.63 445.03,271.61 445.48,271.59 445.93,271.57 446.39,271.55 446.84,271.53 447.29,271.51 447.75,271.49 448.2,271.47 448.65,271.45 449.11,271.44 449.56,271.43 450.01,271.42 450.46,271.41 450.92,271.4 451.37,271.39 451.82,271.38 452.28,271.37 452.73,271.36 453.18,271.35 453.63,271.33 454.09,271.32 454.54,271.31 454.99,271.3 455.45,271.29 455.9,271.28 456.35,271.27 456.81,271.26 457.26,271.24 457.71,271.23 458.17,271.21 458.62,271.2 459.07,271.18 459.52,271.16 459.98,271.14 460.43,271.12 460.88,271.1 461.34,271.07 461.79,271.05 462.24,271.02 462.69,270.99 463.15,270.96 463.6,270.92 464.05,270.88 464.51,270.84 464.96,270.79 465.41,270.74 465.87,270.67 466.32,270.61 466.77,270.53 467.23,270.45 467.68,270.35 468.13,270.24 468.58,270.12 469.04,269.97 469.49,269.8 469.94,269.6 470.4,269.36 470.85,269.07 471.3,268.73 471.75,268.3 472.21,267.76 472.66,267.08 473.11,266.21 473.57,265.07 474.02,263.6 474.47,261.73 474.93,259.48 475.38,256.98 475.83,254.44 476.29,252.1 476.74,250.27 477.19,249.44 477.64,249.81 478.1,250.96 478.55,252.25 479,253.29 479.46,253.97 479.91,254.35 480.36,254.54 480.81,254.65 481.27,254.73 481.72,254.84 482.17,254.99 482.63,255.2 483.08,255.51 483.53,255.94 483.99,256.51 484.44,257.2 484.89,257.97 485.35,258.7 485.8,259.35 486.25,259.87 486.7,260.29 487.16,260.62 487.61,260.9 488.06,261.13 488.52,261.34 488.97,261.52 489.42,261.69 489.88,261.85 490.33,262 490.78,262.16 491.23,262.32 491.69,262.5 492.14,262.68 492.59,262.89 493.05,263.14 493.5,263.42 493.95,263.75 494.4,264.13 494.86,264.54 495.31,264.93 495.76,265.28 496.22,265.58 496.67,265.83 497.12,266.06 497.58,266.26 498.03,266.46 498.48,266.65 498.94,266.84 499.39,267.04 499.84,267.25 500.29,267.45 500.75,267.63 501.2,267.79 501.65,267.93 502.11,268.04 502.56,268.14 503.01,268.22 503.47,268.3 503.92,268.36 504.37,268.42 504.82,268.48 505.28,268.53 505.73,268.57 506.18,268.62 506.64,268.66 507.09,268.7 507.54,268.74 508,268.78 508.45,268.82 508.9,268.85 509.35,268.88 509.81,268.91 510.26,268.93 510.71,268.96 511.17,268.99 511.62,269.02 512.07,269.05 512.53,269.08 512.98,269.1 513.43,269.13 513.88,269.15 514.34,269.17 514.79,269.2 515.24,269.23 515.7,269.25 516.15,269.27 516.6,269.29 517.06,269.32 517.51,269.34 517.96,269.36 518.41,269.38 518.87,269.4 519.32,269.42 519.77,269.44 520.23,269.46 520.68,269.48 521.13,269.5 521.59,269.52 522.04,269.54 522.49,269.56 522.94,269.58 523.4,269.59 523.85,269.61 524.3,269.63 524.76,269.65 525.21,269.67 525.66,269.68 526.12,269.7 526.57,269.72 527.02,269.73 527.47,269.75 527.93,269.77 528.38,269.78 528.83,269.8 529.29,269.81 529.74,269.83 530.19,269.85 530.64,269.86 531.1,269.88 531.55,269.89 532,269.91 532.46,269.92 532.91,269.94 533.36,269.95 533.82,269.97 534.27,269.98 534.72,269.99 535.17,270.01 535.63,270.02 536.08,270.04 536.53,270.05 536.99,270.06 537.44,270.08 537.89,270.09 538.35,270.1 538.8,270.12 539.25,270.13 539.71,270.14 540.16,270.16 540.61,270.17 541.06,270.18 541.52,270.19 541.97,270.2 542.42,270.22 542.88,270.23 543.33,270.23 543.78,270.24 544.24,270.26 544.69,270.27 545.14,270.28 545.59,270.29 546.05,270.3 546.5,270.31 546.95,270.32 547.41,270.33 547.86,270.34 548.31,270.35 548.76,270.36 549.22,270.37 549.67,270.38 550.12,270.39 550.58,270.4 551.03,270.41 551.48,270.42 551.94,270.42 552.39,270.43 552.84,270.43 553.3,270.44 553.75,270.44 554.2,270.44 554.65,270.44 555.11,270.45 555.56,270.44 556.01,270.44 556.47,270.43 556.92,270.42 557.37,270.4 557.83,270.38 558.28,270.35 558.73,270.31 559.18,270.27 559.64,270.23 560.09,270.17 560.54,270.12 561,270.07 561.45,270.03 561.9,270 562.36,269.97 562.81,269.95 563.26,269.93 563.71,269.91 564.17,269.89 564.62,269.87 565.07,269.85 565.53,269.81 565.98,269.78 566.43,269.74 566.88,269.7 567.34,269.67 567.79,269.64 568.24,269.63 568.7,269.61 569.15,269.61 569.6,269.6 570.06,269.6 570.51,269.59 570.96,269.59 571.41,269.58 571.87,269.58 572.32,269.57 572.77,269.57 573.23,269.55 573.68,269.53 574.13,269.5 574.59,269.47 575.04,269.43 575.49,269.39 575.95,269.36 576.4,269.34 576.85,269.32 577.3,269.31 577.76,269.3 578.21,269.28 578.66,269.27 579.12,269.26 579.57,269.25 580.02,269.23 580.48,269.23 580.93,269.22 581.38,269.22 581.83,269.23 582.29,269.23 582.74,269.24 583.19,269.24 583.65,269.25 584.1,269.26 584.55,269.27 585,269.28 585.46,269.29 585.91,269.3 586.36,269.31 586.82,269.32 587.27,269.33 587.72,269.34 588.18,269.35 588.63,269.37 589.08,269.38 589.53,269.39 589.99,269.41 590.44,269.41 590.89,269.43 591.35,269.44 591.8,269.45 592.25,269.47 592.71,269.48 593.16,269.49 593.61,269.51 594.07,269.52 594.52,269.53 594.97,269.54 595.42,269.56 595.88,269.57 596.33,269.58 596.78,269.59 597.24,269.6 597.69,269.61 598.14,269.63 598.6,269.64 599.05,269.65 599.5,269.66 599.95,269.67 600.41,269.68 600.86,269.69 601.31,269.71 601.77,269.72 602.22,269.73 602.67,269.74 603.12,269.75 603.58,269.76 604.03,269.77 604.48,269.79 604.94,269.8 605.39,269.81 605.84,269.82 606.3,269.83 606.75,269.84 607.2,269.85 607.65,269.86 608.11,269.87 608.56,269.89 609.01,269.9 609.47,269.91 609.92,269.92 610.37,269.93 610.83,269.94 611.28,269.95 611.73,269.96 612.18,269.97 612.64,269.98 613.09,270 613.54,270.01 614,270.02 614.45,270.02 614.9,270.03 615.36,270.04 615.81,270.04 616.26,270.05 616.72,270.06 617.17,270.07 617.62,270.08 618.07,270.09 618.53,270.09 618.98,270.1 619.43,270.11 619.89,270.11 620.34,270.12 620.79,270.12 621.25,270.13 621.7,270.13 622.15,270.14 622.6,270.14 623.06,270.13 623.51,270.13 623.96,270.12 624.42,270.12 624.87,270.12 625.32,270.12 625.77,270.12 626.23,270.12 626.68,270.12 627.13,270.11 627.59,270.11 628.04,270.1 628.49,270.09 628.95,270.08 629.4,270.08 629.85,270.07 630.31,270.07 630.76,270.07 631.21,270.07 631.66,270.06 632.12,270.06 632.57,270.06 633.02,270.05 633.48,270.05 633.93,270.04 634.38,270.04 634.84,270.03 635.29,270.03 635.74,270.02 636.19,270.02 636.65,270.02 637.1,270.01"/>
<polyline points="365.3,-48.03 365.35,-48.03 365.39,-48.03 365.44,-48.03 365.48,-48.03 365.53,-48.03 365.57,-48.03 365.62,-48.03 365.66,-48.03 365.71,-48.03 365.75,-48.03 365.8,-48.03 365.84,-48.03 365.89,-48.03 365.93,-48.03 365.98,-48.03 366.02,-48.03 366.07,-48.03 366.12,-48.03 366.16,-48.03 366.21,-48.03 366.25,-48.03 366.3,-48.03 366.34,-48.03 366.39,-48.03 366.43,-48.03 366.48,-48.03 366.52,-48.03 366.57,-48.03 366.61,-48.03 366.66,-47.61 366.7,-29.94 366.75,-13.69 366.79,1.26 366.84,15.06 366.89,27.81 366.93,39.61 366.98,50.55 367.02,60.72 367.07,70.18 367.11,79 367.16,87.22 367.2,94.91 367.25,102.11 367.29,108.85 367.34,115.17 367.38,121.11 367.43,126.7 367.47,131.96 367.52,136.93 367.56,141.61 367.61,146.03 367.66,150.21 367.7,154.17 367.75,157.92 367.79,161.47 367.84,164.85 367.88,168.05 367.93,171.1 367.97,174 368.02,176.76 368.06,179.4 368.11,181.91 368.15,184.3 368.2,186.59 368.24,188.77 368.29,190.86 368.34,192.86 368.38,194.78 368.43,196.61 368.47,198.37 368.52,200.06 368.56,201.67 368.61,203.23 368.65,204.72 368.7,206.16 368.74,207.54 368.79,208.86 368.83,210.14 368.88,211.37 368.92,212.56 368.97,213.7 369.01,214.8 369.06,215.87 369.11,216.89 369.15,217.89 369.2,218.84 369.24,219.77 369.29,220.66 369.33,221.53 369.38,222.36 369.42,223.17 369.47,223.96 369.51,224.72 369.56,225.45 369.6,226.16 369.65,226.85 369.69,227.52 369.74,228.17 369.78,228.8 369.83,229.42 369.88,230.01 369.92,230.59 369.97,231.15 370.01,231.69 370.06,232.22 370.1,232.73 370.15,233.23 370.19,233.72 370.24,234.19 370.28,234.65 370.33,235.1 370.37,235.54 370.42,235.96 370.46,236.38 370.51,236.78 370.55,237.17 370.6,237.56 370.65,237.93 370.69,238.29 370.74,238.65 370.78,238.99 370.83,239.33 370.87,239.66 370.92,239.98 370.96,240.3 371.01,240.61 371.05,240.91 371.1,241.2 371.14,241.48 371.19,241.76 371.23,242.04 371.28,242.3 371.32,242.56 371.37,242.82 371.42,243.07 371.46,243.31 371.51,243.55 371.55,243.79 371.6,244.02 371.64,244.24 371.69,244.46 371.73,244.67 371.78,244.88 371.82,245.09 371.87,245.29 371.91,245.49 371.96,245.68 372,245.87 372.05,246.06 372.1,246.24 372.14,246.42 372.19,246.59 372.23,246.76 372.28,246.93 372.32,247.1 372.37,247.26 372.41,247.42 372.46,247.57 372.5,247.73 372.55,247.88 372.59,248.02 372.64,248.17 372.68,248.31 372.73,248.45 372.77,248.59 372.82,248.72 372.87,248.85 372.91,248.98 372.96,249.11 373,249.24 373.05,249.36 373.09,249.48 373.14,249.6 373.18,249.71 373.23,249.83 373.27,249.94 373.32,250.05 373.36,250.16 373.41,250.27 373.45,250.37 373.5,250.48 373.54,250.58 373.59,250.68 373.64,250.78 373.68,250.88 373.73,250.97 373.77,251.07 373.82,251.16 373.86,251.25 373.91,251.34 373.95,251.43 374,251.51 374.04,251.6 374.09,251.68 374.13,251.77 374.18,251.85 374.22,251.93 374.27,252.01 374.31,252.08 374.36,252.16 374.81,252.87 375.27,253.48 375.72,254.02 376.17,254.48 376.62,254.9 377.08,255.26 377.53,255.59 377.98,255.88 378.44,256.14 378.89,256.37 379.34,256.59 379.8,256.78 380.25,256.95 380.7,257.11 381.16,257.25 381.61,257.38 382.06,257.5 382.51,257.61 382.97,257.72 383.42,257.81 383.87,257.89 384.33,257.97 384.78,258.04 385.23,258.11 385.69,258.17 386.14,258.23 386.59,258.28 387.04,258.33 387.5,258.37 387.95,258.41 388.4,258.45 388.86,258.48 389.31,258.51 389.76,258.54 390.22,258.56 390.67,258.58 391.12,258.6 391.57,258.61 392.03,258.62 392.48,258.63 392.93,258.64 393.39,258.64 393.84,258.64 394.29,258.64 394.75,258.63 395.2,258.62 395.65,258.6 396.1,258.58 396.56,258.56 397.01,258.52 397.46,258.48 397.92,258.43 398.37,258.37 398.82,258.3 399.27,258.21 399.73,258.09 400.18,257.95 400.63,257.77 401.09,257.55 401.54,257.28 401.99,256.96 402.45,256.59 402.9,256.17 403.35,255.71 403.81,255.21 404.26,254.68 404.71,254.14 405.16,253.61 405.62,253.13 406.07,252.72 406.52,252.37 406.98,252.06 407.43,251.78 407.88,251.51 408.34,251.23 408.79,250.92 409.24,250.58 409.69,250.18 410.15,249.76 410.6,249.36 411.05,249 411.51,248.71 411.96,248.47 412.41,248.29 412.87,248.15 413.32,248.03 413.77,247.94 414.22,247.86 414.68,247.8 415.13,247.75 415.58,247.7 416.04,247.67 416.49,247.63 416.94,247.6 417.4,247.58 417.85,247.56 418.3,247.54 418.75,247.52 419.21,247.51 419.66,247.5 420.11,247.49 420.57,247.48 421.02,247.47 421.47,247.47 421.93,247.46 422.38,247.45 422.83,247.45 423.28,247.44 423.74,247.44 424.19,247.43 424.64,247.43 425.1,247.43 425.55,247.43 426,247.43 426.46,247.43 426.91,247.43 427.36,247.43 427.81,247.42 428.27,247.42 428.72,247.42 429.17,247.41 429.63,247.4 430.08,247.39 430.53,247.38 430.99,247.38 431.44,247.39 431.89,247.4 432.34,247.41 432.8,247.42 433.25,247.43 433.7,247.44 434.16,247.45 434.61,247.46 435.06,247.46 435.51,247.47 435.97,247.48 436.42,247.48 436.87,247.49 437.33,247.49 437.78,247.49 438.23,247.49 438.69,247.49 439.14,247.5 439.59,247.5 440.05,247.51 440.5,247.51 440.95,247.51 441.4,247.51 441.86,247.52 442.31,247.52 442.76,247.52 443.22,247.52 443.67,247.52 444.12,247.53 444.57,247.53 445.03,247.54 445.48,247.55 445.93,247.55 446.39,247.55 446.84,247.55 447.29,247.55 447.75,247.54 448.2,247.54 448.65,247.54 449.11,247.54 449.56,247.54 450.01,247.55 450.46,247.55 450.92,247.55 451.37,247.55 451.82,247.55 452.28,247.55 452.73,247.55 453.18,247.55 453.63,247.54 454.09,247.54 454.54,247.54 454.99,247.54 455.45,247.54 455.9,247.54 456.35,247.53 456.81,247.53 457.26,247.52 457.71,247.52 458.17,247.51 458.62,247.5 459.07,247.5 459.52,247.49 459.98,247.48 460.43,247.47 460.88,247.45 461.34,247.44 461.79,247.43 462.24,247.41 462.69,247.39 463.15,247.37 463.6,247.35 464.05,247.33 464.51,247.3 464.96,247.27 465.41,247.24 465.87,247.2 466.32,247.16 466.77,247.12 467.23,247.06 467.68,247 468.13,246.94 468.58,246.86 469.04,246.77 469.49,246.66 469.94,246.53 470.4,246.39 470.85,246.22 471.3,246.01 471.75,245.75 472.21,245.43 472.66,245.03 473.11,244.52 473.57,243.87 474.02,243.01 474.47,241.9 474.93,240.49 475.38,238.77 475.83,236.88 476.29,235.06 476.74,233.66 477.19,232.99 477.64,233.01 478.1,233.37 478.55,233.74 479,233.98 479.46,234.08 479.91,234.13 480.36,234.2 480.81,234.39 481.27,234.74 481.72,235.22 482.17,235.79 482.63,236.33 483.08,236.79 483.53,237.16 483.99,237.45 484.44,237.69 484.89,237.88 485.35,238.05 485.8,238.21 486.25,238.36 486.7,238.52 487.16,238.7 487.61,238.9 488.06,239.13 488.52,239.41 488.97,239.74 489.42,240.13 489.88,240.55 490.33,240.97 490.78,241.34 491.23,241.66 491.69,241.94 492.14,242.18 492.59,242.4 493.05,242.6 493.5,242.81 493.95,243.03 494.4,243.24 494.86,243.45 495.31,243.63 495.76,243.78 496.22,243.91 496.67,244.01 497.12,244.11 497.58,244.2 498.03,244.29 498.48,244.37 498.94,244.44 499.39,244.5 499.84,244.56 500.29,244.62 500.75,244.66 501.2,244.71 501.65,244.75 502.11,244.79 502.56,244.83 503.01,244.87 503.47,244.9 503.92,244.93 504.37,244.97 504.82,245 505.28,245.03 505.73,245.06 506.18,245.09 506.64,245.11 507.09,245.14 507.54,245.17 508,245.2 508.45,245.23 508.9,245.26 509.35,245.28 509.81,245.3 510.26,245.32 510.71,245.34 511.17,245.36 511.62,245.39 512.07,245.41 512.53,245.44 512.98,245.46 513.43,245.48 513.88,245.5 514.34,245.52 514.79,245.54 515.24,245.56 515.7,245.58 516.15,245.6 516.6,245.62 517.06,245.64 517.51,245.66 517.96,245.68 518.41,245.7 518.87,245.72 519.32,245.73 519.77,245.75 520.23,245.76 520.68,245.78 521.13,245.79 521.59,245.81 522.04,245.83 522.49,245.84 522.94,245.86 523.4,245.88 523.85,245.89 524.3,245.91 524.76,245.92 525.21,245.93 525.66,245.94 526.12,245.96 526.57,245.97 527.02,245.98 527.47,245.99 527.93,246 528.38,246.01 528.83,246.02 529.29,246.03 529.74,246.04 530.19,246.05 530.64,246.05 531.1,246.06 531.55,246.06 532,246.06 532.46,246.05 532.91,246.04 533.36,246.03 533.82,246.01 534.27,245.98 534.72,245.94 535.17,245.89 535.63,245.83 536.08,245.75 536.53,245.67 536.99,245.6 537.44,245.53 537.89,245.47 538.35,245.42 538.8,245.36 539.25,245.31 539.71,245.26 540.16,245.2 540.61,245.13 541.06,245.08 541.52,245.03 541.97,244.99 542.42,244.96 542.88,244.94 543.33,244.92 543.78,244.9 544.24,244.88 544.69,244.86 545.14,244.84 545.59,244.81 546.05,244.77 546.5,244.72 546.95,244.67 547.41,244.62 547.86,244.58 548.31,244.54 548.76,244.51 549.22,244.49 549.67,244.47 550.12,244.45 550.58,244.42 551.03,244.4 551.48,244.39 551.94,244.38 552.39,244.37 552.84,244.37 553.3,244.37 553.75,244.38 554.2,244.39 554.65,244.4 555.11,244.41 555.56,244.43 556.01,244.44 556.47,244.46 556.92,244.47 557.37,244.49 557.83,244.51 558.28,244.52 558.73,244.54 559.18,244.56 559.64,244.58 560.09,244.6 560.54,244.61 561,244.63 561.45,244.65 561.9,244.67 562.36,244.68 562.81,244.7 563.26,244.72 563.71,244.74 564.17,244.75 564.62,244.77 565.07,244.79 565.53,244.81 565.98,244.82 566.43,244.84 566.88,244.86 567.34,244.88 567.79,244.9 568.24,244.92 568.7,244.93 569.15,244.95 569.6,244.97 570.06,244.99 570.51,245 570.96,245.02 571.41,245.04 571.87,245.05 572.32,245.07 572.77,245.09 573.23,245.11 573.68,245.13 574.13,245.14 574.59,245.16 575.04,245.17 575.49,245.19 575.95,245.2 576.4,245.22 576.85,245.23 577.3,245.25 577.76,245.26 578.21,245.28 578.66,245.3 579.12,245.31 579.57,245.33 580.02,245.35 580.48,245.36 580.93,245.38 581.38,245.4 581.83,245.41 582.29,245.43 582.74,245.44 583.19,245.46 583.65,245.47 584.1,245.49 584.55,245.5 585,245.51 585.46,245.52 585.91,245.54 586.36,245.55 586.82,245.57 587.27,245.58 587.72,245.6 588.18,245.61 588.63,245.62 589.08,245.64 589.53,245.65 589.99,245.67 590.44,245.68 590.89,245.69 591.35,245.71 591.8,245.72 592.25,245.74 592.71,245.75 593.16,245.77 593.61,245.78 594.07,245.79 594.52,245.8 594.97,245.82 595.42,245.83 595.88,245.84 596.33,245.86 596.78,245.87 597.24,245.88 597.69,245.89 598.14,245.91 598.6,245.92 599.05,245.93 599.5,245.95 599.95,245.95 600.41,245.97 600.86,245.98 601.31,245.99 601.77,246 602.22,246.01 602.67,246.03 603.12,246.04 603.58,246.05 604.03,246.06 604.48,246.07 604.94,246.08 605.39,246.1 605.84,246.11 606.3,246.12 606.75,246.13 607.2,246.14 607.65,246.15 608.11,246.16 608.56,246.18 609.01,246.19 609.47,246.2 609.92,246.21 610.37,246.22 610.83,246.23 611.28,246.24 611.73,246.25 612.18,246.26 612.64,246.28 613.09,246.29 613.54,246.3 614,246.31 614.45,246.32 614.9,246.32 615.36,246.33 615.81,246.34 616.26,246.35 616.72,246.36 617.17,246.37 617.62,246.37 618.07,246.38 618.53,246.39 618.98,246.39 619.43,246.4 619.89,246.4 620.34,246.41 620.79,246.42 621.25,246.43 621.7,246.43 622.15,246.43 622.6,246.43 623.06,246.43 623.51,246.42 623.96,246.42 624.42,246.42 624.87,246.41 625.32,246.41 625.77,246.41 626.23,246.41 626.68,246.41 627.13,246.41 627.59,246.4 628.04,246.39 628.49,246.39 628.95,246.38 629.4,246.37 629.85,246.37 630.31,246.37 630.76,246.37 631.21,246.36 631.66,246.36 632.12,246.36 632.57,246.35 633.02,246.35 633.48,246.35 633.93,246.34 634.38,246.34 634.84,246.33 635.29,246.33 635.74,246.32 636.19,246.32 636.65,246.31 637.1,246.31"/>
<polyline points="365.3,22.77 365.35,24.73 365.39,30.57 365.44,39.65 365.48,51.07 365.53,63.88 365.57,77.24 365.62,90.48 365.66,103.14 365.71,114.94 365.75,125.74 365.8,135.51 365.84,144.25 365.89,152.04 365.93,158.96 365.98,165.09 366.02,170.52 366.07,175.33 366.12,179.59 366.16,183.37 366.21,186.73 366.25,189.72 366.3,192.38 366.34,194.75 366.39,196.87 366.43,198.77 366.48,200.47 366.52,201.99 366.57,203.36 366.61,204.59 366.66,205.69 366.7,206.68 366.75,207.58 366.79,208.38 366.84,209.1 366.89,209.75 366.93,210.33 366.98,210.86 367.02,211.33 367.07,211.75 367.11,212.13 367.16,212.47 367.2,212.78 367.25,213.05 367.29,213.3 367.34,213.51 367.38,213.71 367.43,213.89 367.47,214.05 367.52,214.19 367.56,214.32 367.61,214.44 367.66,214.55 367.7,214.65 367.75,214.75 367.79,214.84 367.84,214.92 367.88,215.01 367.93,215.09 367.97,215.16 368.02,215.24 368.06,215.32 368.11,215.4 368.15,215.48 368.2,215.56 368.24,215.64 368.29,215.73 368.34,215.82 368.38,215.91 368.43,216 368.47,216.09 368.52,216.19 368.56,216.29 368.61,216.39 368.65,216.49 368.7,216.59 368.74,216.7 368.79,216.81 368.83,216.92 368.88,217.03 368.92,217.14 368.97,217.25 369.01,217.37 369.06,217.48 369.11,217.59 369.15,217.71 369.2,217.82 369.24,217.94 369.29,218.05 369.33,218.17 369.38,218.28 369.42,218.4 369.47,218.51 369.51,218.62 369.56,218.74 369.6,218.85 369.65,218.96 369.69,219.07 369.74,219.18 369.78,219.28 369.83,219.39 369.88,219.49 369.92,219.6 369.97,219.7 370.01,219.8 370.06,219.9 370.1,219.99 370.15,220.09 370.19,220.18 370.24,220.28 370.28,220.37 370.33,220.46 370.37,220.55 370.42,220.63 370.46,220.72 370.51,220.8 370.55,220.88 370.6,220.96 370.65,221.04 370.69,221.12 370.74,221.2 370.78,221.27 370.83,221.34 370.87,221.41 370.92,221.48 370.96,221.55 371.01,221.62 371.05,221.69 371.1,221.75 371.14,221.81 371.19,221.87 371.23,221.93 371.28,221.99 371.32,222.05 371.37,222.1 371.42,222.16 371.46,222.21 371.51,222.26 371.55,222.31 371.6,222.36 371.64,222.41 371.69,222.45 371.73,222.5 371.78,222.54 371.82,222.58 371.87,222.62 371.91,222.66 371.96,222.7 372,222.74 372.05,222.77 372.1,222.81 372.14,222.84 372.19,222.87 372.23,222.9 372.28,222.93 372.32,222.96 372.37,222.99 372.41,223.01 372.46,223.04 372.5,223.06 372.55,223.08 372.59,223.1 372.64,223.12 372.68,223.14 372.73,223.16 372.77,223.17 372.82,223.19 372.87,223.2 372.91,223.21 372.96,223.22 373,223.23 373.05,223.24 373.09,223.24 373.14,223.25 373.18,223.25 373.23,223.26 373.27,223.26 373.32,223.26 373.36,223.26 373.41,223.26 373.45,223.25 373.5,223.25 373.54,223.24 373.59,223.23 373.64,223.23 373.68,223.22 373.73,223.21 373.77,223.19 373.82,223.18 373.86,223.17 373.91,223.15 373.95,223.14 374,223.12 374.04,223.1 374.09,223.08 374.13,223.06 374.18,223.04 374.22,223.02 374.27,223 374.31,222.98 374.36,222.95 374.81,222.71 375.27,222.49 375.72,222.31 376.17,222.19 376.62,222.13 377.08,222.1 377.53,222.1 377.98,222.11 378.44,222.13 378.89,222.16 379.34,222.19 379.8,222.23 380.25,222.26 380.7,222.3 381.16,222.33 381.61,222.36 382.06,222.4 382.51,222.43 382.97,222.46 383.42,222.49 383.87,222.51 384.33,222.53 384.78,222.56 385.23,222.59 385.69,222.62 386.14,222.65 386.59,222.66 387.04,222.68 387.5,222.7 387.95,222.73 388.4,222.77 388.86,222.8 389.31,222.83 389.76,222.85 390.22,222.85 390.67,222.85 391.12,222.86 391.57,222.87 392.03,222.88 392.48,222.9 392.93,222.93 393.39,222.95 393.84,222.98 394.29,222.99 394.75,223.01 395.2,223.02 395.65,223.03 396.1,223.04 396.56,223.04 397.01,223.05 397.46,223.05 397.92,223.05 398.37,223.06 398.82,223.08 399.27,223.1 399.73,223.12 400.18,223.14 400.63,223.16 401.09,223.18 401.54,223.19 401.99,223.21 402.45,223.22 402.9,223.23 403.35,223.24 403.81,223.25 404.26,223.26 404.71,223.27 405.16,223.28 405.62,223.28 406.07,223.29 406.52,223.29 406.98,223.29 407.43,223.29 407.88,223.28 408.34,223.28 408.79,223.28 409.24,223.29 409.69,223.3 410.15,223.32 410.6,223.34 411.05,223.36 411.51,223.38 411.96,223.39 412.41,223.41 412.87,223.42 413.32,223.43 413.77,223.44 414.22,223.45 414.68,223.46 415.13,223.47 415.58,223.48 416.04,223.49 416.49,223.49 416.94,223.5 417.4,223.51 417.85,223.52 418.3,223.53 418.75,223.53 419.21,223.54 419.66,223.55 420.11,223.55 420.57,223.56 421.02,223.57 421.47,223.58 421.93,223.58 422.38,223.59 422.83,223.59 423.28,223.6 423.74,223.6 424.19,223.61 424.64,223.62 425.1,223.62 425.55,223.63 426,223.64 426.46,223.65 426.91,223.65 427.36,223.65 427.81,223.66 428.27,223.66 428.72,223.66 429.17,223.66 429.63,223.65 430.08,223.65 430.53,223.64 430.99,223.65 431.44,223.66 431.89,223.67 432.34,223.69 432.8,223.7 433.25,223.72 433.7,223.73 434.16,223.74 434.61,223.75 435.06,223.76 435.51,223.77 435.97,223.78 436.42,223.79 436.87,223.79 437.33,223.8 437.78,223.8 438.23,223.81 438.69,223.81 439.14,223.82 439.59,223.82 440.05,223.83 440.5,223.84 440.95,223.84 441.4,223.85 441.86,223.85 442.31,223.85 442.76,223.86 443.22,223.86 443.67,223.87 444.12,223.88 444.57,223.89 445.03,223.9 445.48,223.9 445.93,223.91 446.39,223.91 446.84,223.92 447.29,223.92 447.75,223.92 448.2,223.92 448.65,223.92 449.11,223.92 449.56,223.93 450.01,223.94 450.46,223.94 450.92,223.95 451.37,223.95 451.82,223.96 452.28,223.96 452.73,223.97 453.18,223.97 453.63,223.97 454.09,223.97 454.54,223.98 454.99,223.98 455.45,223.99 455.9,223.99 456.35,223.99 456.81,224 457.26,224 457.71,224 458.17,224 458.62,224.01 459.07,224.01 459.52,224.01 459.98,224.01 460.43,224.02 460.88,224.02 461.34,224.02 461.79,224.02 462.24,224.02 462.69,224.02 463.15,224.02 463.6,224.02 464.05,224.02 464.51,224.03 464.96,224.03 465.41,224.03 465.87,224.02 466.32,224.02 466.77,224.02 467.23,224.02 467.68,224.02 468.13,224.01 468.58,224.01 469.04,224 469.49,224 469.94,223.99 470.4,223.99 470.85,223.98 471.3,223.97 471.75,223.96 472.21,223.94 472.66,223.93 473.11,223.91 473.57,223.88 474.02,223.86 474.47,223.82 474.93,223.79 475.38,223.74 475.83,223.69 476.29,223.63 476.74,223.55 477.19,223.46 477.64,223.33 478.1,223.16 478.55,222.94 479,222.67 479.46,222.33 479.91,221.96 480.36,221.58 480.81,221.25 481.27,220.98 481.72,220.79 482.17,220.65 482.63,220.56 483.08,220.5 483.53,220.47 483.99,220.45 484.44,220.44 484.89,220.45 485.35,220.45 485.8,220.47 486.25,220.49 486.7,220.51 487.16,220.53 487.61,220.55 488.06,220.57 488.52,220.59 488.97,220.61 489.42,220.64 489.88,220.66 490.33,220.68 490.78,220.7 491.23,220.72 491.69,220.74 492.14,220.77 492.59,220.79 493.05,220.81 493.5,220.82 493.95,220.84 494.4,220.85 494.86,220.87 495.31,220.87 495.76,220.88 496.22,220.89 496.67,220.89 497.12,220.91 497.58,220.93 498.03,220.96 498.48,220.98 498.94,221.01 499.39,221.03 499.84,221.05 500.29,221.06 500.75,221.07 501.2,221.08 501.65,221.08 502.11,221.09 502.56,221.08 503.01,221.08 503.47,221.07 503.92,221.05 504.37,221.02 504.82,220.98 505.28,220.93 505.73,220.87 506.18,220.78 506.64,220.67 507.09,220.56 507.54,220.43 508,220.27 508.45,220.06 508.9,219.77 509.35,219.42 509.81,219.04 510.26,218.69 510.71,218.4 511.17,218.19 511.62,218.07 512.07,218 512.53,217.97 512.98,217.96 513.43,217.96 513.88,217.98 514.34,218 514.79,218.03 515.24,218.06 515.7,218.09 516.15,218.12 516.6,218.15 517.06,218.19 517.51,218.22 517.96,218.25 518.41,218.29 518.87,218.32 519.32,218.35 519.77,218.38 520.23,218.42 520.68,218.45 521.13,218.48 521.59,218.52 522.04,218.55 522.49,218.59 522.94,218.62 523.4,218.65 523.85,218.69 524.3,218.72 524.76,218.75 525.21,218.79 525.66,218.82 526.12,218.85 526.57,218.88 527.02,218.92 527.47,218.95 527.93,218.98 528.38,219.01 528.83,219.04 529.29,219.08 529.74,219.11 530.19,219.14 530.64,219.18 531.1,219.21 531.55,219.24 532,219.27 532.46,219.29 532.91,219.32 533.36,219.35 533.82,219.38 534.27,219.41 534.72,219.44 535.17,219.47 535.63,219.5 536.08,219.53 536.53,219.56 536.99,219.59 537.44,219.62 537.89,219.64 538.35,219.67 538.8,219.7 539.25,219.73 539.71,219.76 540.16,219.78 540.61,219.81 541.06,219.84 541.52,219.87 541.97,219.89 542.42,219.92 542.88,219.94 543.33,219.97 543.78,219.99 544.24,220.02 544.69,220.04 545.14,220.07 545.59,220.1 546.05,220.12 546.5,220.15 546.95,220.17 547.41,220.2 547.86,220.22 548.31,220.25 548.76,220.27 549.22,220.3 549.67,220.32 550.12,220.35 550.58,220.37 551.03,220.39 551.48,220.42 551.94,220.44 552.39,220.46 552.84,220.48 553.3,220.51 553.75,220.53 554.2,220.55 554.65,220.57 555.11,220.6 555.56,220.62 556.01,220.64 556.47,220.66 556.92,220.68 557.37,220.71 557.83,220.73 558.28,220.75 558.73,220.77 559.18,220.79 559.64,220.82 560.09,220.84 560.54,220.86 561,220.87 561.45,220.89 561.9,220.91 562.36,220.93 562.81,220.95 563.26,220.97 563.71,220.99 564.17,221.01 564.62,221.03 565.07,221.05 565.53,221.07 565.98,221.09 566.43,221.11 566.88,221.13 567.34,221.15 567.79,221.17 568.24,221.19 568.7,221.21 569.15,221.23 569.6,221.25 570.06,221.26 570.51,221.28 570.96,221.3 571.41,221.31 571.87,221.33 572.32,221.35 572.77,221.37 573.23,221.39 573.68,221.41 574.13,221.42 574.59,221.44 575.04,221.45 575.49,221.47 575.95,221.49 576.4,221.5 576.85,221.52 577.3,221.53 577.76,221.55 578.21,221.57 578.66,221.58 579.12,221.6 579.57,221.62 580.02,221.63 580.48,221.65 580.93,221.67 581.38,221.68 581.83,221.7 582.29,221.72 582.74,221.73 583.19,221.75 583.65,221.76 584.1,221.78 584.55,221.79 585,221.8 585.46,221.82 585.91,221.83 586.36,221.85 586.82,221.86 587.27,221.88 587.72,221.89 588.18,221.9 588.63,221.92 589.08,221.93 589.53,221.95 589.99,221.96 590.44,221.97 590.89,221.99 591.35,222 591.8,222.02 592.25,222.03 592.71,222.05 593.16,222.06 593.61,222.07 594.07,222.08 594.52,222.1 594.97,222.11 595.42,222.13 595.88,222.14 596.33,222.15 596.78,222.16 597.24,222.18 597.69,222.19 598.14,222.2 598.6,222.22 599.05,222.23 599.5,222.24 599.95,222.25 600.41,222.26 600.86,222.27 601.31,222.29 601.77,222.3 602.22,222.31 602.67,222.32 603.12,222.34 603.58,222.35 604.03,222.36 604.48,222.37 604.94,222.38 605.39,222.4 605.84,222.41 606.3,222.42 606.75,222.43 607.2,222.44 607.65,222.45 608.11,222.46 608.56,222.47 609.01,222.49 609.47,222.5 609.92,222.51 610.37,222.52 610.83,222.53 611.28,222.54 611.73,222.55 612.18,222.56 612.64,222.57 613.09,222.59 613.54,222.6 614,222.61 614.45,222.62 614.9,222.62 615.36,222.63 615.81,222.64 616.26,222.65 616.72,222.66 617.17,222.67 617.62,222.67 618.07,222.68 618.53,222.69 618.98,222.69 619.43,222.7 619.89,222.7 620.34,222.71 620.79,222.72 621.25,222.73 621.7,222.73 622.15,222.73 622.6,222.73 623.06,222.73 623.51,222.72 623.96,222.72 624.42,222.72 624.87,222.71 625.32,222.71 625.77,222.71 626.23,222.71 626.68,222.71 627.13,222.71 627.59,222.7 628.04,222.7 628.49,222.69 628.95,222.68 629.4,222.67 629.85,222.67 630.31,222.67 630.76,222.67 631.21,222.66 631.66,222.66 632.12,222.66 632.57,222.65 633.02,222.65 633.48,222.65 633.93,222.64 634.38,222.64 634.84,222.63 635.29,222.63 635.74,222.62 636.19,222.62 636.65,222.61 637.1,222.61"/>
<polyline points="365.3,-48.03 365.35,-48.03 365.39,-48.03 365.44,-48.03 365.48,-48.03 365.53,-48.03 365.57,-48.03 365.62,-48.03 365.66,-48.03 365.71,-48.03 365.75,-48.03 365.8,-48.03 365.84,-48.03 365.89,-48.03 365.93,-48.03 365.98,-48.03 366.02,-48.03 366.07,-48.03 366.12,-48.03 366.16,-48.03 366.21,-48.03 366.25,-48.03 366.3,-48.03 366.34,-48.03 366.39,-48.03 366.43,-48.03 366.48,-48.03 366.52,-48.03 366.57,-48.03 366.61,-48.03 366.66,-48.03 366.7,-48.03 366.75,-48.03 366.79,-48.03 366.84,-48.03 366.89,-39.54 366.93,-26.73 366.98,-14.84 367.02,-3.8 367.07,6.47 367.11,16.04 367.16,24.97 367.2,33.32 367.25,41.13 367.29,48.45 367.34,55.32 367.38,61.77 367.43,67.84 367.47,73.55 367.52,78.94 367.56,84.02 367.61,88.82 367.66,93.36 367.7,97.66 367.75,101.73 367.79,105.59 367.84,109.26 367.88,112.74 367.93,116.05 367.97,119.2 368.02,122.2 368.06,125.05 368.11,127.78 368.15,130.38 368.2,132.86 368.24,135.23 368.29,137.5 368.34,139.68 368.38,141.75 368.43,143.75 368.47,145.65 368.52,147.49 368.56,149.24 368.61,150.93 368.65,152.55 368.7,154.11 368.74,155.61 368.79,157.05 368.83,158.44 368.88,159.77 368.92,161.06 368.97,162.3 369.01,163.5 369.06,164.65 369.11,165.77 369.15,166.84 369.2,167.88 369.24,168.89 369.29,169.86 369.33,170.8 369.38,171.71 369.42,172.59 369.47,173.44 369.51,174.26 369.56,175.06 369.6,175.83 369.65,176.58 369.69,177.31 369.74,178.01 369.78,178.7 369.83,179.36 369.88,180.01 369.92,180.63 369.97,181.24 370.01,181.83 370.06,182.41 370.1,182.96 370.15,183.51 370.19,184.04 370.24,184.55 370.28,185.05 370.33,185.54 370.37,186.01 370.42,186.47 370.46,186.92 370.51,187.36 370.55,187.78 370.6,188.2 370.65,188.61 370.69,189 370.74,189.39 370.78,189.76 370.83,190.13 370.87,190.49 370.92,190.84 370.96,191.18 371.01,191.51 371.05,191.84 371.1,192.15 371.14,192.47 371.19,192.77 371.23,193.07 371.28,193.36 371.32,193.64 371.37,193.92 371.42,194.19 371.46,194.45 371.51,194.71 371.55,194.97 371.6,195.21 371.64,195.46 371.69,195.69 371.73,195.93 371.78,196.16 371.82,196.38 371.87,196.6 371.91,196.81 371.96,197.02 372,197.23 372.05,197.43 372.1,197.63 372.14,197.82 372.19,198.01 372.23,198.2 372.28,198.38 372.32,198.56 372.37,198.73 372.41,198.91 372.46,199.08 372.5,199.24 372.55,199.41 372.59,199.56 372.64,199.72 372.68,199.88 372.73,200.03 372.77,200.18 372.82,200.32 372.87,200.46 372.91,200.61 372.96,200.74 373,200.88 373.05,201.01 373.09,201.14 373.14,201.27 373.18,201.4 373.23,201.52 373.27,201.65 373.32,201.77 373.36,201.88 373.41,202 373.45,202.11 373.5,202.23 373.54,202.34 373.59,202.45 373.64,202.55 373.68,202.66 373.73,202.76 373.77,202.86 373.82,202.96 373.86,203.06 373.91,203.16 373.95,203.26 374,203.35 374.04,203.44 374.09,203.53 374.13,203.62 374.18,203.71 374.22,203.8 374.27,203.88 374.31,203.97 374.36,204.05 374.81,204.82 375.27,205.48 375.72,206.06 376.17,206.57 376.62,207.02 377.08,207.42 377.53,207.77 377.98,208.08 378.44,208.36 378.89,208.62 379.34,208.84 379.8,209.05 380.25,209.24 380.7,209.41 381.16,209.56 381.61,209.7 382.06,209.83 382.51,209.95 382.97,210.05 383.42,210.15 383.87,210.24 384.33,210.32 384.78,210.4 385.23,210.47 385.69,210.53 386.14,210.59 386.59,210.64 387.04,210.68 387.5,210.73 387.95,210.76 388.4,210.8 388.86,210.82 389.31,210.85 389.76,210.87 390.22,210.88 390.67,210.9 391.12,210.9 391.57,210.91 392.03,210.9 392.48,210.89 392.93,210.88 393.39,210.86 393.84,210.83 394.29,210.8 394.75,210.75 395.2,210.69 395.65,210.62 396.1,210.52 396.56,210.41 397.01,210.26 397.46,210.08 397.92,209.85 398.37,209.57 398.82,209.24 399.27,208.87 399.73,208.49 400.18,208.12 400.63,207.78 401.09,207.48 401.54,207.19 401.99,206.92 402.45,206.63 402.9,206.33 403.35,205.98 403.81,205.59 404.26,205.14 404.71,204.64 405.16,204.11 405.62,203.59 406.07,203.08 406.52,202.62 406.98,202.2 407.43,201.82 407.88,201.51 408.34,201.24 408.79,201.02 409.24,200.85 409.69,200.71 410.15,200.61 410.6,200.52 411.05,200.46 411.51,200.4 411.96,200.35 412.41,200.3 412.87,200.27 413.32,200.23 413.77,200.21 414.22,200.18 414.68,200.16 415.13,200.14 415.58,200.13 416.04,200.11 416.49,200.1 416.94,200.09 417.4,200.08 417.85,200.07 418.3,200.06 418.75,200.05 419.21,200.05 419.66,200.04 420.11,200.04 420.57,200.04 421.02,200.04 421.47,200.03 421.93,200.03 422.38,200.03 422.83,200.03 423.28,200.03 423.74,200.03 424.19,200.03 424.64,200.03 425.1,200.03 425.55,200.03 426,200.03 426.46,200.04 426.91,200.04 427.36,200.04 427.81,200.04 428.27,200.03 428.72,200.03 429.17,200.03 429.63,200.02 430.08,200.01 430.53,200.01 430.99,200.01 431.44,200.02 431.89,200.03 432.34,200.04 432.8,200.05 433.25,200.06 433.7,200.07 434.16,200.08 434.61,200.09 435.06,200.1 435.51,200.11 435.97,200.12 436.42,200.12 436.87,200.13 437.33,200.13 437.78,200.13 438.23,200.14 438.69,200.14 439.14,200.15 439.59,200.15 440.05,200.16 440.5,200.16 440.95,200.17 441.4,200.17 441.86,200.18 442.31,200.18 442.76,200.18 443.22,200.19 443.67,200.19 444.12,200.2 444.57,200.21 445.03,200.22 445.48,200.22 445.93,200.23 446.39,200.23 446.84,200.23 447.29,200.23 447.75,200.24 448.2,200.24 448.65,200.24 449.11,200.24 449.56,200.25 450.01,200.25 450.46,200.26 450.92,200.27 451.37,200.27 451.82,200.28 452.28,200.28 452.73,200.28 453.18,200.29 453.63,200.29 454.09,200.29 454.54,200.3 454.99,200.3 455.45,200.31 455.9,200.31 456.35,200.32 456.81,200.32 457.26,200.32 457.71,200.33 458.17,200.33 458.62,200.33 459.07,200.34 459.52,200.34 459.98,200.35 460.43,200.35 460.88,200.35 461.34,200.35 461.79,200.36 462.24,200.36 462.69,200.36 463.15,200.37 463.6,200.37 464.05,200.37 464.51,200.38 464.96,200.38 465.41,200.38 465.87,200.38 466.32,200.39 466.77,200.39 467.23,200.39 467.68,200.39 468.13,200.4 468.58,200.4 469.04,200.4 469.49,200.4 469.94,200.4 470.4,200.41 470.85,200.41 471.3,200.41 471.75,200.41 472.21,200.42 472.66,200.42 473.11,200.42 473.57,200.41 474.02,200.41 474.47,200.41 474.93,200.41 475.38,200.41 475.83,200.41 476.29,200.42 476.74,200.42 477.19,200.42 477.64,200.42 478.1,200.41 478.55,200.41 479,200.41 479.46,200.4 479.91,200.4 480.36,200.4 480.81,200.4 481.27,200.39 481.72,200.39 482.17,200.39 482.63,200.38 483.08,200.37 483.53,200.37 483.99,200.36 484.44,200.35 484.89,200.34 485.35,200.33 485.8,200.32 486.25,200.31 486.7,200.3 487.16,200.28 487.61,200.27 488.06,200.25 488.52,200.23 488.97,200.21 489.42,200.19 489.88,200.16 490.33,200.13 490.78,200.1 491.23,200.06 491.69,200.02 492.14,199.98 492.59,199.92 493.05,199.86 493.5,199.79 493.95,199.7 494.4,199.6 494.86,199.48 495.31,199.34 495.76,199.17 496.22,198.96 496.67,198.72 497.12,198.42 497.58,198.06 498.03,197.63 498.48,197.14 498.94,196.6 499.39,196.05 499.84,195.5 500.29,194.98 500.75,194.48 501.2,193.97 501.65,193.44 502.11,192.88 502.56,192.31 503.01,191.77 503.47,191.31 503.92,190.94 504.37,190.65 504.82,190.41 505.28,190.18 505.73,189.94 506.18,189.64 506.64,189.26 507.09,188.86 507.54,188.52 508,188.43 508.45,188.69 508.9,189.21 509.35,189.78 509.81,190.26 510.26,190.69 510.71,191.18 511.17,191.79 511.62,192.46 512.07,193.12 512.53,193.69 512.98,194.17 513.43,194.55 513.88,194.87 514.34,195.12 514.79,195.32 515.24,195.49 515.7,195.63 516.15,195.74 516.6,195.83 517.06,195.89 517.51,195.94 517.96,195.97 518.41,195.98 518.87,195.99 519.32,195.99 519.77,195.98 520.23,195.98 520.68,195.98 521.13,195.98 521.59,195.99 522.04,195.98 522.49,195.98 522.94,195.97 523.4,195.96 523.85,195.94 524.3,195.93 524.76,195.93 525.21,195.93 525.66,195.93 526.12,195.94 526.57,195.94 527.02,195.95 527.47,195.96 527.93,195.96 528.38,195.96 528.83,195.95 529.29,195.94 529.74,195.92 530.19,195.91 530.64,195.89 531.1,195.88 531.55,195.88 532,195.87 532.46,195.87 532.91,195.87 533.36,195.86 533.82,195.86 534.27,195.87 534.72,195.87 535.17,195.88 535.63,195.9 536.08,195.92 536.53,195.93 536.99,195.96 537.44,195.98 537.89,196 538.35,196.02 538.8,196.05 539.25,196.07 539.71,196.1 540.16,196.12 540.61,196.14 541.06,196.17 541.52,196.19 541.97,196.22 542.42,196.24 542.88,196.27 543.33,196.29 543.78,196.31 544.24,196.34 544.69,196.36 545.14,196.39 545.59,196.41 546.05,196.44 546.5,196.46 546.95,196.49 547.41,196.51 547.86,196.54 548.31,196.56 548.76,196.59 549.22,196.61 549.67,196.63 550.12,196.66 550.58,196.68 551.03,196.7 551.48,196.73 551.94,196.75 552.39,196.77 552.84,196.79 553.3,196.81 553.75,196.84 554.2,196.86 554.65,196.88 555.11,196.9 555.56,196.92 556.01,196.95 556.47,196.97 556.92,196.99 557.37,197.01 557.83,197.03 558.28,197.05 558.73,197.08 559.18,197.1 559.64,197.12 560.09,197.14 560.54,197.16 561,197.18 561.45,197.2 561.9,197.22 562.36,197.24 562.81,197.26 563.26,197.28 563.71,197.3 564.17,197.32 564.62,197.33 565.07,197.35 565.53,197.37 565.98,197.39 566.43,197.41 566.88,197.43 567.34,197.45 567.79,197.47 568.24,197.49 568.7,197.51 569.15,197.53 569.6,197.55 570.06,197.56 570.51,197.58 570.96,197.6 571.41,197.62 571.87,197.63 572.32,197.65 572.77,197.67 573.23,197.69 573.68,197.71 574.13,197.73 574.59,197.74 575.04,197.76 575.49,197.77 575.95,197.79 576.4,197.8 576.85,197.82 577.3,197.84 577.76,197.85 578.21,197.87 578.66,197.88 579.12,197.9 579.57,197.92 580.02,197.94 580.48,197.95 580.93,197.97 581.38,197.98 581.83,198 582.29,198.02 582.74,198.03 583.19,198.05 583.65,198.06 584.1,198.08 584.55,198.09 585,198.1 585.46,198.12 585.91,198.13 586.36,198.15 586.82,198.16 587.27,198.18 587.72,198.19 588.18,198.2 588.63,198.22 589.08,198.23 589.53,198.25 589.99,198.26 590.44,198.27 590.89,198.29 591.35,198.3 591.8,198.32 592.25,198.33 592.71,198.35 593.16,198.36 593.61,198.37 594.07,198.38 594.52,198.4 594.97,198.41 595.42,198.43 595.88,198.44 596.33,198.45 596.78,198.46 597.24,198.48 597.69,198.49 598.14,198.5 598.6,198.52 599.05,198.53 599.5,198.54 599.95,198.55 600.41,198.56 600.86,198.57 601.31,198.59 601.77,198.6 602.22,198.61 602.67,198.62 603.12,198.63 603.58,198.65 604.03,198.66 604.48,198.67 604.94,198.68 605.39,198.69 605.84,198.7 606.3,198.72 606.75,198.73 607.2,198.74 607.65,198.75 608.11,198.76 608.56,198.77 609.01,198.78 609.47,198.79 609.92,198.81 610.37,198.82 610.83,198.82 611.28,198.83 611.73,198.85 612.18,198.86 612.64,198.87 613.09,198.88 613.54,198.89 614,198.9 614.45,198.91 614.9,198.92 615.36,198.93 615.81,198.93 616.26,198.94 616.72,198.95 617.17,198.96 617.62,198.97 618.07,198.98 618.53,198.98 618.98,198.99 619.43,198.99 619.89,199 620.34,199.01 620.79,199.01 621.25,199.02 621.7,199.02 622.15,199.02 622.6,199.02 623.06,199.02 623.51,199.02 623.96,199.02 624.42,199.01 624.87,199.01 625.32,199.01 625.77,199.01 626.23,199.01 626.68,199.01 627.13,199 627.59,199 628.04,198.99 628.49,198.99 628.95,198.98 629.4,198.97 629.85,198.97 630.31,198.97 630.76,198.96 631.21,198.96 631.66,198.96 632.12,198.96 632.57,198.95 633.02,198.95 633.48,198.94 633.93,198.94 634.38,198.94 634.84,198.93 635.29,198.93 635.74,198.92 636.19,198.92 636.65,198.91 637.1,198.91"/>
<polyline points="365.3,-48.03 365.35,-48.03 365.39,-48.03 365.44,-48.03 365.48,-48.03 365.53,-48.03 365.57,-48.03 365.62,-48.03 365.66,-48.03 365.71,-48.03 365.75,-48.03 365.8,-48.03 365.84,-48.03 365.89,-48.03 365.93,-48.03 365.98,-48.03 366.02,-48.03 366.07,-48.03 366.12,-48.03 366.16,-48.03 366.21,-48.03 366.25,-48.03 366.3,-48.03 366.34,-48.03 366.39,-48.03 366.43,-48.03 366.48,-48.03 366.52,-48.03 366.57,-48.03 366.61,-48.03 366.66,-48.03 366.7,-48.03 366.75,-48.03 366.79,-48.03 366.84,-48.03 366.89,-48.03 366.93,-48.03 366.98,-48.03 367.02,-48.03 367.07,-48.03 367.11,-48.03 367.16,-48.03 367.2,-48.03 367.25,-48.03 367.29,-48.03 367.34,-48.03 367.38,-47.28 367.43,-37.77 367.47,-28.82 367.52,-20.37 367.56,-12.41 367.61,-4.88 367.66,2.23 367.7,8.97 367.75,15.35 367.79,21.4 367.84,27.15 367.88,32.6 367.93,37.79 367.97,42.72 368.02,47.42 368.06,51.9 368.11,56.17 368.15,60.25 368.2,64.14 368.24,67.86 368.29,71.41 368.34,74.82 368.38,78.08 368.43,81.2 368.47,84.19 368.52,87.06 368.56,89.81 368.61,92.46 368.65,95 368.7,97.44 368.74,99.79 368.79,102.05 368.83,104.23 368.88,106.32 368.92,108.34 368.97,110.28 369.01,112.16 369.06,113.97 369.11,115.72 369.15,117.41 369.2,119.03 369.24,120.61 369.29,122.13 369.33,123.6 369.38,125.03 369.42,126.4 369.47,127.74 369.51,129.03 369.56,130.28 369.6,131.49 369.65,132.67 369.69,133.81 369.74,134.92 369.78,135.99 369.83,137.03 369.88,138.04 369.92,139.02 369.97,139.98 370.01,140.9 370.06,141.8 370.1,142.68 370.15,143.53 370.19,144.36 370.24,145.16 370.28,145.95 370.33,146.71 370.37,147.45 370.42,148.18 370.46,148.88 370.51,149.57 370.55,150.24 370.6,150.89 370.65,151.52 370.69,152.14 370.74,152.75 370.78,153.34 370.83,153.91 370.87,154.48 370.92,155.02 370.96,155.56 371.01,156.08 371.05,156.59 371.1,157.09 371.14,157.58 371.19,158.05 371.23,158.52 371.28,158.97 371.32,159.42 371.37,159.85 371.42,160.28 371.46,160.7 371.51,161.1 371.55,161.5 371.6,161.89 371.64,162.27 371.69,162.64 371.73,163.01 371.78,163.37 371.82,163.72 371.87,164.06 371.91,164.4 371.96,164.73 372,165.05 372.05,165.37 372.1,165.68 372.14,165.98 372.19,166.28 372.23,166.57 372.28,166.86 372.32,167.14 372.37,167.42 372.41,167.69 372.46,167.95 372.5,168.21 372.55,168.47 372.59,168.72 372.64,168.97 372.68,169.21 372.73,169.45 372.77,169.68 372.82,169.91 372.87,170.13 372.91,170.36 372.96,170.57 373,170.79 373.05,171 373.09,171.2 373.14,171.4 373.18,171.6 373.23,171.8 373.27,171.99 373.32,172.18 373.36,172.37 373.41,172.55 373.45,172.73 373.5,172.9 373.54,173.08 373.59,173.25 373.64,173.42 373.68,173.58 373.73,173.75 373.77,173.91 373.82,174.06 373.86,174.22 373.91,174.37 373.95,174.52 374,174.67 374.04,174.82 374.09,174.96 374.13,175.1 374.18,175.24 374.22,175.38 374.27,175.51 374.31,175.65 374.36,175.78 374.81,176.99 375.27,178.03 375.72,178.95 376.17,179.75 376.62,180.46 377.08,181.09 377.53,181.65 377.98,182.15 378.44,182.6 378.89,183.01 379.34,183.37 379.8,183.7 380.25,184.01 380.7,184.28 381.16,184.54 381.61,184.77 382.06,184.98 382.51,185.18 382.97,185.36 383.42,185.53 383.87,185.68 384.33,185.83 384.78,185.96 385.23,186.09 385.69,186.21 386.14,186.32 386.59,186.42 387.04,186.51 387.5,186.6 387.95,186.69 388.4,186.77 388.86,186.84 389.31,186.91 389.76,186.98 390.22,187.04 390.67,187.1 391.12,187.15 391.57,187.21 392.03,187.26 392.48,187.3 392.93,187.35 393.39,187.39 393.84,187.43 394.29,187.47 394.75,187.51 395.2,187.54 395.65,187.57 396.1,187.6 396.56,187.63 397.01,187.66 397.46,187.69 397.92,187.71 398.37,187.74 398.82,187.76 399.27,187.78 399.73,187.8 400.18,187.82 400.63,187.84 401.09,187.86 401.54,187.87 401.99,187.89 402.45,187.91 402.9,187.92 403.35,187.93 403.81,187.95 404.26,187.96 404.71,187.97 405.16,187.98 405.62,187.99 406.07,188 406.52,188.01 406.98,188.01 407.43,188.02 407.88,188.03 408.34,188.03 408.79,188.04 409.24,188.04 409.69,188.04 410.15,188.05 410.6,188.05 411.05,188.05 411.51,188.05 411.96,188.05 412.41,188.05 412.87,188.05 413.32,188.05 413.77,188.05 414.22,188.04 414.68,188.04 415.13,188.03 415.58,188.03 416.04,188.02 416.49,188.01 416.94,188 417.4,187.99 417.85,187.98 418.3,187.97 418.75,187.95 419.21,187.93 419.66,187.91 420.11,187.89 420.57,187.87 421.02,187.84 421.47,187.82 421.93,187.78 422.38,187.75 422.83,187.7 423.28,187.66 423.74,187.61 424.19,187.55 424.64,187.48 425.1,187.4 425.55,187.31 426,187.2 426.46,187.07 426.91,186.91 427.36,186.72 427.81,186.49 428.27,186.21 428.72,185.86 429.17,185.45 429.63,184.98 430.08,184.48 430.53,183.97 430.99,183.47 431.44,182.96 431.89,182.44 432.34,181.91 432.8,181.37 433.25,180.85 433.7,180.35 434.16,179.88 434.61,179.46 435.06,179.07 435.51,178.73 435.97,178.44 436.42,178.19 436.87,177.98 437.33,177.81 437.78,177.66 438.23,177.55 438.69,177.45 439.14,177.36 439.59,177.29 440.05,177.23 440.5,177.18 440.95,177.13 441.4,177.09 441.86,177.05 442.31,177.02 442.76,176.99 443.22,176.96 443.67,176.94 444.12,176.92 444.57,176.91 445.03,176.89 445.48,176.88 445.93,176.87 446.39,176.85 446.84,176.84 447.29,176.83 447.75,176.81 448.2,176.8 448.65,176.79 449.11,176.78 449.56,176.78 450.01,176.77 450.46,176.77 450.92,176.77 451.37,176.76 451.82,176.76 452.28,176.76 452.73,176.75 453.18,176.75 453.63,176.74 454.09,176.74 454.54,176.74 454.99,176.74 455.45,176.74 455.9,176.74 456.35,176.74 456.81,176.74 457.26,176.73 457.71,176.73 458.17,176.73 458.62,176.73 459.07,176.73 459.52,176.73 459.98,176.73 460.43,176.73 460.88,176.73 461.34,176.73 461.79,176.73 462.24,176.73 462.69,176.73 463.15,176.72 463.6,176.72 464.05,176.72 464.51,176.72 464.96,176.72 465.41,176.72 465.87,176.72 466.32,176.72 466.77,176.72 467.23,176.72 467.68,176.72 468.13,176.72 468.58,176.72 469.04,176.72 469.49,176.72 469.94,176.72 470.4,176.72 470.85,176.72 471.3,176.71 471.75,176.71 472.21,176.71 472.66,176.71 473.11,176.7 473.57,176.7 474.02,176.7 474.47,176.69 474.93,176.69 475.38,176.68 475.83,176.68 476.29,176.68 476.74,176.67 477.19,176.67 477.64,176.66 478.1,176.65 478.55,176.65 479,176.64 479.46,176.63 479.91,176.62 480.36,176.61 480.81,176.6 481.27,176.59 481.72,176.57 482.17,176.56 482.63,176.55 483.08,176.53 483.53,176.51 483.99,176.49 484.44,176.46 484.89,176.44 485.35,176.41 485.8,176.38 486.25,176.35 486.7,176.31 487.16,176.26 487.61,176.22 488.06,176.16 488.52,176.1 488.97,176.03 489.42,175.94 489.88,175.84 490.33,175.72 490.78,175.58 491.23,175.41 491.69,175.2 492.14,174.95 492.59,174.64 493.05,174.27 493.5,173.84 493.95,173.35 494.4,172.82 494.86,172.26 495.31,171.71 495.76,171.18 496.22,170.72 496.67,170.31 497.12,169.95 497.58,169.62 498.03,169.28 498.48,168.92 498.94,168.5 499.39,168.01 499.84,167.47 500.29,166.89 500.75,166.34 501.2,165.88 501.65,165.52 502.11,165.26 502.56,165.08 503.01,164.95 503.47,164.84 503.92,164.73 504.37,164.6 504.82,164.41 505.28,164.12 505.73,163.7 506.18,163.13 506.64,162.44 507.09,161.76 507.54,161.33 508,161.36 508.45,161.91 508.9,162.74 509.35,163.56 509.81,164.21 510.26,164.76 510.71,165.37 511.17,166.15 511.62,167.07 512.07,167.99 512.53,168.82 512.98,169.51 513.43,170.07 513.88,170.53 514.34,170.9 514.79,171.21 515.24,171.46 515.7,171.68 516.15,171.86 516.6,172.02 517.06,172.16 517.51,172.28 517.96,172.39 518.41,172.49 518.87,172.58 519.32,172.66 519.77,172.73 520.23,172.8 520.68,172.86 521.13,172.92 521.59,172.97 522.04,173.03 522.49,173.08 522.94,173.12 523.4,173.17 523.85,173.21 524.3,173.25 524.76,173.29 525.21,173.33 525.66,173.36 526.12,173.4 526.57,173.43 527.02,173.46 527.47,173.5 527.93,173.53 528.38,173.56 528.83,173.59 529.29,173.61 529.74,173.64 530.19,173.67 530.64,173.7 531.1,173.73 531.55,173.75 532,173.78 532.46,173.8 532.91,173.82 533.36,173.84 533.82,173.86 534.27,173.89 534.72,173.91 535.17,173.93 535.63,173.95 536.08,173.97 536.53,173.99 536.99,174.02 537.44,174.03 537.89,174.05 538.35,174.07 538.8,174.09 539.25,174.11 539.71,174.13 540.16,174.14 540.61,174.16 541.06,174.17 541.52,174.18 541.97,174.2 542.42,174.21 542.88,174.21 543.33,174.22 543.78,174.22 544.24,174.22 544.69,174.22 545.14,174.21 545.59,174.2 546.05,174.18 546.5,174.17 546.95,174.15 547.41,174.12 547.86,174.1 548.31,174.08 548.76,174.07 549.22,174.06 549.67,174.05 550.12,174.05 550.58,174.04 551.03,174.04 551.48,174.04 551.94,174.03 552.39,174.03 552.84,174.02 553.3,174 553.75,173.99 554.2,173.97 554.65,173.96 555.11,173.95 555.56,173.94 556.01,173.94 556.47,173.94 556.92,173.95 557.37,173.95 557.83,173.96 558.28,173.96 558.73,173.97 559.18,173.97 559.64,173.98 560.09,173.98 560.54,173.98 561,173.97 561.45,173.96 561.9,173.95 562.36,173.94 562.81,173.92 563.26,173.91 563.71,173.9 564.17,173.9 564.62,173.89 565.07,173.89 565.53,173.89 565.98,173.89 566.43,173.89 566.88,173.89 567.34,173.89 567.79,173.89 568.24,173.9 568.7,173.91 569.15,173.92 569.6,173.93 570.06,173.94 570.51,173.95 570.96,173.96 571.41,173.97 571.87,173.99 572.32,174 572.77,174.02 573.23,174.04 573.68,174.05 574.13,174.07 574.59,174.08 575.04,174.09 575.49,174.11 575.95,174.12 576.4,174.14 576.85,174.15 577.3,174.16 577.76,174.18 578.21,174.19 578.66,174.21 579.12,174.23 579.57,174.24 580.02,174.26 580.48,174.27 580.93,174.29 581.38,174.3 581.83,174.32 582.29,174.33 582.74,174.35 583.19,174.36 583.65,174.38 584.1,174.39 584.55,174.41 585,174.42 585.46,174.43 585.91,174.45 586.36,174.46 586.82,174.48 587.27,174.49 587.72,174.5 588.18,174.52 588.63,174.53 589.08,174.55 589.53,174.56 589.99,174.57 590.44,174.58 590.89,174.6 591.35,174.61 591.8,174.63 592.25,174.64 592.71,174.66 593.16,174.67 593.61,174.68 594.07,174.69 594.52,174.71 594.97,174.72 595.42,174.73 595.88,174.75 596.33,174.76 596.78,174.77 597.24,174.78 597.69,174.8 598.14,174.81 598.6,174.82 599.05,174.84 599.5,174.85 599.95,174.86 600.41,174.87 600.86,174.88 601.31,174.89 601.77,174.9 602.22,174.92 602.67,174.93 603.12,174.94 603.58,174.95 604.03,174.96 604.48,174.97 604.94,174.99 605.39,175 605.84,175.01 606.3,175.02 606.75,175.03 607.2,175.04 607.65,175.05 608.11,175.06 608.56,175.08 609.01,175.09 609.47,175.1 609.92,175.11 610.37,175.12 610.83,175.13 611.28,175.14 611.73,175.15 612.18,175.16 612.64,175.17 613.09,175.19 613.54,175.2 614,175.21 614.45,175.22 614.9,175.22 615.36,175.23 615.81,175.24 616.26,175.25 616.72,175.25 617.17,175.26 617.62,175.27 618.07,175.28 618.53,175.29 618.98,175.29 619.43,175.3 619.89,175.3 620.34,175.31 620.79,175.32 621.25,175.32 621.7,175.32 622.15,175.33 622.6,175.33 623.06,175.32 623.51,175.32 623.96,175.32 624.42,175.31 624.87,175.31 625.32,175.31 625.77,175.31 626.23,175.31 626.68,175.31 627.13,175.3 627.59,175.3 628.04,175.29 628.49,175.29 628.95,175.28 629.4,175.28 629.85,175.27 630.31,175.27 630.76,175.27 631.21,175.26 631.66,175.26 632.12,175.26 632.57,175.25 633.02,175.25 633.48,175.25 633.93,175.24 634.38,175.24 634.84,175.23 635.29,175.23 635.74,175.22 636.19,175.22 636.65,175.21 637.1,175.21"/>
<polyline points="365.3,-48.03 365.35,-48.03 365.39,-48.03 365.44,-48.03 365.48,-48.03 365.53,-48.03 365.57,-48.03 365.62,-48.03 365.66,-48.03 365.71,-48.03 365.75,-48.03 365.8,-48.03 365.84,-48.03 365.89,-48.03 365.93,-48.03 365.98,-48.03 366.02,-48.03 366.07,-48.03 366.12,-48.03 366.16,-48.03 366.21,-48.03 366.25,-48.03 366.3,-48.03 366.34,-48.03 366.39,-48.03 366.43,-48.03 366.48,-48.03 366.52,-48.03 366.57,-48.03 366.61,-48.03 366.66,-48.03 366.7,-48.03 366.75,-48.03 366.79,-48.03 366.84,-48.03 366.89,-48.03 366.93,-48.03 366.98,-48.03 367.02,-48.03 367.07,-48.03 367.11,-48.03 367.16,-48.03 367.2,-48.03 367.25,-48.03 367.29,-48.03 367.34,-48.03 367.38,-48.03 367.43,-48.03 367.47,-48.03 367.52,-48.03 367.56,-48.03 367.61,-48.03 367.66,-48.03 367.7,-48.03 367.75,-48.03 367.79,-48.03 367.84,-48.03 367.88,-43.82 367.93,-36.88 367.97,-30.28 368.02,-23.99 368.06,-18 368.11,-12.29 368.15,-6.84 368.2,-1.63 368.24,3.34 368.29,8.1 368.34,12.65 368.38,17.01 368.43,21.19 368.47,25.19 368.52,29.03 368.56,32.71 368.61,36.25 368.65,39.65 368.7,42.92 368.74,46.06 368.79,49.08 368.83,51.99 368.88,54.79 368.92,57.49 368.97,60.1 369.01,62.61 369.06,65.03 369.11,67.36 369.15,69.62 369.2,71.8 369.24,73.91 369.29,75.94 369.33,77.91 369.38,79.82 369.42,81.66 369.47,83.44 369.51,85.17 369.56,86.85 369.6,88.47 369.65,90.04 369.69,91.57 369.74,93.04 369.78,94.48 369.83,95.87 369.88,97.22 369.92,98.54 369.97,99.81 370.01,101.05 370.06,102.26 370.1,103.43 370.15,104.57 370.19,105.67 370.24,106.75 370.28,107.8 370.33,108.82 370.37,109.81 370.42,110.78 370.46,111.72 370.51,112.64 370.55,113.54 370.6,114.41 370.65,115.26 370.69,116.09 370.74,116.9 370.78,117.69 370.83,118.46 370.87,119.21 370.92,119.94 370.96,120.66 371.01,121.36 371.05,122.04 371.1,122.71 371.14,123.36 371.19,124 371.23,124.62 371.28,125.23 371.32,125.82 371.37,126.41 371.42,126.97 371.46,127.53 371.51,128.08 371.55,128.61 371.6,129.13 371.64,129.64 371.69,130.14 371.73,130.63 371.78,131.11 371.82,131.58 371.87,132.04 371.91,132.49 371.96,132.93 372,133.36 372.05,133.78 372.1,134.2 372.14,134.6 372.19,135 372.23,135.4 372.28,135.78 372.32,136.16 372.37,136.52 372.41,136.89 372.46,137.24 372.5,137.59 372.55,137.93 372.59,138.27 372.64,138.6 372.68,138.92 372.73,139.24 372.77,139.55 372.82,139.86 372.87,140.16 372.91,140.46 372.96,140.75 373,141.03 373.05,141.31 373.09,141.59 373.14,141.86 373.18,142.12 373.23,142.39 373.27,142.64 373.32,142.9 373.36,143.14 373.41,143.39 373.45,143.63 373.5,143.87 373.54,144.1 373.59,144.33 373.64,144.55 373.68,144.77 373.73,144.99 373.77,145.21 373.82,145.42 373.86,145.63 373.91,145.83 373.95,146.03 374,146.23 374.04,146.42 374.09,146.62 374.13,146.81 374.18,146.99 374.22,147.18 374.27,147.36 374.31,147.53 374.36,147.71 374.81,149.33 375.27,150.73 375.72,151.96 376.17,153.03 376.62,153.98 377.08,154.82 377.53,155.57 377.98,156.24 378.44,156.85 378.89,157.39 379.34,157.88 379.8,158.33 380.25,158.73 380.7,159.1 381.16,159.44 381.61,159.76 382.06,160.04 382.51,160.31 382.97,160.55 383.42,160.78 383.87,160.99 384.33,161.18 384.78,161.36 385.23,161.53 385.69,161.69 386.14,161.84 386.59,161.98 387.04,162.11 387.5,162.23 387.95,162.34 388.4,162.45 388.86,162.55 389.31,162.65 389.76,162.74 390.22,162.82 390.67,162.9 391.12,162.98 391.57,163.05 392.03,163.12 392.48,163.19 392.93,163.25 393.39,163.31 393.84,163.36 394.29,163.42 394.75,163.47 395.2,163.52 395.65,163.56 396.1,163.61 396.56,163.65 397.01,163.69 397.46,163.73 397.92,163.77 398.37,163.8 398.82,163.84 399.27,163.87 399.73,163.9 400.18,163.93 400.63,163.96 401.09,163.99 401.54,164.01 401.99,164.04 402.45,164.06 402.9,164.08 403.35,164.11 403.81,164.13 404.26,164.15 404.71,164.17 405.16,164.19 405.62,164.21 406.07,164.23 406.52,164.24 406.98,164.26 407.43,164.27 407.88,164.29 408.34,164.3 408.79,164.32 409.24,164.33 409.69,164.35 410.15,164.36 410.6,164.37 411.05,164.38 411.51,164.39 411.96,164.4 412.41,164.41 412.87,164.42 413.32,164.43 413.77,164.44 414.22,164.45 414.68,164.46 415.13,164.47 415.58,164.48 416.04,164.48 416.49,164.49 416.94,164.5 417.4,164.5 417.85,164.51 418.3,164.52 418.75,164.52 419.21,164.53 419.66,164.53 420.11,164.54 420.57,164.54 421.02,164.54 421.47,164.55 421.93,164.55 422.38,164.56 422.83,164.56 423.28,164.56 423.74,164.56 424.19,164.57 424.64,164.57 425.1,164.57 425.55,164.57 426,164.57 426.46,164.57 426.91,164.57 427.36,164.57 427.81,164.57 428.27,164.57 428.72,164.57 429.17,164.57 429.63,164.57 430.08,164.57 430.53,164.57 430.99,164.57 431.44,164.56 431.89,164.56 432.34,164.56 432.8,164.56 433.25,164.55 433.7,164.55 434.16,164.54 434.61,164.54 435.06,164.53 435.51,164.53 435.97,164.52 436.42,164.51 436.87,164.5 437.33,164.49 437.78,164.49 438.23,164.48 438.69,164.46 439.14,164.45 439.59,164.44 440.05,164.43 440.5,164.41 440.95,164.4 441.4,164.38 441.86,164.36 442.31,164.34 442.76,164.32 443.22,164.3 443.67,164.27 444.12,164.24 444.57,164.21 445.03,164.18 445.48,164.14 445.93,164.1 446.39,164.06 446.84,164.01 447.29,163.95 447.75,163.89 448.2,163.81 448.65,163.73 449.11,163.63 449.56,163.52 450.01,163.39 450.46,163.24 450.92,163.05 451.37,162.82 451.82,162.54 452.28,162.2 452.73,161.78 453.18,161.27 453.63,160.68 454.09,160.03 454.54,159.36 454.99,158.69 455.45,158.05 455.9,157.46 456.35,156.92 456.81,156.43 457.26,155.99 457.71,155.6 458.17,155.26 458.62,154.96 459.07,154.72 459.52,154.52 459.98,154.35 460.43,154.21 460.88,154.09 461.34,153.99 461.79,153.9 462.24,153.82 462.69,153.76 463.15,153.7 463.6,153.65 464.05,153.61 464.51,153.56 464.96,153.53 465.41,153.49 465.87,153.46 466.32,153.43 466.77,153.41 467.23,153.38 467.68,153.36 468.13,153.34 468.58,153.32 469.04,153.3 469.49,153.28 469.94,153.26 470.4,153.25 470.85,153.23 471.3,153.22 471.75,153.21 472.21,153.19 472.66,153.18 473.11,153.16 473.57,153.14 474.02,153.13 474.47,153.11 474.93,153.1 475.38,153.08 475.83,153.07 476.29,153.06 476.74,153.04 477.19,153.03 477.64,153.01 478.1,152.99 478.55,152.97 479,152.95 479.46,152.93 479.91,152.91 480.36,152.89 480.81,152.86 481.27,152.84 481.72,152.81 482.17,152.78 482.63,152.74 483.08,152.7 483.53,152.66 483.99,152.61 484.44,152.56 484.89,152.5 485.35,152.43 485.8,152.35 486.25,152.26 486.7,152.16 487.16,152.04 487.61,151.89 488.06,151.71 488.52,151.49 488.97,151.23 489.42,150.91 489.88,150.54 490.33,150.12 490.78,149.66 491.23,149.17 491.69,148.64 492.14,148.09 492.59,147.55 493.05,147.05 493.5,146.62 493.95,146.26 494.4,145.94 494.86,145.67 495.31,145.41 495.76,145.15 496.22,144.88 496.67,144.57 497.12,144.21 497.58,143.78 498.03,143.26 498.48,142.68 498.94,142.08 499.39,141.53 499.84,141.08 500.29,140.74 500.75,140.51 501.2,140.36 501.65,140.27 502.11,140.21 502.56,140.18 503.01,140.14 503.47,140.09 503.92,139.98 504.37,139.81 504.82,139.53 505.28,139.1 505.73,138.5 506.18,137.7 506.64,136.79 507.09,135.97 507.54,135.55 508,135.73 508.45,136.49 508.9,137.52 509.35,138.49 509.81,139.23 510.26,139.82 510.71,140.44 511.17,141.26 511.62,142.27 512.07,143.32 512.53,144.29 512.98,145.12 513.43,145.8 513.88,146.35 514.34,146.79 514.79,147.16 515.24,147.46 515.7,147.72 516.15,147.93 516.6,148.12 517.06,148.28 517.51,148.42 517.96,148.54 518.41,148.66 518.87,148.76 519.32,148.85 519.77,148.93 520.23,149 520.68,149.07 521.13,149.14 521.59,149.2 522.04,149.26 522.49,149.31 522.94,149.37 523.4,149.41 523.85,149.46 524.3,149.51 524.76,149.55 525.21,149.59 525.66,149.63 526.12,149.66 526.57,149.7 527.02,149.74 527.47,149.77 527.93,149.81 528.38,149.84 528.83,149.87 529.29,149.9 529.74,149.93 530.19,149.96 530.64,149.99 531.1,150.02 531.55,150.05 532,150.08 532.46,150.1 532.91,150.12 533.36,150.15 533.82,150.17 534.27,150.19 534.72,150.22 535.17,150.24 535.63,150.27 536.08,150.29 536.53,150.32 536.99,150.34 537.44,150.36 537.89,150.38 538.35,150.41 538.8,150.43 539.25,150.45 539.71,150.47 540.16,150.49 540.61,150.51 541.06,150.53 541.52,150.55 541.97,150.57 542.42,150.59 542.88,150.61 543.33,150.62 543.78,150.64 544.24,150.66 544.69,150.68 545.14,150.7 545.59,150.72 546.05,150.74 546.5,150.75 546.95,150.77 547.41,150.79 547.86,150.81 548.31,150.83 548.76,150.84 549.22,150.86 549.67,150.88 550.12,150.89 550.58,150.91 551.03,150.93 551.48,150.94 551.94,150.96 552.39,150.97 552.84,150.99 553.3,151 553.75,151.02 554.2,151.03 554.65,151.05 555.11,151.06 555.56,151.07 556.01,151.09 556.47,151.1 556.92,151.12 557.37,151.13 557.83,151.14 558.28,151.16 558.73,151.17 559.18,151.19 559.64,151.2 560.09,151.21 560.54,151.22 561,151.23 561.45,151.24 561.9,151.25 562.36,151.27 562.81,151.28 563.26,151.28 563.71,151.29 564.17,151.3 564.62,151.31 565.07,151.31 565.53,151.31 565.98,151.32 566.43,151.32 566.88,151.31 567.34,151.31 567.79,151.3 568.24,151.29 568.7,151.28 569.15,151.27 569.6,151.25 570.06,151.23 570.51,151.22 570.96,151.2 571.41,151.19 571.87,151.18 572.32,151.18 572.77,151.18 573.23,151.18 573.68,151.18 574.13,151.18 574.59,151.18 575.04,151.18 575.49,151.18 575.95,151.18 576.4,151.17 576.85,151.17 577.3,151.15 577.76,151.14 578.21,151.13 578.66,151.12 579.12,151.11 579.57,151.11 580.02,151.11 580.48,151.11 580.93,151.11 581.38,151.11 581.83,151.12 582.29,151.12 582.74,151.13 583.19,151.13 583.65,151.14 584.1,151.14 584.55,151.15 585,151.15 585.46,151.15 585.91,151.15 586.36,151.15 586.82,151.14 587.27,151.13 587.72,151.12 588.18,151.11 588.63,151.1 589.08,151.09 589.53,151.09 589.99,151.09 590.44,151.08 590.89,151.08 591.35,151.08 591.8,151.08 592.25,151.08 592.71,151.08 593.16,151.08 593.61,151.08 594.07,151.08 594.52,151.09 594.97,151.09 595.42,151.1 595.88,151.11 596.33,151.11 596.78,151.12 597.24,151.13 597.69,151.14 598.14,151.15 598.6,151.16 599.05,151.17 599.5,151.18 599.95,151.19 600.41,151.2 600.86,151.21 601.31,151.22 601.77,151.23 602.22,151.24 602.67,151.25 603.12,151.26 603.58,151.27 604.03,151.28 604.48,151.29 604.94,151.31 605.39,151.32 605.84,151.33 606.3,151.34 606.75,151.35 607.2,151.36 607.65,151.37 608.11,151.38 608.56,151.39 609.01,151.4 609.47,151.41 609.92,151.42 610.37,151.43 610.83,151.44 611.28,151.45 611.73,151.46 612.18,151.47 612.64,151.49 613.09,151.5 613.54,151.51 614,151.52 614.45,151.52 614.9,151.53 615.36,151.54 615.81,151.55 616.26,151.55 616.72,151.56 617.17,151.57 617.62,151.58 618.07,151.59 618.53,151.59 618.98,151.6 619.43,151.6 619.89,151.61 620.34,151.62 620.79,151.62 621.25,151.63 621.7,151.63 622.15,151.63 622.6,151.63 623.06,151.63 623.51,151.63 623.96,151.62 624.42,151.62 624.87,151.62 625.32,151.62 625.77,151.62 626.23,151.62 626.68,151.61 627.13,151.61 627.59,151.6 628.04,151.6 628.49,151.59 628.95,151.59 629.4,151.58 629.85,151.58 630.31,151.57 630.76,151.57 631.21,151.57 631.66,151.57 632.12,151.56 632.57,151.56 633.02,151.55 633.48,151.55 633.93,151.55 634.38,151.54 634.84,151.54 635.29,151.53 635.74,151.53 636.19,151.52 636.65,151.52 637.1,151.51"/>
<polyline points="365.3,-48.03 365.35,-48.03 365.39,-48.03 365.44,-48.03 365.48,-48.03 365.53,-48.03 365.57,-48.03 365.62,-48.03 365.66,-48.03 365.71,-48.03 365.75,-48.03 365.8,-48.03 365.84,-48.03 365.89,-48.03 365.93,-48.03 365.98,-48.03 366.02,-48.03 366.07,-48.03 366.12,-48.03 366.16,-48.03 366.21,-48.03 366.25,-48.03 366.3,-48.03 366.34,-48.03 366.39,-48.03 366.43,-48.03 366.48,-48.03 366.52,-48.03 366.57,-48.03 366.61,-48.03 366.66,-48.03 366.7,-48.03 366.75,-48.03 366.79,-48.03 366.84,-48.03 366.89,-48.03 366.93,-48.03 366.98,-48.03 367.02,-48.03 367.07,-48.03 367.11,-48.03 367.16,-48.03 367.2,-48.03 367.25,-48.03 367.29,-48.03 367.34,-48.03 367.38,-48.03 367.43,-48.03 367.47,-48.03 367.52,-48.03 367.56,-48.03 367.61,-48.03 367.66,-48.03 367.7,-48.03 367.75,-48.03 367.79,-48.03 367.84,-48.03 367.88,-48.03 367.93,-48.03 367.97,-48.03 368.02,-48.03 368.06,-48.03 368.11,-48.03 368.15,-46.64 368.2,-40.95 368.24,-35.51 368.29,-30.3 368.34,-25.33 368.38,-20.56 368.43,-15.99 368.47,-11.61 368.52,-7.42 368.56,-3.39 368.61,0.48 368.65,4.2 368.7,7.77 368.74,11.21 368.79,14.52 368.83,17.7 368.88,20.76 368.92,23.72 368.97,26.56 369.01,29.31 369.06,31.96 369.11,34.51 369.15,36.98 369.2,39.36 369.24,41.67 369.29,43.9 369.33,46.05 369.38,48.13 369.42,50.15 369.47,52.1 369.51,53.99 369.56,55.82 369.6,57.6 369.65,59.32 369.69,60.98 369.74,62.6 369.78,64.17 369.83,65.69 369.88,67.17 369.92,68.61 369.97,70 370.01,71.36 370.06,72.68 370.1,73.96 370.15,75.2 370.19,76.41 370.24,77.59 370.28,78.74 370.33,79.86 370.37,80.94 370.42,82 370.46,83.03 370.51,84.04 370.55,85.02 370.6,85.97 370.65,86.9 370.69,87.81 370.74,88.69 370.78,89.56 370.83,90.4 370.87,91.22 370.92,92.02 370.96,92.8 371.01,93.57 371.05,94.32 371.1,95.05 371.14,95.76 371.19,96.46 371.23,97.14 371.28,97.8 371.32,98.45 371.37,99.09 371.42,99.71 371.46,100.32 371.51,100.92 371.55,101.5 371.6,102.07 371.64,102.63 371.69,103.17 371.73,103.71 371.78,104.23 371.82,104.74 371.87,105.25 371.91,105.74 371.96,106.22 372,106.69 372.05,107.16 372.1,107.61 372.14,108.06 372.19,108.49 372.23,108.92 372.28,109.34 372.32,109.75 372.37,110.16 372.41,110.55 372.46,110.94 372.5,111.32 372.55,111.7 372.59,112.07 372.64,112.43 372.68,112.78 372.73,113.13 372.77,113.47 372.82,113.8 372.87,114.13 372.91,114.46 372.96,114.77 373,115.09 373.05,115.39 373.09,115.69 373.14,115.99 373.18,116.28 373.23,116.57 373.27,116.85 373.32,117.13 373.36,117.4 373.41,117.67 373.45,117.93 373.5,118.19 373.54,118.44 373.59,118.69 373.64,118.94 373.68,119.18 373.73,119.42 373.77,119.65 373.82,119.88 373.86,120.11 373.91,120.34 373.95,120.56 374,120.77 374.04,120.99 374.09,121.2 374.13,121.4 374.18,121.61 374.22,121.81 374.27,122.01 374.31,122.2 374.36,122.39 374.81,124.16 375.27,125.7 375.72,127.04 376.17,128.21 376.62,129.25 377.08,130.17 377.53,130.99 377.98,131.73 378.44,132.39 378.89,132.98 379.34,133.52 379.8,134.01 380.25,134.45 380.7,134.86 381.16,135.23 381.61,135.57 382.06,135.89 382.51,136.18 382.97,136.44 383.42,136.69 383.87,136.92 384.33,137.13 384.78,137.33 385.23,137.52 385.69,137.69 386.14,137.85 386.59,138 387.04,138.15 387.5,138.28 387.95,138.4 388.4,138.52 388.86,138.63 389.31,138.74 389.76,138.84 390.22,138.93 390.67,139.02 391.12,139.11 391.57,139.19 392.03,139.26 392.48,139.33 392.93,139.4 393.39,139.47 393.84,139.53 394.29,139.59 394.75,139.64 395.2,139.7 395.65,139.75 396.1,139.8 396.56,139.84 397.01,139.89 397.46,139.93 397.92,139.97 398.37,140.01 398.82,140.05 399.27,140.09 399.73,140.12 400.18,140.15 400.63,140.19 401.09,140.22 401.54,140.25 401.99,140.28 402.45,140.3 402.9,140.33 403.35,140.35 403.81,140.38 404.26,140.4 404.71,140.42 405.16,140.45 405.62,140.47 406.07,140.49 406.52,140.51 406.98,140.53 407.43,140.55 407.88,140.56 408.34,140.58 408.79,140.6 409.24,140.61 409.69,140.63 410.15,140.64 410.6,140.66 411.05,140.67 411.51,140.68 411.96,140.7 412.41,140.71 412.87,140.72 413.32,140.73 413.77,140.74 414.22,140.76 414.68,140.77 415.13,140.78 415.58,140.79 416.04,140.8 416.49,140.81 416.94,140.81 417.4,140.82 417.85,140.83 418.3,140.84 418.75,140.85 419.21,140.86 419.66,140.86 420.11,140.87 420.57,140.88 421.02,140.88 421.47,140.89 421.93,140.9 422.38,140.9 422.83,140.91 423.28,140.91 423.74,140.92 424.19,140.92 424.64,140.93 425.1,140.93 425.55,140.94 426,140.94 426.46,140.95 426.91,140.95 427.36,140.96 427.81,140.96 428.27,140.96 428.72,140.97 429.17,140.97 429.63,140.97 430.08,140.98 430.53,140.98 430.99,140.98 431.44,140.98 431.89,140.99 432.34,140.99 432.8,140.99 433.25,140.99 433.7,140.99 434.16,140.99 434.61,141 435.06,141 435.51,141 435.97,141 436.42,141 436.87,141 437.33,141 437.78,141 438.23,141 438.69,141 439.14,141 439.59,141 440.05,141 440.5,141 440.95,141 441.4,141 441.86,141 442.31,141 442.76,140.99 443.22,140.99 443.67,140.99 444.12,140.99 444.57,140.99 445.03,140.99 445.48,140.98 445.93,140.98 446.39,140.98 446.84,140.97 447.29,140.97 447.75,140.97 448.2,140.96 448.65,140.96 449.11,140.95 449.56,140.95 450.01,140.95 450.46,140.94 450.92,140.93 451.37,140.93 451.82,140.92 452.28,140.92 452.73,140.91 453.18,140.9 453.63,140.89 454.09,140.89 454.54,140.88 454.99,140.87 455.45,140.86 455.9,140.85 456.35,140.84 456.81,140.83 457.26,140.82 457.71,140.8 458.17,140.79 458.62,140.78 459.07,140.76 459.52,140.75 459.98,140.73 460.43,140.71 460.88,140.69 461.34,140.67 461.79,140.65 462.24,140.63 462.69,140.6 463.15,140.58 463.6,140.55 464.05,140.52 464.51,140.48 464.96,140.45 465.41,140.41 465.87,140.37 466.32,140.32 466.77,140.27 467.23,140.21 467.68,140.14 468.13,140.07 468.58,139.99 469.04,139.9 469.49,139.79 469.94,139.67 470.4,139.52 470.85,139.35 471.3,139.15 471.75,138.9 472.21,138.6 472.66,138.23 473.11,137.77 473.57,137.21 474.02,136.55 474.47,135.83 474.93,135.08 475.38,134.36 475.83,133.7 476.29,133.1 476.74,132.57 477.19,132.11 477.64,131.69 478.1,131.33 478.55,131.02 479,130.76 479.46,130.54 479.91,130.34 480.36,130.17 480.81,130.02 481.27,129.88 481.72,129.74 482.17,129.61 482.63,129.49 483.08,129.36 483.53,129.22 483.99,129.07 484.44,128.91 484.89,128.74 485.35,128.53 485.8,128.29 486.25,128.01 486.7,127.68 487.16,127.31 487.61,126.9 488.06,126.46 488.52,125.99 488.97,125.49 489.42,124.95 489.88,124.38 490.33,123.83 490.78,123.32 491.23,122.89 491.69,122.53 492.14,122.23 492.59,121.98 493.05,121.76 493.5,121.56 493.95,121.36 494.4,121.15 494.86,120.91 495.31,120.64 495.76,120.31 496.22,119.9 496.67,119.4 497.12,118.82 497.58,118.19 498.03,117.57 498.48,117.03 498.94,116.61 499.39,116.3 499.84,116.11 500.29,115.99 500.75,115.93 501.2,115.91 501.65,115.92 502.11,115.93 502.56,115.93 503.01,115.91 503.47,115.85 503.92,115.72 504.37,115.49 504.82,115.13 505.28,114.58 505.73,113.82 506.18,112.85 506.64,111.77 507.09,110.85 507.54,110.43 508,110.73 508.45,111.64 508.9,112.83 509.35,113.92 509.81,114.74 510.26,115.36 510.71,115.99 511.17,116.81 511.62,117.83 512.07,118.92 512.53,119.97 512.98,120.9 513.43,121.67 513.88,122.3 514.34,122.8 514.79,123.22 515.24,123.56 515.7,123.85 516.15,124.09 516.6,124.29 517.06,124.47 517.51,124.63 517.96,124.77 518.41,124.89 518.87,125 519.32,125.09 519.77,125.18 520.23,125.26 520.68,125.34 521.13,125.41 521.59,125.47 522.04,125.54 522.49,125.59 522.94,125.65 523.4,125.7 523.85,125.75 524.3,125.8 524.76,125.84 525.21,125.88 525.66,125.92 526.12,125.96 526.57,126 527.02,126.04 527.47,126.07 527.93,126.11 528.38,126.14 528.83,126.17 529.29,126.2 529.74,126.24 530.19,126.27 530.64,126.3 531.1,126.33 531.55,126.36 532,126.38 532.46,126.41 532.91,126.43 533.36,126.46 533.82,126.48 534.27,126.5 534.72,126.53 535.17,126.55 535.63,126.58 536.08,126.6 536.53,126.63 536.99,126.65 537.44,126.67 537.89,126.7 538.35,126.72 538.8,126.74 539.25,126.76 539.71,126.78 540.16,126.8 540.61,126.82 541.06,126.85 541.52,126.87 541.97,126.89 542.42,126.91 542.88,126.92 543.33,126.94 543.78,126.96 544.24,126.98 544.69,127 545.14,127.02 545.59,127.04 546.05,127.05 546.5,127.07 546.95,127.09 547.41,127.11 547.86,127.13 548.31,127.14 548.76,127.16 549.22,127.18 549.67,127.2 550.12,127.21 550.58,127.23 551.03,127.25 551.48,127.26 551.94,127.28 552.39,127.29 552.84,127.31 553.3,127.33 553.75,127.34 554.2,127.36 554.65,127.37 555.11,127.39 555.56,127.4 556.01,127.42 556.47,127.43 556.92,127.45 557.37,127.46 557.83,127.48 558.28,127.49 558.73,127.51 559.18,127.52 559.64,127.54 560.09,127.55 560.54,127.56 561,127.58 561.45,127.59 561.9,127.6 562.36,127.62 562.81,127.63 563.26,127.64 563.71,127.66 564.17,127.67 564.62,127.68 565.07,127.69 565.53,127.71 565.98,127.72 566.43,127.73 566.88,127.75 567.34,127.76 567.79,127.77 568.24,127.79 568.7,127.8 569.15,127.81 569.6,127.82 570.06,127.84 570.51,127.85 570.96,127.86 571.41,127.87 571.87,127.88 572.32,127.89 572.77,127.91 573.23,127.92 573.68,127.93 574.13,127.94 574.59,127.95 575.04,127.96 575.49,127.97 575.95,127.98 576.4,127.99 576.85,128 577.3,128.01 577.76,128.02 578.21,128.03 578.66,128.04 579.12,128.05 579.57,128.06 580.02,128.07 580.48,128.08 580.93,128.09 581.38,128.1 581.83,128.1 582.29,128.11 582.74,128.12 583.19,128.12 583.65,128.13 584.1,128.13 584.55,128.14 585,128.14 585.46,128.14 585.91,128.13 586.36,128.13 586.82,128.12 587.27,128.12 587.72,128.11 588.18,128.1 588.63,128.09 589.08,128.08 589.53,128.07 589.99,128.05 590.44,128.04 590.89,128.03 591.35,128.02 591.8,128.01 592.25,128.01 592.71,128.01 593.16,128.01 593.61,128.01 594.07,128.01 594.52,128.02 594.97,128.02 595.42,128.02 595.88,128.03 596.33,128.03 596.78,128.02 597.24,128.02 597.69,128.02 598.14,128.01 598.6,128 599.05,127.99 599.5,127.98 599.95,127.97 600.41,127.96 600.86,127.96 601.31,127.96 601.77,127.96 602.22,127.96 602.67,127.97 603.12,127.97 603.58,127.97 604.03,127.98 604.48,127.98 604.94,127.99 605.39,127.99 605.84,128 606.3,128 606.75,128 607.2,128.01 607.65,128.01 608.11,128.01 608.56,128 609.01,128 609.47,127.99 609.92,127.98 610.37,127.97 610.83,127.96 611.28,127.95 611.73,127.95 612.18,127.95 612.64,127.95 613.09,127.95 613.54,127.95 614,127.95 614.45,127.95 614.9,127.94 615.36,127.94 615.81,127.93 616.26,127.93 616.72,127.93 617.17,127.93 617.62,127.94 618.07,127.94 618.53,127.94 618.98,127.94 619.43,127.94 619.89,127.95 620.34,127.95 620.79,127.96 621.25,127.96 621.7,127.96 622.15,127.96 622.6,127.96 623.06,127.96 623.51,127.95 623.96,127.95 624.42,127.94 624.87,127.94 625.32,127.94 625.77,127.94 626.23,127.94 626.68,127.93 627.13,127.93 627.59,127.92 628.04,127.92 628.49,127.91 628.95,127.9 629.4,127.9 629.85,127.89 630.31,127.89 630.76,127.89 631.21,127.88 631.66,127.88 632.12,127.88 632.57,127.87 633.02,127.87 633.48,127.86 633.93,127.86 634.38,127.85 634.84,127.85 635.29,127.84 635.74,127.84 636.19,127.83 636.65,127.83 637.1,127.82"/>
<polyline points="365.3,-48.03 365.35,-48.03 365.39,-48.03 365.44,-48.03 365.48,-48.03 365.53,-48.03 365.57,-48.03 365.62,-48.03 365.66,-48.03 365.71,-48.03 365.75,-48.03 365.8,-48.03 365.84,-48.03 365.89,-48.03 365.93,-48.03 365.98,-48.03 366.02,-48.03 366.07,-48.03 366.12,-48.03 366.16,-48.03 366.21,-48.03 366.25,-48.03 366.3,-48.03 366.34,-48.03 366.39,-48.03 366.43,-48.03 366.48,-48.03 366.52,-48.03 366.57,-48.03 366.61,-48.03 366.66,-48.03 366.7,-48.03 366.75,-48.03 366.79,-48.03 366.84,-48.03 366.89,-48.03 366.93,-48.03 366.98,-48.03 367.02,-48.03 367.07,-48.03 367.11,-48.03 367.16,-48.03 367.2,-48.03 367.25,-48.03 367.29,-48.03 367.34,-48.03 367.38,-48.03 367.43,-48.03 367.47,-48.03 367.52,-48.03 367.56,-48.03 367.61,-48.03 367.66,-48.03 367.7,-48.03 367.75,-48.03 367.79,-48.03 367.84,-48.03 367.88,-48.03 367.93,-48.03 367.97,-48.03 368.02,-48.03 368.06,-48.03 368.11,-48.03 368.15,-48.03 368.2,-48.03 368.24,-48.03 368.29,-48.03 368.34,-48.03 368.38,-48.03 368.43,-48.03 368.47,-48.03 368.52,-48.03 368.56,-48.03 368.61,-48.03 368.65,-46.76 368.7,-42.48 368.74,-38.36 368.79,-34.4 368.83,-30.59 368.88,-26.91 368.92,-23.37 368.97,-19.96 369.01,-16.67 369.06,-13.49 369.11,-10.43 369.15,-7.47 369.2,-4.61 369.24,-1.85 369.29,0.82 369.33,3.4 369.38,5.89 369.42,8.31 369.47,10.65 369.51,12.92 369.56,15.11 369.6,17.24 369.65,19.3 369.69,21.3 369.74,23.24 369.78,25.12 369.83,26.95 369.88,28.72 369.92,30.44 369.97,32.11 370.01,33.74 370.06,35.32 370.1,36.85 370.15,38.34 370.19,39.8 370.24,41.21 370.28,42.58 370.33,43.92 370.37,45.22 370.42,46.49 370.46,47.73 370.51,48.93 370.55,50.11 370.6,51.25 370.65,52.37 370.69,53.45 370.74,54.51 370.78,55.55 370.83,56.56 370.87,57.54 370.92,58.5 370.96,59.44 371.01,60.36 371.05,61.25 371.1,62.13 371.14,62.98 371.19,63.82 371.23,64.64 371.28,65.43 371.32,66.21 371.37,66.98 371.42,67.72 371.46,68.45 371.51,69.17 371.55,69.86 371.6,70.55 371.64,71.22 371.69,71.87 371.73,72.51 371.78,73.14 371.82,73.76 371.87,74.36 371.91,74.95 371.96,75.53 372,76.09 372.05,76.65 372.1,77.19 372.14,77.73 372.19,78.25 372.23,78.76 372.28,79.27 372.32,79.76 372.37,80.24 372.41,80.72 372.46,81.18 372.5,81.64 372.55,82.09 372.59,82.53 372.64,82.96 372.68,83.39 372.73,83.8 372.77,84.21 372.82,84.61 372.87,85.01 372.91,85.4 372.96,85.78 373,86.15 373.05,86.52 373.09,86.88 373.14,87.24 373.18,87.59 373.23,87.93 373.27,88.27 373.32,88.6 373.36,88.92 373.41,89.24 373.45,89.56 373.5,89.87 373.54,90.17 373.59,90.47 373.64,90.77 373.68,91.06 373.73,91.35 373.77,91.63 373.82,91.9 373.86,92.18 373.91,92.44 373.95,92.71 374,92.97 374.04,93.22 374.09,93.48 374.13,93.72 374.18,93.97 374.22,94.21 374.27,94.45 374.31,94.68 374.36,94.91 374.81,97.03 375.27,98.87 375.72,100.48 376.17,101.89 376.62,103.13 377.08,104.24 377.53,105.22 377.98,106.1 378.44,106.89 378.89,107.6 379.34,108.25 379.8,108.84 380.25,109.37 380.7,109.86 381.16,110.3 381.61,110.71 382.06,111.09 382.51,111.43 382.97,111.76 383.42,112.05 383.87,112.33 384.33,112.58 384.78,112.82 385.23,113.04 385.69,113.25 386.14,113.45 386.59,113.63 387.04,113.8 387.5,113.96 387.95,114.11 388.4,114.25 388.86,114.39 389.31,114.51 389.76,114.63 390.22,114.74 390.67,114.85 391.12,114.95 391.57,115.05 392.03,115.14 392.48,115.23 392.93,115.31 393.39,115.39 393.84,115.46 394.29,115.53 394.75,115.6 395.2,115.66 395.65,115.73 396.1,115.78 396.56,115.84 397.01,115.9 397.46,115.95 397.92,116 398.37,116.04 398.82,116.09 399.27,116.13 399.73,116.18 400.18,116.22 400.63,116.25 401.09,116.29 401.54,116.33 401.99,116.36 402.45,116.4 402.9,116.43 403.35,116.46 403.81,116.49 404.26,116.52 404.71,116.54 405.16,116.57 405.62,116.6 406.07,116.62 406.52,116.64 406.98,116.67 407.43,116.69 407.88,116.71 408.34,116.73 408.79,116.75 409.24,116.77 409.69,116.79 410.15,116.81 410.6,116.83 411.05,116.85 411.51,116.86 411.96,116.88 412.41,116.89 412.87,116.91 413.32,116.92 413.77,116.94 414.22,116.95 414.68,116.96 415.13,116.98 415.58,116.99 416.04,117 416.49,117.01 416.94,117.03 417.4,117.04 417.85,117.05 418.3,117.06 418.75,117.07 419.21,117.08 419.66,117.09 420.11,117.1 420.57,117.11 421.02,117.12 421.47,117.12 421.93,117.13 422.38,117.14 422.83,117.15 423.28,117.16 423.74,117.16 424.19,117.17 424.64,117.18 425.1,117.18 425.55,117.19 426,117.2 426.46,117.2 426.91,117.21 427.36,117.21 427.81,117.22 428.27,117.22 428.72,117.23 429.17,117.24 429.63,117.24 430.08,117.24 430.53,117.25 430.99,117.25 431.44,117.26 431.89,117.26 432.34,117.27 432.8,117.27 433.25,117.27 433.7,117.28 434.16,117.28 434.61,117.28 435.06,117.29 435.51,117.29 435.97,117.29 436.42,117.3 436.87,117.3 437.33,117.3 437.78,117.3 438.23,117.3 438.69,117.31 439.14,117.31 439.59,117.31 440.05,117.31 440.5,117.31 440.95,117.32 441.4,117.32 441.86,117.32 442.31,117.32 442.76,117.32 443.22,117.32 443.67,117.32 444.12,117.32 444.57,117.32 445.03,117.32 445.48,117.32 445.93,117.32 446.39,117.32 446.84,117.32 447.29,117.32 447.75,117.32 448.2,117.32 448.65,117.32 449.11,117.32 449.56,117.32 450.01,117.32 450.46,117.32 450.92,117.32 451.37,117.32 451.82,117.31 452.28,117.31 452.73,117.31 453.18,117.31 453.63,117.31 454.09,117.3 454.54,117.3 454.99,117.3 455.45,117.29 455.9,117.29 456.35,117.29 456.81,117.28 457.26,117.28 457.71,117.28 458.17,117.27 458.62,117.27 459.07,117.26 459.52,117.26 459.98,117.25 460.43,117.25 460.88,117.24 461.34,117.24 461.79,117.23 462.24,117.22 462.69,117.22 463.15,117.21 463.6,117.2 464.05,117.2 464.51,117.19 464.96,117.18 465.41,117.17 465.87,117.16 466.32,117.15 466.77,117.14 467.23,117.13 467.68,117.12 468.13,117.1 468.58,117.09 469.04,117.08 469.49,117.06 469.94,117.05 470.4,117.03 470.85,117.01 471.3,117 471.75,116.98 472.21,116.96 472.66,116.94 473.11,116.91 473.57,116.89 474.02,116.86 474.47,116.84 474.93,116.81 475.38,116.77 475.83,116.74 476.29,116.7 476.74,116.66 477.19,116.62 477.64,116.57 478.1,116.52 478.55,116.47 479,116.41 479.46,116.34 479.91,116.26 480.36,116.18 480.81,116.08 481.27,115.97 481.72,115.85 482.17,115.7 482.63,115.53 483.08,115.33 483.53,115.08 483.99,114.79 484.44,114.45 484.89,114.06 485.35,113.63 485.8,113.18 486.25,112.7 486.7,112.18 487.16,111.61 487.61,110.99 488.06,110.32 488.52,109.64 488.97,108.99 489.42,108.38 489.88,107.8 490.33,107.23 490.78,106.64 491.23,106 491.69,105.3 492.14,104.54 492.59,103.71 493.05,102.83 493.5,101.94 493.95,101.06 494.4,100.2 494.86,99.36 495.31,98.5 495.76,97.62 496.22,96.7 496.67,95.78 497.12,94.91 497.58,94.16 498.03,93.56 498.48,93.12 498.94,92.8 499.39,92.59 499.84,92.46 500.29,92.39 500.75,92.36 501.2,92.34 501.65,92.34 502.11,92.34 502.56,92.32 503.01,92.27 503.47,92.16 503.92,91.98 504.37,91.69 504.82,91.24 505.28,90.59 505.73,89.7 506.18,88.57 506.64,87.33 507.09,86.3 507.54,85.85 508,86.21 508.45,87.24 508.9,88.55 509.35,89.74 509.81,90.63 510.26,91.28 510.71,91.92 511.17,92.73 511.62,93.72 512.07,94.81 512.53,95.89 512.98,96.86 513.43,97.69 513.88,98.38 514.34,98.95 514.79,99.4 515.24,99.78 515.7,100.09 516.15,100.35 516.6,100.58 517.06,100.77 517.51,100.93 517.96,101.08 518.41,101.2 518.87,101.32 519.32,101.42 519.77,101.51 520.23,101.59 520.68,101.67 521.13,101.74 521.59,101.81 522.04,101.87 522.49,101.93 522.94,101.99 523.4,102.04 523.85,102.09 524.3,102.13 524.76,102.18 525.21,102.22 525.66,102.26 526.12,102.3 526.57,102.34 527.02,102.37 527.47,102.41 527.93,102.44 528.38,102.48 528.83,102.51 529.29,102.54 529.74,102.57 530.19,102.6 530.64,102.63 531.1,102.66 531.55,102.69 532,102.72 532.46,102.74 532.91,102.76 533.36,102.79 533.82,102.81 534.27,102.83 534.72,102.86 535.17,102.88 535.63,102.91 536.08,102.93 536.53,102.95 536.99,102.98 537.44,103 537.89,103.02 538.35,103.04 538.8,103.07 539.25,103.09 539.71,103.11 540.16,103.13 540.61,103.15 541.06,103.17 541.52,103.19 541.97,103.21 542.42,103.23 542.88,103.25 543.33,103.26 543.78,103.28 544.24,103.3 544.69,103.32 545.14,103.34 545.59,103.36 546.05,103.37 546.5,103.39 546.95,103.41 547.41,103.43 547.86,103.45 548.31,103.46 548.76,103.48 549.22,103.5 549.67,103.51 550.12,103.53 550.58,103.55 551.03,103.57 551.48,103.58 551.94,103.6 552.39,103.61 552.84,103.63 553.3,103.64 553.75,103.66 554.2,103.67 554.65,103.69 555.11,103.7 555.56,103.72 556.01,103.73 556.47,103.75 556.92,103.76 557.37,103.78 557.83,103.79 558.28,103.81 558.73,103.82 559.18,103.84 559.64,103.85 560.09,103.87 560.54,103.88 561,103.89 561.45,103.91 561.9,103.92 562.36,103.93 562.81,103.95 563.26,103.96 563.71,103.97 564.17,103.98 564.62,104 565.07,104.01 565.53,104.02 565.98,104.04 566.43,104.05 566.88,104.06 567.34,104.08 567.79,104.09 568.24,104.1 568.7,104.12 569.15,104.13 569.6,104.14 570.06,104.15 570.51,104.17 570.96,104.18 571.41,104.19 571.87,104.2 572.32,104.21 572.77,104.23 573.23,104.24 573.68,104.25 574.13,104.26 574.59,104.27 575.04,104.28 575.49,104.29 575.95,104.3 576.4,104.31 576.85,104.32 577.3,104.33 577.76,104.34 578.21,104.35 578.66,104.37 579.12,104.38 579.57,104.39 580.02,104.4 580.48,104.41 580.93,104.42 581.38,104.43 581.83,104.44 582.29,104.45 582.74,104.46 583.19,104.47 583.65,104.48 584.1,104.49 584.55,104.5 585,104.51 585.46,104.52 585.91,104.53 586.36,104.54 586.82,104.55 587.27,104.56 587.72,104.57 588.18,104.57 588.63,104.58 589.08,104.59 589.53,104.6 589.99,104.61 590.44,104.62 590.89,104.63 591.35,104.64 591.8,104.65 592.25,104.66 592.71,104.67 593.16,104.67 593.61,104.68 594.07,104.69 594.52,104.7 594.97,104.71 595.42,104.71 595.88,104.72 596.33,104.73 596.78,104.74 597.24,104.74 597.69,104.75 598.14,104.76 598.6,104.77 599.05,104.77 599.5,104.78 599.95,104.78 600.41,104.78 600.86,104.79 601.31,104.79 601.77,104.79 602.22,104.8 602.67,104.8 603.12,104.79 603.58,104.79 604.03,104.79 604.48,104.78 604.94,104.77 605.39,104.77 605.84,104.76 606.3,104.75 606.75,104.74 607.2,104.73 607.65,104.72 608.11,104.71 608.56,104.7 609.01,104.69 609.47,104.69 609.92,104.68 610.37,104.68 610.83,104.68 611.28,104.68 611.73,104.68 612.18,104.69 612.64,104.69 613.09,104.7 613.54,104.7 614,104.7 614.45,104.7 614.9,104.7 615.36,104.7 615.81,104.69 616.26,104.69 616.72,104.68 617.17,104.67 617.62,104.66 618.07,104.65 618.53,104.64 618.98,104.63 619.43,104.62 619.89,104.61 620.34,104.61 620.79,104.61 621.25,104.61 621.7,104.6 622.15,104.6 622.6,104.59 623.06,104.59 623.51,104.58 623.96,104.57 624.42,104.56 624.87,104.56 625.32,104.55 625.77,104.54 626.23,104.54 626.68,104.53 627.13,104.52 627.59,104.5 628.04,104.49 628.49,104.47 628.95,104.45 629.4,104.43 629.85,104.41 630.31,104.39 630.76,104.37 631.21,104.35 631.66,104.33 632.12,104.32 632.57,104.31 633.02,104.3 633.48,104.28 633.93,104.27 634.38,104.26 634.84,104.24 635.29,104.23 635.74,104.21 636.19,104.2 636.65,104.19 637.1,104.18"/>
<polyline points="365.3,-48.03 365.35,-48.03 365.39,-48.03 365.44,-48.03 365.48,-48.03 365.53,-48.03 365.57,-48.03 365.62,-48.03 365.66,-48.03 365.71,-48.03 365.75,-48.03 365.8,-48.03 365.84,-48.03 365.89,-48.03 365.93,-48.03 365.98,-48.03 366.02,-48.03 366.07,-48.03 366.12,-48.03 366.16,-48.03 366.21,-48.03 366.25,-48.03 366.3,-48.03 366.34,-48.03 366.39,-48.03 366.43,-48.03 366.48,-48.03 366.52,-48.03 366.57,-48.03 366.61,-48.03 366.66,-48.03 366.7,-48.03 366.75,-48.03 366.79,-48.03 366.84,-48.03 366.89,-48.03 366.93,-48.03 366.98,-48.03 367.02,-48.03 367.07,-48.03 367.11,-48.03 367.16,-48.03 367.2,-48.03 367.25,-48.03 367.29,-48.03 367.34,-48.03 367.38,-48.03 367.43,-48.03 367.47,-48.03 367.52,-48.03 367.56,-48.03 367.61,-48.03 367.66,-48.03 367.7,-48.03 367.75,-48.03 367.79,-48.03 367.84,-48.03 367.88,-48.03 367.93,-48.03 367.97,-48.03 368.02,-48.03 368.06,-48.03 368.11,-48.03 368.15,-48.03 368.2,-48.03 368.24,-48.03 368.29,-48.03 368.34,-48.03 368.38,-48.03 368.43,-48.03 368.47,-48.03 368.52,-48.03 368.56,-48.03 368.61,-48.03 368.65,-48.03 368.7,-48.03 368.74,-48.03 368.79,-48.03 368.83,-48.03 368.88,-48.03 368.92,-48.03 368.97,-48.03 369.01,-48.03 369.06,-48.03 369.11,-48.03 369.15,-48.03 369.2,-48.03 369.24,-46.68 369.29,-43.54 369.33,-40.5 369.38,-37.56 369.42,-34.72 369.47,-31.97 369.51,-29.3 369.56,-26.72 369.6,-24.22 369.65,-21.79 369.69,-19.44 369.74,-17.16 369.78,-14.94 369.83,-12.79 369.88,-10.71 369.92,-8.68 369.97,-6.72 370.01,-4.8 370.06,-2.95 370.1,-1.14 370.15,0.62 370.19,2.33 370.24,3.99 370.28,5.61 370.33,7.18 370.37,8.71 370.42,10.21 370.46,11.66 370.51,13.08 370.55,14.46 370.6,15.8 370.65,17.12 370.69,18.39 370.74,19.64 370.78,20.86 370.83,22.05 370.87,23.21 370.92,24.34 370.96,25.44 371.01,26.52 371.05,27.58 371.1,28.6 371.14,29.61 371.19,30.59 371.23,31.55 371.28,32.49 371.32,33.41 371.37,34.31 371.42,35.18 371.46,36.04 371.51,36.88 371.55,37.7 371.6,38.51 371.64,39.3 371.69,40.07 371.73,40.82 371.78,41.56 371.82,42.28 371.87,42.99 371.91,43.69 371.96,44.37 372,45.03 372.05,45.69 372.1,46.33 372.14,46.96 372.19,47.57 372.23,48.18 372.28,48.77 372.32,49.35 372.37,49.92 372.41,50.48 372.46,51.02 372.5,51.56 372.55,52.09 372.59,52.61 372.64,53.12 372.68,53.62 372.73,54.11 372.77,54.59 372.82,55.06 372.87,55.53 372.91,55.98 372.96,56.43 373,56.87 373.05,57.3 373.09,57.73 373.14,58.15 373.18,58.56 373.23,58.96 373.27,59.36 373.32,59.75 373.36,60.13 373.41,60.51 373.45,60.88 373.5,61.24 373.54,61.6 373.59,61.96 373.64,62.3 373.68,62.65 373.73,62.98 373.77,63.31 373.82,63.64 373.86,63.96 373.91,64.27 373.95,64.59 374,64.89 374.04,65.19 374.09,65.49 374.13,65.78 374.18,66.07 374.22,66.35 374.27,66.63 374.31,66.9 374.36,67.17 374.81,69.67 375.27,71.84 375.72,73.73 376.17,75.39 376.62,76.85 377.08,78.15 377.53,79.31 377.98,80.34 378.44,81.27 378.89,82.11 379.34,82.87 379.8,83.56 380.25,84.19 380.7,84.76 381.16,85.29 381.61,85.77 382.06,86.21 382.51,86.62 382.97,87 383.42,87.35 383.87,87.67 384.33,87.97 384.78,88.25 385.23,88.52 385.69,88.76 386.14,88.99 386.59,89.2 387.04,89.4 387.5,89.59 387.95,89.77 388.4,89.94 388.86,90.09 389.31,90.24 389.76,90.38 390.22,90.52 390.67,90.64 391.12,90.76 391.57,90.87 392.03,90.98 392.48,91.08 392.93,91.18 393.39,91.27 393.84,91.36 394.29,91.45 394.75,91.53 395.2,91.6 395.65,91.67 396.1,91.74 396.56,91.81 397.01,91.87 397.46,91.94 397.92,91.99 398.37,92.05 398.82,92.1 399.27,92.16 399.73,92.2 400.18,92.25 400.63,92.3 401.09,92.34 401.54,92.38 401.99,92.43 402.45,92.46 402.9,92.5 403.35,92.54 403.81,92.57 404.26,92.61 404.71,92.64 405.16,92.67 405.62,92.7 406.07,92.73 406.52,92.76 406.98,92.79 407.43,92.81 407.88,92.84 408.34,92.87 408.79,92.89 409.24,92.91 409.69,92.94 410.15,92.96 410.6,92.98 411.05,93 411.51,93.02 411.96,93.04 412.41,93.06 412.87,93.07 413.32,93.09 413.77,93.11 414.22,93.13 414.68,93.14 415.13,93.16 415.58,93.17 416.04,93.19 416.49,93.2 416.94,93.22 417.4,93.23 417.85,93.24 418.3,93.25 418.75,93.27 419.21,93.28 419.66,93.29 420.11,93.3 420.57,93.31 421.02,93.32 421.47,93.33 421.93,93.34 422.38,93.35 422.83,93.36 423.28,93.37 423.74,93.38 424.19,93.39 424.64,93.4 425.1,93.41 425.55,93.42 426,93.42 426.46,93.43 426.91,93.44 427.36,93.45 427.81,93.45 428.27,93.46 428.72,93.47 429.17,93.47 429.63,93.48 430.08,93.49 430.53,93.49 430.99,93.5 431.44,93.5 431.89,93.51 432.34,93.51 432.8,93.52 433.25,93.52 433.7,93.53 434.16,93.53 434.61,93.54 435.06,93.54 435.51,93.55 435.97,93.55 436.42,93.55 436.87,93.56 437.33,93.56 437.78,93.56 438.23,93.57 438.69,93.57 439.14,93.57 439.59,93.58 440.05,93.58 440.5,93.58 440.95,93.58 441.4,93.59 441.86,93.59 442.31,93.59 442.76,93.59 443.22,93.6 443.67,93.6 444.12,93.6 444.57,93.6 445.03,93.6 445.48,93.6 445.93,93.6 446.39,93.61 446.84,93.61 447.29,93.61 447.75,93.61 448.2,93.61 448.65,93.61 449.11,93.61 449.56,93.61 450.01,93.61 450.46,93.61 450.92,93.61 451.37,93.61 451.82,93.61 452.28,93.61 452.73,93.61 453.18,93.61 453.63,93.61 454.09,93.6 454.54,93.6 454.99,93.6 455.45,93.6 455.9,93.6 456.35,93.6 456.81,93.59 457.26,93.59 457.71,93.59 458.17,93.58 458.62,93.58 459.07,93.58 459.52,93.58 459.98,93.57 460.43,93.57 460.88,93.56 461.34,93.56 461.79,93.55 462.24,93.55 462.69,93.54 463.15,93.54 463.6,93.53 464.05,93.53 464.51,93.52 464.96,93.51 465.41,93.5 465.87,93.5 466.32,93.49 466.77,93.48 467.23,93.47 467.68,93.46 468.13,93.45 468.58,93.44 469.04,93.43 469.49,93.41 469.94,93.4 470.4,93.38 470.85,93.37 471.3,93.35 471.75,93.33 472.21,93.32 472.66,93.3 473.11,93.27 473.57,93.25 474.02,93.22 474.47,93.2 474.93,93.17 475.38,93.13 475.83,93.1 476.29,93.06 476.74,93.01 477.19,92.97 477.64,92.91 478.1,92.85 478.55,92.78 479,92.7 479.46,92.61 479.91,92.5 480.36,92.37 480.81,92.22 481.27,92.03 481.72,91.81 482.17,91.54 482.63,91.23 483.08,90.88 483.53,90.51 483.99,90.13 484.44,89.73 484.89,89.32 485.35,88.86 485.8,88.36 486.25,87.81 486.7,87.25 487.16,86.73 487.61,86.28 488.06,85.9 488.52,85.6 488.97,85.35 489.42,85.15 489.88,84.98 490.33,84.83 490.78,84.69 491.23,84.56 491.69,84.43 492.14,84.29 492.59,84.12 493.05,83.93 493.5,83.7 493.95,83.4 494.4,83.03 494.86,82.56 495.31,81.98 495.76,81.31 496.22,80.6 496.67,79.93 497.12,79.37 497.58,78.95 498.03,78.65 498.48,78.45 498.94,78.34 499.39,78.28 499.84,78.26 500.29,78.27 500.75,78.29 501.2,78.31 501.65,78.33 502.11,78.32 502.56,78.27 503.01,78.17 503.47,78 503.92,77.72 504.37,77.3 504.82,76.69 505.28,75.83 505.73,74.66 506.18,73.2 506.64,71.57 507.09,70.08 507.54,69.17 508,69.06 508.45,69.61 508.9,70.41 509.35,71.05 509.81,71.34 510.26,71.38 510.71,71.44 511.17,71.71 511.62,72.23 512.07,72.93 512.53,73.68 512.98,74.41 513.43,75.08 513.88,75.65 514.34,76.12 514.79,76.51 515.24,76.83 515.7,77.08 516.15,77.29 516.6,77.47 517.06,77.62 517.51,77.75 517.96,77.86 518.41,77.96 518.87,78.04 519.32,78.12 519.77,78.19 520.23,78.25 520.68,78.31 521.13,78.36 521.59,78.41 522.04,78.46 522.49,78.5 522.94,78.54 523.4,78.58 523.85,78.62 524.3,78.66 524.76,78.69 525.21,78.72 525.66,78.75 526.12,78.78 526.57,78.81 527.02,78.84 527.47,78.87 527.93,78.9 528.38,78.93 528.83,78.95 529.29,78.98 529.74,79 530.19,79.03 530.64,79.06 531.1,79.08 531.55,79.11 532,79.13 532.46,79.15 532.91,79.17 533.36,79.19 533.82,79.21 534.27,79.23 534.72,79.25 535.17,79.27 535.63,79.29 536.08,79.32 536.53,79.34 536.99,79.36 537.44,79.38 537.89,79.4 538.35,79.42 538.8,79.44 539.25,79.46 539.71,79.48 540.16,79.49 540.61,79.51 541.06,79.53 541.52,79.55 541.97,79.57 542.42,79.59 542.88,79.6 543.33,79.62 543.78,79.63 544.24,79.65 544.69,79.67 545.14,79.69 545.59,79.71 546.05,79.72 546.5,79.74 546.95,79.76 547.41,79.77 547.86,79.79 548.31,79.81 548.76,79.82 549.22,79.84 549.67,79.85 550.12,79.87 550.58,79.89 551.03,79.9 551.48,79.92 551.94,79.93 552.39,79.95 552.84,79.96 553.3,79.98 553.75,79.99 554.2,80.01 554.65,80.02 555.11,80.03 555.56,80.05 556.01,80.06 556.47,80.08 556.92,80.09 557.37,80.11 557.83,80.12 558.28,80.13 558.73,80.15 559.18,80.16 559.64,80.18 560.09,80.19 560.54,80.21 561,80.22 561.45,80.23 561.9,80.24 562.36,80.26 562.81,80.27 563.26,80.28 563.71,80.29 564.17,80.31 564.62,80.32 565.07,80.33 565.53,80.34 565.98,80.36 566.43,80.37 566.88,80.38 567.34,80.4 567.79,80.41 568.24,80.42 568.7,80.44 569.15,80.45 569.6,80.46 570.06,80.47 570.51,80.48 570.96,80.49 571.41,80.51 571.87,80.52 572.32,80.53 572.77,80.54 573.23,80.56 573.68,80.57 574.13,80.58 574.59,80.59 575.04,80.6 575.49,80.61 575.95,80.62 576.4,80.63 576.85,80.64 577.3,80.65 577.76,80.66 578.21,80.67 578.66,80.68 579.12,80.69 579.57,80.71 580.02,80.72 580.48,80.73 580.93,80.74 581.38,80.75 581.83,80.76 582.29,80.77 582.74,80.78 583.19,80.79 583.65,80.8 584.1,80.81 584.55,80.82 585,80.83 585.46,80.83 585.91,80.84 586.36,80.85 586.82,80.86 587.27,80.87 587.72,80.88 588.18,80.89 588.63,80.9 589.08,80.91 589.53,80.92 589.99,80.93 590.44,80.94 590.89,80.94 591.35,80.95 591.8,80.96 592.25,80.98 592.71,80.99 593.16,80.99 593.61,81 594.07,81.01 594.52,81.02 594.97,81.03 595.42,81.04 595.88,81.05 596.33,81.05 596.78,81.06 597.24,81.07 597.69,81.08 598.14,81.09 598.6,81.1 599.05,81.11 599.5,81.11 599.95,81.12 600.41,81.12 600.86,81.13 601.31,81.14 601.77,81.15 602.22,81.16 602.67,81.16 603.12,81.17 603.58,81.18 604.03,81.18 604.48,81.19 604.94,81.2 605.39,81.21 605.84,81.22 606.3,81.22 606.75,81.23 607.2,81.23 607.65,81.24 608.11,81.25 608.56,81.26 609.01,81.26 609.47,81.27 609.92,81.28 610.37,81.28 610.83,81.29 611.28,81.29 611.73,81.3 612.18,81.31 612.64,81.32 613.09,81.32 613.54,81.33 614,81.33 614.45,81.34 614.9,81.34 615.36,81.34 615.81,81.34 616.26,81.34 616.72,81.35 617.17,81.35 617.62,81.35 618.07,81.35 618.53,81.34 618.98,81.34 619.43,81.33 619.89,81.32 620.34,81.31 620.79,81.3 621.25,81.29 621.7,81.28 622.15,81.27 622.6,81.25 623.06,81.23 623.51,81.21 623.96,81.19 624.42,81.16 624.87,81.14 625.32,81.13 625.77,81.12 626.23,81.1 626.68,81.09 627.13,81.08 627.59,81.07 628.04,81.06 628.49,81.04 628.95,81.03 629.4,81.02 629.85,81.01 630.31,81 630.76,80.99 631.21,80.98 631.66,80.97 632.12,80.96 632.57,80.95 633.02,80.93 633.48,80.92 633.93,80.9 634.38,80.88 634.84,80.86 635.29,80.84 635.74,80.82 636.19,80.8 636.65,80.78 637.1,80.77"/>
<polyline points="365.3,-48.03 365.35,-48.03 365.39,-48.03 365.44,-48.03 365.48,-48.03 365.53,-48.03 365.57,-48.03 365.62,-48.03 365.66,-48.03 365.71,-48.03 365.75,-48.03 365.8,-48.03 365.84,-48.03 365.89,-48.03 365.93,-48.03 365.98,-48.03 366.02,-48.03 366.07,-48.03 366.12,-48.03 366.16,-48.03 366.21,-48.03 366.25,-48.03 366.3,-48.03 366.34,-48.03 366.39,-48.03 366.43,-48.03 366.48,-48.03 366.52,-48.03 366.57,-48.03 366.61,-48.03 366.66,-48.03 366.7,-48.03 366.75,-48.03 366.79,-48.03 366.84,-48.03 366.89,-48.03 366.93,-48.03 366.98,-48.03 367.02,-48.03 367.07,-48.03 367.11,-48.03 367.16,-48.03 367.2,-48.03 367.25,-48.03 367.29,-48.03 367.34,-48.03 367.38,-48.03 367.43,-48.03 367.47,-48.03 367.52,-48.03 367.56,-48.03 367.61,-48.03 367.66,-48.03 367.7,-48.03 367.75,-48.03 367.79,-48.03 367.84,-48.03 367.88,-48.03 367.93,-48.03 367.97,-48.03 368.02,-48.03 368.06,-48.03 368.11,-48.03 368.15,-48.03 368.2,-48.03 368.24,-48.03 368.29,-48.03 368.34,-48.03 368.38,-48.03 368.43,-48.03 368.47,-48.03 368.52,-48.03 368.56,-48.03 368.61,-48.03 368.65,-48.03 368.7,-48.03 368.74,-48.03 368.79,-48.03 368.83,-48.03 368.88,-48.03 368.92,-48.03 368.97,-48.03 369.01,-48.03 369.06,-48.03 369.11,-48.03 369.15,-48.03 369.2,-48.03 369.24,-48.03 369.29,-48.03 369.33,-48.03 369.38,-48.03 369.42,-48.03 369.47,-48.03 369.51,-48.03 369.56,-48.03 369.6,-48.03 369.65,-48.03 369.69,-48.03 369.74,-48.03 369.78,-46.18 369.83,-43.89 369.88,-41.66 369.92,-39.49 369.97,-37.39 370.01,-35.34 370.06,-33.36 370.1,-31.42 370.15,-29.55 370.19,-27.72 370.24,-25.94 370.28,-24.21 370.33,-22.53 370.37,-20.89 370.42,-19.29 370.46,-17.74 370.51,-16.22 370.55,-14.75 370.6,-13.31 370.65,-11.91 370.69,-10.54 370.74,-9.2 370.78,-7.9 370.83,-6.63 370.87,-5.39 370.92,-4.18 370.96,-3 371.01,-1.85 371.05,-0.72 371.1,0.38 371.14,1.45 371.19,2.5 371.23,3.53 371.28,4.53 371.32,5.52 371.37,6.47 371.42,7.41 371.46,8.33 371.51,9.23 371.55,10.11 371.6,10.97 371.64,11.81 371.69,12.63 371.73,13.44 371.78,14.23 371.82,15 371.87,15.76 371.91,16.5 371.96,17.23 372,17.95 372.05,18.64 372.1,19.33 372.14,20 372.19,20.66 372.23,21.3 372.28,21.94 372.32,22.56 372.37,23.17 372.41,23.76 372.46,24.35 372.5,24.93 372.55,25.49 372.59,26.04 372.64,26.59 372.68,27.12 372.73,27.65 372.77,28.16 372.82,28.67 372.87,29.16 372.91,29.65 372.96,30.13 373,30.6 373.05,31.06 373.09,31.52 373.14,31.96 373.18,32.4 373.23,32.84 373.27,33.26 373.32,33.68 373.36,34.09 373.41,34.49 373.45,34.89 373.5,35.28 373.54,35.66 373.59,36.04 373.64,36.41 373.68,36.78 373.73,37.14 373.77,37.49 373.82,37.84 373.86,38.18 373.91,38.52 373.95,38.85 374,39.18 374.04,39.5 374.09,39.82 374.13,40.13 374.18,40.43 374.22,40.74 374.27,41.04 374.31,41.33 374.36,41.62 374.81,44.29 375.27,46.6 375.72,48.62 376.17,50.4 376.62,51.96 377.08,53.35 377.53,54.59 377.98,55.7 378.44,56.69 378.89,57.59 379.34,58.4 379.8,59.14 380.25,59.81 380.7,60.42 381.16,60.99 381.61,61.5 382.06,61.97 382.51,62.41 382.97,62.82 383.42,63.19 383.87,63.54 384.33,63.86 384.78,64.16 385.23,64.44 385.69,64.7 386.14,64.94 386.59,65.17 387.04,65.39 387.5,65.59 387.95,65.78 388.4,65.96 388.86,66.13 389.31,66.29 389.76,66.44 390.22,66.58 390.67,66.71 391.12,66.84 391.57,66.96 392.03,67.08 392.48,67.19 392.93,67.29 393.39,67.39 393.84,67.48 394.29,67.57 394.75,67.66 395.2,67.74 395.65,67.82 396.1,67.89 396.56,67.96 397.01,68.03 397.46,68.1 397.92,68.16 398.37,68.22 398.82,68.28 399.27,68.33 399.73,68.39 400.18,68.44 400.63,68.49 401.09,68.53 401.54,68.58 401.99,68.62 402.45,68.66 402.9,68.7 403.35,68.74 403.81,68.78 404.26,68.82 404.71,68.85 405.16,68.89 405.62,68.92 406.07,68.95 406.52,68.98 406.98,69.01 407.43,69.04 407.88,69.07 408.34,69.09 408.79,69.12 409.24,69.15 409.69,69.17 410.15,69.19 410.6,69.22 411.05,69.24 411.51,69.26 411.96,69.28 412.41,69.3 412.87,69.32 413.32,69.34 413.77,69.36 414.22,69.37 414.68,69.39 415.13,69.41 415.58,69.42 416.04,69.44 416.49,69.46 416.94,69.47 417.4,69.49 417.85,69.5 418.3,69.51 418.75,69.53 419.21,69.54 419.66,69.55 420.11,69.56 420.57,69.58 421.02,69.59 421.47,69.6 421.93,69.61 422.38,69.62 422.83,69.63 423.28,69.64 423.74,69.65 424.19,69.66 424.64,69.67 425.1,69.68 425.55,69.69 426,69.7 426.46,69.71 426.91,69.71 427.36,69.72 427.81,69.73 428.27,69.74 428.72,69.74 429.17,69.75 429.63,69.76 430.08,69.76 430.53,69.77 430.99,69.78 431.44,69.78 431.89,69.79 432.34,69.8 432.8,69.8 433.25,69.81 433.7,69.81 434.16,69.82 434.61,69.82 435.06,69.83 435.51,69.83 435.97,69.84 436.42,69.84 436.87,69.84 437.33,69.85 437.78,69.85 438.23,69.86 438.69,69.86 439.14,69.86 439.59,69.87 440.05,69.87 440.5,69.87 440.95,69.88 441.4,69.88 441.86,69.88 442.31,69.88 442.76,69.89 443.22,69.89 443.67,69.89 444.12,69.89 444.57,69.89 445.03,69.9 445.48,69.9 445.93,69.9 446.39,69.9 446.84,69.9 447.29,69.9 447.75,69.9 448.2,69.9 448.65,69.91 449.11,69.91 449.56,69.91 450.01,69.91 450.46,69.91 450.92,69.91 451.37,69.91 451.82,69.91 452.28,69.91 452.73,69.9 453.18,69.9 453.63,69.9 454.09,69.9 454.54,69.9 454.99,69.9 455.45,69.9 455.9,69.89 456.35,69.89 456.81,69.89 457.26,69.89 457.71,69.88 458.17,69.88 458.62,69.88 459.07,69.87 459.52,69.87 459.98,69.87 460.43,69.86 460.88,69.86 461.34,69.85 461.79,69.84 462.24,69.84 462.69,69.83 463.15,69.82 463.6,69.82 464.05,69.81 464.51,69.8 464.96,69.79 465.41,69.78 465.87,69.77 466.32,69.76 466.77,69.75 467.23,69.74 467.68,69.72 468.13,69.71 468.58,69.69 469.04,69.67 469.49,69.66 469.94,69.64 470.4,69.61 470.85,69.59 471.3,69.56 471.75,69.54 472.21,69.51 472.66,69.47 473.11,69.43 473.57,69.39 474.02,69.34 474.47,69.29 474.93,69.23 475.38,69.16 475.83,69.08 476.29,68.98 476.74,68.87 477.19,68.74 477.64,68.58 478.1,68.38 478.55,68.14 479,67.86 479.46,67.55 479.91,67.21 480.36,66.86 480.81,66.52 481.27,66.19 481.72,65.83 482.17,65.45 482.63,65.01 483.08,64.52 483.53,63.98 483.99,63.42 484.44,62.9 484.89,62.45 485.35,62.08 485.8,61.78 486.25,61.55 486.7,61.36 487.16,61.21 487.61,61.08 488.06,60.97 488.52,60.88 488.97,60.79 489.42,60.71 489.88,60.62 490.33,60.53 490.78,60.42 491.23,60.29 491.69,60.14 492.14,59.94 492.59,59.69 493.05,59.37 493.5,58.96 493.95,58.43 494.4,57.8 494.86,57.08 495.31,56.36 495.76,55.71 496.22,55.19 496.67,54.81 497.12,54.57 497.58,54.43 498.03,54.37 498.48,54.38 498.94,54.42 499.39,54.49 499.84,54.58 500.29,54.69 500.75,54.79 501.2,54.89 501.65,54.97 502.11,55.03 502.56,55.05 503.01,55.02 503.47,54.92 503.92,54.71 504.37,54.36 504.82,53.83 505.28,53.05 505.73,51.98 506.18,50.62 506.64,49.11 507.09,47.82 507.54,47.22 508,47.6 508.45,48.81 508.9,50.39 509.35,51.85 509.81,52.97 510.26,53.79 510.71,54.54 511.17,55.4 511.62,56.41 512.07,57.48 512.53,58.52 512.98,59.49 513.43,60.36 513.88,61.13 514.34,61.81 514.79,62.39 515.24,62.87 515.7,63.28 516.15,63.61 516.6,63.89 517.06,64.12 517.51,64.32 517.96,64.49 518.41,64.64 518.87,64.77 519.32,64.88 519.77,64.99 520.23,65.08 520.68,65.16 521.13,65.23 521.59,65.3 522.04,65.36 522.49,65.41 522.94,65.46 523.4,65.5 523.85,65.54 524.3,65.58 524.76,65.61 525.21,65.64 525.66,65.67 526.12,65.69 526.57,65.71 527.02,65.72 527.47,65.74 527.93,65.74 528.38,65.75 528.83,65.75 529.29,65.75 529.74,65.74 530.19,65.73 530.64,65.71 531.1,65.68 531.55,65.64 532,65.6 532.46,65.54 532.91,65.47 533.36,65.38 533.82,65.27 534.27,65.13 534.72,64.96 535.17,64.75 535.63,64.48 536.08,64.16 536.53,63.78 536.99,63.36 537.44,62.9 537.89,62.41 538.35,61.91 538.8,61.37 539.25,60.81 539.71,60.23 540.16,59.65 540.61,59.12 541.06,58.66 541.52,58.27 541.97,57.96 542.42,57.71 542.88,57.51 543.33,57.35 543.78,57.22 544.24,57.12 544.69,57.03 545.14,56.96 545.59,56.9 546.05,56.85 546.5,56.81 546.95,56.77 547.41,56.74 547.86,56.72 548.31,56.7 548.76,56.68 549.22,56.66 549.67,56.65 550.12,56.64 550.58,56.63 551.03,56.63 551.48,56.62 551.94,56.62 552.39,56.62 552.84,56.61 553.3,56.61 553.75,56.62 554.2,56.62 554.65,56.62 555.11,56.62 555.56,56.63 556.01,56.63 556.47,56.63 556.92,56.64 557.37,56.65 557.83,56.65 558.28,56.66 558.73,56.67 559.18,56.67 559.64,56.68 560.09,56.69 560.54,56.7 561,56.7 561.45,56.71 561.9,56.72 562.36,56.73 562.81,56.73 563.26,56.74 563.71,56.75 564.17,56.76 564.62,56.77 565.07,56.78 565.53,56.78 565.98,56.79 566.43,56.8 566.88,56.81 567.34,56.82 567.79,56.83 568.24,56.84 568.7,56.85 569.15,56.86 569.6,56.87 570.06,56.88 570.51,56.89 570.96,56.9 571.41,56.91 571.87,56.92 572.32,56.93 572.77,56.94 573.23,56.95 573.68,56.96 574.13,56.97 574.59,56.98 575.04,56.99 575.49,56.99 575.95,57 576.4,57.01 576.85,57.02 577.3,57.03 577.76,57.04 578.21,57.05 578.66,57.06 579.12,57.07 579.57,57.08 580.02,57.09 580.48,57.1 580.93,57.11 581.38,57.12 581.83,57.13 582.29,57.14 582.74,57.14 583.19,57.15 583.65,57.16 584.1,57.17 584.55,57.18 585,57.19 585.46,57.19 585.91,57.2 586.36,57.21 586.82,57.22 587.27,57.23 587.72,57.24 588.18,57.25 588.63,57.25 589.08,57.26 589.53,57.27 589.99,57.28 590.44,57.29 590.89,57.3 591.35,57.3 591.8,57.31 592.25,57.32 592.71,57.33 593.16,57.34 593.61,57.35 594.07,57.36 594.52,57.37 594.97,57.37 595.42,57.38 595.88,57.39 596.33,57.4 596.78,57.41 597.24,57.41 597.69,57.42 598.14,57.43 598.6,57.44 599.05,57.45 599.5,57.45 599.95,57.46 600.41,57.47 600.86,57.47 601.31,57.48 601.77,57.49 602.22,57.5 602.67,57.51 603.12,57.51 603.58,57.52 604.03,57.53 604.48,57.53 604.94,57.54 605.39,57.55 605.84,57.56 606.3,57.56 606.75,57.57 607.2,57.58 607.65,57.58 608.11,57.59 608.56,57.6 609.01,57.61 609.47,57.61 609.92,57.62 610.37,57.63 610.83,57.63 611.28,57.64 611.73,57.64 612.18,57.65 612.64,57.66 613.09,57.67 613.54,57.68 614,57.68 614.45,57.69 614.9,57.69 615.36,57.69 615.81,57.7 616.26,57.7 616.72,57.71 617.17,57.71 617.62,57.72 618.07,57.72 618.53,57.72 618.98,57.73 619.43,57.73 619.89,57.73 620.34,57.73 620.79,57.74 621.25,57.74 621.7,57.74 622.15,57.74 622.6,57.73 623.06,57.73 623.51,57.72 623.96,57.71 624.42,57.71 624.87,57.7 625.32,57.7 625.77,57.7 626.23,57.69 626.68,57.69 627.13,57.68 627.59,57.67 628.04,57.66 628.49,57.65 628.95,57.64 629.4,57.63 629.85,57.63 630.31,57.62 630.76,57.61 631.21,57.61 631.66,57.6 632.12,57.6 632.57,57.59 633.02,57.58 633.48,57.57 633.93,57.57 634.38,57.56 634.84,57.55 635.29,57.54 635.74,57.54 636.19,57.53 636.65,57.52 637.1,57.51"/>
<polyline points="365.3,-48.03 365.35,-48.03 365.39,-48.03 365.44,-48.03 365.48,-48.03 365.53,-48.03 365.57,-48.03 365.62,-48.03 365.66,-48.03 365.71,-48.03 365.75,-48.03 365.8,-48.03 365.84,-48.03 365.89,-48.03 365.93,-48.03 365.98,-48.03 366.02,-48.03 366.07,-48.03 366.12,-48.03 366.16,-48.03 366.21,-48.03 366.25,-48.03 366.3,-48.03 366.34,-48.03 366.39,-48.03 366.43,-48.03 366.48,-48.03 366.52,-48.03 366.57,-48.03 366.61,-48.03 366.66,-48.03 366.7,-48.03 366.75,-48.03 366.79,-48.03 366.84,-48.03 366.89,-48.03 366.93,-48.03 366.98,-48.03 367.02,-48.03 367.07,-48.03 367.11,-48.03 367.16,-48.03 367.2,-48.03 367.25,-48.03 367.29,-48.03 367.34,-48.03 367.38,-48.03 367.43,-48.03 367.47,-48.03 367.52,-48.03 367.56,-48.03 367.61,-48.03 367.66,-48.03 367.7,-48.03 367.75,-48.03 367.79,-48.03 367.84,-48.03 367.88,-48.03 367.93,-48.03 367.97,-48.03 368.02,-48.03 368.06,-48.03 368.11,-48.03 368.15,-48.03 368.2,-48.03 368.24,-48.03 368.29,-48.03 368.34,-48.03 368.38,-48.03 368.43,-48.03 368.47,-48.03 368.52,-48.03 368.56,-48.03 368.61,-48.03 368.65,-48.03 368.7,-48.03 368.74,-48.03 368.79,-48.03 368.83,-48.03 368.88,-48.03 368.92,-48.03 368.97,-48.03 369.01,-48.03 369.06,-48.03 369.11,-48.03 369.15,-48.03 369.2,-48.03 369.24,-48.03 369.29,-48.03 369.33,-48.03 369.38,-48.03 369.42,-48.03 369.47,-48.03 369.51,-48.03 369.56,-48.03 369.6,-48.03 369.65,-48.03 369.69,-48.03 369.74,-48.03 369.78,-48.03 369.83,-48.03 369.88,-48.03 369.92,-48.03 369.97,-48.03 370.01,-48.03 370.06,-48.03 370.1,-48.03 370.15,-48.03 370.19,-48.03 370.24,-48.03 370.28,-48.03 370.33,-48.03 370.37,-48.03 370.42,-48.03 370.46,-48.03 370.51,-48.03 370.55,-48.03 370.6,-48.03 370.65,-48.03 370.69,-47.23 370.74,-45.68 370.78,-44.17 370.83,-42.69 370.87,-41.26 370.92,-39.85 370.96,-38.48 371.01,-37.14 371.05,-35.84 371.1,-34.56 371.14,-33.31 371.19,-32.09 371.23,-30.9 371.28,-29.74 371.32,-28.6 371.37,-27.48 371.42,-26.39 371.46,-25.33 371.51,-24.29 371.55,-23.27 371.6,-22.27 371.64,-21.29 371.69,-20.33 371.73,-19.4 371.78,-18.48 371.82,-17.58 371.87,-16.7 371.91,-15.84 371.96,-15 372,-14.17 372.05,-13.36 372.1,-12.57 372.14,-11.79 372.19,-11.02 372.23,-10.27 372.28,-9.54 372.32,-8.82 372.37,-8.11 372.41,-7.42 372.46,-6.74 372.5,-6.07 372.55,-5.42 372.59,-4.77 372.64,-4.14 372.68,-3.52 372.73,-2.91 372.77,-2.32 372.82,-1.73 372.87,-1.15 372.91,-0.59 372.96,-0.03 373,0.52 373.05,1.05 373.09,1.58 373.14,2.1 373.18,2.61 373.23,3.11 373.27,3.6 373.32,4.09 373.36,4.56 373.41,5.03 373.45,5.49 373.5,5.94 373.54,6.39 373.59,6.83 373.64,7.26 373.68,7.68 373.73,8.1 373.77,8.51 373.82,8.91 373.86,9.31 373.91,9.7 373.95,10.09 374,10.47 374.04,10.84 374.09,11.21 374.13,11.57 374.18,11.93 374.22,12.28 374.27,12.63 374.31,12.97 374.36,13.3 374.81,16.4 375.27,19.09 375.72,21.43 376.17,23.49 376.62,25.31 377.08,26.92 377.53,28.36 377.98,29.64 378.44,30.8 378.89,31.84 379.34,32.78 379.8,33.64 380.25,34.42 380.7,35.13 381.16,35.78 381.61,36.38 382.06,36.93 382.51,37.43 382.97,37.9 383.42,38.34 383.87,38.74 384.33,39.11 384.78,39.46 385.23,39.79 385.69,40.09 386.14,40.37 386.59,40.64 387.04,40.89 387.5,41.12 387.95,41.34 388.4,41.55 388.86,41.75 389.31,41.93 389.76,42.11 390.22,42.27 390.67,42.43 391.12,42.58 391.57,42.72 392.03,42.85 392.48,42.98 392.93,43.1 393.39,43.21 393.84,43.32 394.29,43.42 394.75,43.52 395.2,43.62 395.65,43.71 396.1,43.8 396.56,43.88 397.01,43.96 397.46,44.03 397.92,44.11 398.37,44.18 398.82,44.24 399.27,44.31 399.73,44.37 400.18,44.43 400.63,44.49 401.09,44.54 401.54,44.59 401.99,44.64 402.45,44.69 402.9,44.74 403.35,44.79 403.81,44.83 404.26,44.87 404.71,44.91 405.16,44.95 405.62,44.99 406.07,45.03 406.52,45.06 406.98,45.1 407.43,45.13 407.88,45.16 408.34,45.19 408.79,45.22 409.24,45.25 409.69,45.28 410.15,45.31 410.6,45.34 411.05,45.36 411.51,45.39 411.96,45.41 412.41,45.43 412.87,45.46 413.32,45.48 413.77,45.5 414.22,45.52 414.68,45.54 415.13,45.56 415.58,45.58 416.04,45.6 416.49,45.62 416.94,45.63 417.4,45.65 417.85,45.67 418.3,45.68 418.75,45.7 419.21,45.71 419.66,45.73 420.11,45.74 420.57,45.76 421.02,45.77 421.47,45.78 421.93,45.8 422.38,45.81 422.83,45.82 423.28,45.83 423.74,45.85 424.19,45.86 424.64,45.87 425.1,45.88 425.55,45.89 426,45.9 426.46,45.91 426.91,45.92 427.36,45.93 427.81,45.94 428.27,45.95 428.72,45.95 429.17,45.96 429.63,45.97 430.08,45.98 430.53,45.99 430.99,45.99 431.44,46 431.89,46.01 432.34,46.01 432.8,46.02 433.25,46.03 433.7,46.03 434.16,46.04 434.61,46.05 435.06,46.05 435.51,46.06 435.97,46.06 436.42,46.07 436.87,46.07 437.33,46.08 437.78,46.08 438.23,46.09 438.69,46.09 439.14,46.1 439.59,46.1 440.05,46.1 440.5,46.11 440.95,46.11 441.4,46.11 441.86,46.12 442.31,46.12 442.76,46.12 443.22,46.13 443.67,46.13 444.12,46.13 444.57,46.13 445.03,46.14 445.48,46.14 445.93,46.14 446.39,46.14 446.84,46.14 447.29,46.14 447.75,46.15 448.2,46.15 448.65,46.15 449.11,46.15 449.56,46.15 450.01,46.15 450.46,46.15 450.92,46.15 451.37,46.15 451.82,46.15 452.28,46.15 452.73,46.15 453.18,46.15 453.63,46.14 454.09,46.14 454.54,46.14 454.99,46.14 455.45,46.14 455.9,46.13 456.35,46.13 456.81,46.13 457.26,46.13 457.71,46.12 458.17,46.12 458.62,46.11 459.07,46.11 459.52,46.1 459.98,46.1 460.43,46.09 460.88,46.08 461.34,46.08 461.79,46.07 462.24,46.06 462.69,46.05 463.15,46.04 463.6,46.03 464.05,46.02 464.51,46.01 464.96,46 465.41,45.98 465.87,45.97 466.32,45.95 466.77,45.93 467.23,45.92 467.68,45.89 468.13,45.87 468.58,45.85 469.04,45.82 469.49,45.79 469.94,45.76 470.4,45.72 470.85,45.68 471.3,45.63 471.75,45.58 472.21,45.51 472.66,45.44 473.11,45.36 473.57,45.27 474.02,45.15 474.47,45.01 474.93,44.84 475.38,44.64 475.83,44.39 476.29,44.11 476.74,43.79 477.19,43.46 477.64,43.14 478.1,42.83 478.55,42.53 479,42.23 479.46,41.9 479.91,41.54 480.36,41.11 480.81,40.62 481.27,40.09 481.72,39.53 482.17,39.01 482.63,38.55 483.08,38.17 483.53,37.87 483.99,37.64 484.44,37.45 484.89,37.3 485.35,37.18 485.8,37.08 486.25,36.99 486.7,36.92 487.16,36.85 487.61,36.79 488.06,36.73 488.52,36.67 488.97,36.6 489.42,36.52 489.88,36.42 490.33,36.3 490.78,36.16 491.23,35.97 491.69,35.73 492.14,35.41 492.59,35.01 493.05,34.49 493.5,33.84 493.95,33.11 494.4,32.34 494.86,31.64 495.31,31.06 495.76,30.64 496.22,30.36 496.67,30.2 497.12,30.13 497.58,30.12 498.03,30.17 498.48,30.25 498.94,30.36 499.39,30.48 499.84,30.61 500.29,30.74 500.75,30.87 501.2,30.98 501.65,31.08 502.11,31.14 502.56,31.17 503.01,31.13 503.47,31.02 503.92,30.8 504.37,30.43 504.82,29.87 505.28,29.04 505.73,27.91 506.18,26.47 506.64,24.86 507.09,23.46 507.54,22.73 508,23.02 508.45,24.21 508.9,25.85 509.35,27.42 509.81,28.67 510.26,29.6 510.71,30.44 511.17,31.37 511.62,32.42 512.07,33.52 512.53,34.57 512.98,35.53 513.43,36.38 513.88,37.14 514.34,37.81 514.79,38.41 515.24,38.93 515.7,39.39 516.15,39.78 516.6,40.11 517.06,40.39 517.51,40.63 517.96,40.83 518.41,41 518.87,41.15 519.32,41.29 519.77,41.41 520.23,41.51 520.68,41.61 521.13,41.7 521.59,41.78 522.04,41.85 522.49,41.92 522.94,41.99 523.4,42.05 523.85,42.1 524.3,42.15 524.76,42.2 525.21,42.25 525.66,42.3 526.12,42.34 526.57,42.38 527.02,42.42 527.47,42.46 527.93,42.49 528.38,42.53 528.83,42.56 529.29,42.59 529.74,42.62 530.19,42.65 530.64,42.68 531.1,42.71 531.55,42.74 532,42.76 532.46,42.79 532.91,42.81 533.36,42.83 533.82,42.85 534.27,42.87 534.72,42.9 535.17,42.92 535.63,42.94 536.08,42.96 536.53,42.98 536.99,43 537.44,43.02 537.89,43.03 538.35,43.05 538.8,43.07 539.25,43.08 539.71,43.1 540.16,43.12 540.61,43.13 541.06,43.14 541.52,43.16 541.97,43.17 542.42,43.18 542.88,43.2 543.33,43.21 543.78,43.22 544.24,43.23 544.69,43.24 545.14,43.25 545.59,43.25 546.05,43.26 546.5,43.27 546.95,43.28 547.41,43.28 547.86,43.29 548.31,43.29 548.76,43.29 549.22,43.3 549.67,43.3 550.12,43.3 550.58,43.3 551.03,43.29 551.48,43.29 551.94,43.28 552.39,43.28 552.84,43.27 553.3,43.25 553.75,43.24 554.2,43.22 554.65,43.21 555.11,43.18 555.56,43.15 556.01,43.12 556.47,43.09 556.92,43.04 557.37,42.99 557.83,42.93 558.28,42.85 558.73,42.76 559.18,42.65 559.64,42.52 560.09,42.36 560.54,42.16 561,41.91 561.45,41.62 561.9,41.27 562.36,40.89 562.81,40.48 563.26,40.06 563.71,39.64 564.17,39.2 564.62,38.75 565.07,38.29 565.53,37.81 565.98,37.31 566.43,36.8 566.88,36.31 567.34,35.87 567.79,35.49 568.24,35.17 568.7,34.92 569.15,34.71 569.6,34.55 570.06,34.41 570.51,34.3 570.96,34.21 571.41,34.13 571.87,34.07 572.32,34.01 572.77,33.97 573.23,33.93 573.68,33.89 574.13,33.86 574.59,33.83 575.04,33.81 575.49,33.79 575.95,33.77 576.4,33.75 576.85,33.74 577.3,33.73 577.76,33.72 578.21,33.71 578.66,33.7 579.12,33.7 579.57,33.69 580.02,33.69 580.48,33.69 580.93,33.69 581.38,33.68 581.83,33.68 582.29,33.68 582.74,33.68 583.19,33.68 583.65,33.68 584.1,33.68 584.55,33.68 585,33.69 585.46,33.69 585.91,33.69 586.36,33.69 586.82,33.7 587.27,33.7 587.72,33.7 588.18,33.7 588.63,33.71 589.08,33.71 589.53,33.72 589.99,33.72 590.44,33.73 590.89,33.73 591.35,33.74 591.8,33.74 592.25,33.75 592.71,33.75 593.16,33.76 593.61,33.76 594.07,33.77 594.52,33.77 594.97,33.78 595.42,33.79 595.88,33.79 596.33,33.8 596.78,33.8 597.24,33.81 597.69,33.82 598.14,33.82 598.6,33.83 599.05,33.83 599.5,33.84 599.95,33.84 600.41,33.85 600.86,33.85 601.31,33.86 601.77,33.87 602.22,33.87 602.67,33.88 603.12,33.88 603.58,33.89 604.03,33.89 604.48,33.9 604.94,33.91 605.39,33.91 605.84,33.92 606.3,33.93 606.75,33.93 607.2,33.94 607.65,33.94 608.11,33.95 608.56,33.96 609.01,33.96 609.47,33.97 609.92,33.97 610.37,33.98 610.83,33.98 611.28,33.99 611.73,34 612.18,34 612.64,34.01 613.09,34.02 613.54,34.03 614,34.03 614.45,34.03 614.9,34.04 615.36,34.04 615.81,34.04 616.26,34.05 616.72,34.05 617.17,34.06 617.62,34.06 618.07,34.06 618.53,34.07 618.98,34.07 619.43,34.07 619.89,34.07 620.34,34.07 620.79,34.07 621.25,34.08 621.7,34.08 622.15,34.07 622.6,34.07 623.06,34.06 623.51,34.06 623.96,34.05 624.42,34.04 624.87,34.04 625.32,34.03 625.77,34.03 626.23,34.03 626.68,34.02 627.13,34.01 627.59,34 628.04,33.99 628.49,33.98 628.95,33.97 629.4,33.96 629.85,33.96 630.31,33.95 630.76,33.95 631.21,33.94 631.66,33.93 632.12,33.93 632.57,33.92 633.02,33.91 633.48,33.91 633.93,33.9 634.38,33.89 634.84,33.88 635.29,33.87 635.74,33.87 636.19,33.86 636.65,33.85 637.1,33.84"/>
</g>
<path d="M566.07 409.84v15M538.98 386.47v15M509.72 360.76v15M493.59 330.95v15M474.84 301.22v15M454.09 296v15M432.07 271.42v15M403.35 248.21v15M367.84 207.42v15M403.35 198.48v15M432.34 174.41v15M454.18 152.4v15M474.02 129.05v15M492.05 97.19v15M508.36 62v15M535.08 57.29v15M560.81 34.51v15" stroke="#000" stroke-width="1.3" fill="none" clip-path="url(#cr)"/>
<polyline points="507.54,22.73 507.54,47.22 508,69.06 507.54,85.85 507.54,110.43 507.54,135.55 507.54,161.33 508,188.43 508.9,219.77" fill="none" stroke="#e8312f" stroke-width="1" stroke-dasharray="2.2 1.3"/>
<polyline points="485.53,220.46 477.19,232.99 477.19,249.44 477.19,268.3 477.64,291.32 477.64,319.94 477.64,341.01 477.64,360.05 477.64,379.78" fill="none" stroke="#e8312f" stroke-width="1" stroke-dasharray="2.2 1.3"/>
<circle cx="507.54" cy="22.73" r="2.6" fill="none" stroke="#e8312f" stroke-width="1"/>
<circle cx="507.54" cy="47.22" r="2.6" fill="none" stroke="#e8312f" stroke-width="1"/>
<circle cx="508" cy="69.06" r="2.6" fill="none" stroke="#e8312f" stroke-width="1"/>
<circle cx="507.54" cy="85.85" r="2.6" fill="none" stroke="#e8312f" stroke-width="1"/>
<circle cx="507.54" cy="110.43" r="2.6" fill="none" stroke="#e8312f" stroke-width="1"/>
<circle cx="507.54" cy="135.55" r="2.6" fill="none" stroke="#e8312f" stroke-width="1"/>
<circle cx="507.54" cy="161.33" r="2.6" fill="none" stroke="#e8312f" stroke-width="1"/>
<circle cx="508" cy="188.43" r="2.6" fill="none" stroke="#e8312f" stroke-width="1"/>
<circle cx="508.9" cy="219.77" r="2.6" fill="none" stroke="#e8312f" stroke-width="1"/>
<circle cx="485.53" cy="220.46" r="2.6" fill="none" stroke="#e8312f" stroke-width="1"/>
<circle cx="477.19" cy="232.99" r="2.6" fill="none" stroke="#e8312f" stroke-width="1"/>
<circle cx="477.19" cy="249.44" r="2.6" fill="none" stroke="#e8312f" stroke-width="1"/>
<circle cx="477.19" cy="268.3" r="2.6" fill="none" stroke="#e8312f" stroke-width="1"/>
<circle cx="477.64" cy="291.32" r="2.6" fill="none" stroke="#e8312f" stroke-width="1"/>
<circle cx="477.64" cy="319.94" r="2.6" fill="none" stroke="#e8312f" stroke-width="1"/>
<circle cx="477.64" cy="341.01" r="2.6" fill="none" stroke="#e8312f" stroke-width="1"/>
<circle cx="477.64" cy="360.05" r="2.6" fill="none" stroke="#e8312f" stroke-width="1"/>
<circle cx="477.64" cy="379.78" r="2.6" fill="none" stroke="#e8312f" stroke-width="1"/>
<rect x="365.3" y="18.2" width="271.9" height="407.8" fill="none" stroke="#000" stroke-width="1.4"/>
<path d="M365.3 425.97h4.2M637.2 425.97h-4.2M365.3 421.23h2.3M637.2 421.23h-2.3M365.3 416.49h2.3M637.2 416.49h-2.3M365.3 411.75h2.3M637.2 411.75h-2.3M365.3 407.01h2.3M637.2 407.01h-2.3M365.3 402.27h2.3M637.2 402.27h-2.3M365.3 397.53h2.3M637.2 397.53h-2.3M365.3 392.79h2.3M637.2 392.79h-2.3M365.3 388.05h2.3M637.2 388.05h-2.3M365.3 383.31h2.3M637.2 383.31h-2.3M365.3 378.57h4.2M637.2 378.57h-4.2M365.3 373.83h2.3M637.2 373.83h-2.3M365.3 369.09h2.3M637.2 369.09h-2.3M365.3 364.35h2.3M637.2 364.35h-2.3M365.3 359.61h2.3M637.2 359.61h-2.3M365.3 354.87h2.3M637.2 354.87h-2.3M365.3 350.13h2.3M637.2 350.13h-2.3M365.3 345.39h2.3M637.2 345.39h-2.3M365.3 340.65h2.3M637.2 340.65h-2.3M365.3 335.91h2.3M637.2 335.91h-2.3M365.3 331.17h4.2M637.2 331.17h-4.2M365.3 326.43h2.3M637.2 326.43h-2.3M365.3 321.69h2.3M637.2 321.69h-2.3M365.3 316.95h2.3M637.2 316.95h-2.3M365.3 312.21h2.3M637.2 312.21h-2.3M365.3 307.47h2.3M637.2 307.47h-2.3M365.3 302.73h2.3M637.2 302.73h-2.3M365.3 297.99h2.3M637.2 297.99h-2.3M365.3 293.25h2.3M637.2 293.25h-2.3M365.3 288.51h2.3M637.2 288.51h-2.3M365.3 283.77h4.2M637.2 283.77h-4.2M365.3 279.03h2.3M637.2 279.03h-2.3M365.3 274.29h2.3M637.2 274.29h-2.3M365.3 269.55h2.3M637.2 269.55h-2.3M365.3 264.81h2.3M637.2 264.81h-2.3M365.3 260.07h2.3M637.2 260.07h-2.3M365.3 255.33h2.3M637.2 255.33h-2.3M365.3 250.59h2.3M637.2 250.59h-2.3M365.3 245.85h2.3M637.2 245.85h-2.3M365.3 241.11h2.3M637.2 241.11h-2.3M365.3 236.37h4.2M637.2 236.37h-4.2M365.3 231.63h2.3M637.2 231.63h-2.3M365.3 226.89h2.3M637.2 226.89h-2.3M365.3 222.15h2.3M637.2 222.15h-2.3M365.3 217.41h2.3M637.2 217.41h-2.3M365.3 212.67h2.3M637.2 212.67h-2.3M365.3 207.93h2.3M637.2 207.93h-2.3M365.3 203.19h2.3M637.2 203.19h-2.3M365.3 198.45h2.3M637.2 198.45h-2.3M365.3 193.71h2.3M637.2 193.71h-2.3M365.3 188.97h4.2M637.2 188.97h-4.2M365.3 184.23h2.3M637.2 184.23h-2.3M365.3 179.49h2.3M637.2 179.49h-2.3M365.3 174.75h2.3M637.2 174.75h-2.3M365.3 170.01h2.3M637.2 170.01h-2.3M365.3 165.27h2.3M637.2 165.27h-2.3M365.3 160.53h2.3M637.2 160.53h-2.3M365.3 155.79h2.3M637.2 155.79h-2.3M365.3 151.05h2.3M637.2 151.05h-2.3M365.3 146.31h2.3M637.2 146.31h-2.3M365.3 141.57h4.2M637.2 141.57h-4.2M365.3 136.83h2.3M637.2 136.83h-2.3M365.3 132.09h2.3M637.2 132.09h-2.3M365.3 127.35h2.3M637.2 127.35h-2.3M365.3 122.61h2.3M637.2 122.61h-2.3M365.3 117.87h2.3M637.2 117.87h-2.3M365.3 113.13h2.3M637.2 113.13h-2.3M365.3 108.39h2.3M637.2 108.39h-2.3M365.3 103.65h2.3M637.2 103.65h-2.3M365.3 98.91h2.3M637.2 98.91h-2.3M365.3 94.17h4.2M637.2 94.17h-4.2M365.3 89.43h2.3M637.2 89.43h-2.3M365.3 84.69h2.3M637.2 84.69h-2.3M365.3 79.95h2.3M637.2 79.95h-2.3M365.3 75.21h2.3M637.2 75.21h-2.3M365.3 70.47h2.3M637.2 70.47h-2.3M365.3 65.73h2.3M637.2 65.73h-2.3M365.3 60.99h2.3M637.2 60.99h-2.3M365.3 56.25h2.3M637.2 56.25h-2.3M365.3 51.51h2.3M637.2 51.51h-2.3M365.3 46.77h4.2M637.2 46.77h-4.2M365.3 42.03h2.3M637.2 42.03h-2.3M365.3 37.29h2.3M637.2 37.29h-2.3M365.3 32.55h2.3M637.2 32.55h-2.3M365.3 27.81h2.3M637.2 27.81h-2.3M365.3 23.07h2.3M637.2 23.07h-2.3M365.3 18.33h2.3M637.2 18.33h-2.3M365.3 426v-4.5M365.3 18.2v4.5M374.36 426v-2.3M374.36 18.2v2.3M383.42 426v-2.3M383.42 18.2v2.3M392.48 426v-2.3M392.48 18.2v2.3M401.54 426v-2.3M401.54 18.2v2.3M410.6 426v-4.5M410.6 18.2v4.5M419.66 426v-2.3M419.66 18.2v2.3M428.72 426v-2.3M428.72 18.2v2.3M437.78 426v-2.3M437.78 18.2v2.3M446.84 426v-2.3M446.84 18.2v2.3M455.9 426v-4.5M455.9 18.2v4.5M464.96 426v-2.3M464.96 18.2v2.3M474.02 426v-2.3M474.02 18.2v2.3M483.08 426v-2.3M483.08 18.2v2.3M492.14 426v-2.3M492.14 18.2v2.3M501.2 426v-4.5M501.2 18.2v4.5M510.26 426v-2.3M510.26 18.2v2.3M519.32 426v-2.3M519.32 18.2v2.3M528.38 426v-2.3M528.38 18.2v2.3M537.44 426v-2.3M537.44 18.2v2.3M546.5 426v-4.5M546.5 18.2v4.5M555.56 426v-2.3M555.56 18.2v2.3M564.62 426v-2.3M564.62 18.2v2.3M573.68 426v-2.3M573.68 18.2v2.3M582.74 426v-2.3M582.74 18.2v2.3M591.8 426v-4.5M591.8 18.2v4.5M600.86 426v-2.3M600.86 18.2v2.3M609.92 426v-2.3M609.92 18.2v2.3M618.98 426v-2.3M618.98 18.2v2.3M628.04 426v-2.3M628.04 18.2v2.3M637.1 426v-4.5M637.1 18.2v4.5" stroke="#000" stroke-width="1" fill="none"/>
<text x="362.8" y="430.27" font-size="12.2" text-anchor="end">0</text>
<text x="362.8" y="382.87" font-size="12.2" text-anchor="end">10</text>
<text x="362.8" y="335.47" font-size="12.2" text-anchor="end">20</text>
<text x="362.8" y="288.07" font-size="12.2" text-anchor="end">30</text>
<text x="362.8" y="240.67" font-size="12.2" text-anchor="end">40</text>
<text x="362.8" y="193.27" font-size="12.2" text-anchor="end">50</text>
<text x="362.8" y="145.87" font-size="12.2" text-anchor="end">60</text>
<text x="362.8" y="98.47" font-size="12.2" text-anchor="end">70</text>
<text x="362.8" y="51.07" font-size="12.2" text-anchor="end">80</text>
<text x="365.6" y="440" font-size="12.5" text-anchor="middle">0</text>
<text x="410.9" y="440" font-size="12.5" text-anchor="middle">0.5</text>
<text x="456.2" y="440" font-size="12.5" text-anchor="middle">1</text>
<text x="501.5" y="440" font-size="12.5" text-anchor="middle">1.5</text>
<text x="546.8" y="440" font-size="12.5" text-anchor="middle">2</text>
<text x="592.1" y="440" font-size="12.5" text-anchor="middle">2.5</text>
<text x="637.4" y="440" font-size="12.5" text-anchor="middle">3</text>
<text x="607.5" y="456" font-size="12">&#969; / &#947;<tspan font-size="8" dy="3">1</tspan></text>
<text transform="translate(337.6,208.5) rotate(-90)" font-size="12.5" text-anchor="middle">&#963; / &#963;<tspan font-size="9" dy="3.5">mono</tspan></text>
<text x="645.9" y="20.7" font-size="11.2">n<tspan font-size="8.4" dy="3.4">s</tspan><tspan dy="-3.4"> / n</tspan><tspan font-size="8.4" dy="3.4">0</tspan></text>
<text x="665" y="422.5" font-size="11.5" text-anchor="end">-2.0</text>
<text x="665" y="398.8" font-size="11.5" text-anchor="end">-1.6</text>
<text x="665" y="375.1" font-size="11.5" text-anchor="end">-1.2</text>
<text x="665" y="351.4" font-size="11.5" text-anchor="end">-1.0</text>
<text x="665" y="327.7" font-size="11.5" text-anchor="end">-0.8</text>
<text x="665" y="304" font-size="11.5" text-anchor="end">-0.6</text>
<text x="665" y="280.3" font-size="11.5" text-anchor="end">-0.4</text>
<text x="665" y="256.6" font-size="11.5" text-anchor="end">-0.2</text>
<text x="665" y="232.9" font-size="11.5" text-anchor="end">0.0</text>
<text x="665" y="209.2" font-size="11.5" text-anchor="end">0.2</text>
<text x="665" y="185.5" font-size="11.5" text-anchor="end">0.4</text>
<text x="665" y="161.8" font-size="11.5" text-anchor="end">0.6</text>
<text x="665" y="138.1" font-size="11.5" text-anchor="end">0.8</text>
<text x="665" y="114.4" font-size="11.5" text-anchor="end">1.0</text>
<text x="665" y="90.7" font-size="11.5" text-anchor="end">1.2</text>
<text x="665" y="67" font-size="11.5" text-anchor="end">1.6</text>
<text x="665" y="43.3" font-size="11.5" text-anchor="end">2.0</text>
<g fill="#e3201b" font-size="11.9"><text x="462.6" y="10.6">(B,+,1)</text><text x="513.3" y="10.6">(B,+,2)</text></g>
<path d="M502 7h5.5" stroke="#e3201b" stroke-width="1.2"/><path d="M510.8 7l-4.3-2.2v4.4z" fill="#e3201b"/>
<g fill="#e3201b" font-size="11.9"><text x="443.8" y="457.5">(B,&#8722;,2)</text><text x="494.4" y="457.5">(B,&#8722;,1)</text></g>
<path d="M481.3 452.7h5.5" stroke="#e3201b" stroke-width="1.2"/><path d="M489.9 452.7l-4.3-2.2v4.4z" fill="#e3201b"/>
</svg></body></html>
